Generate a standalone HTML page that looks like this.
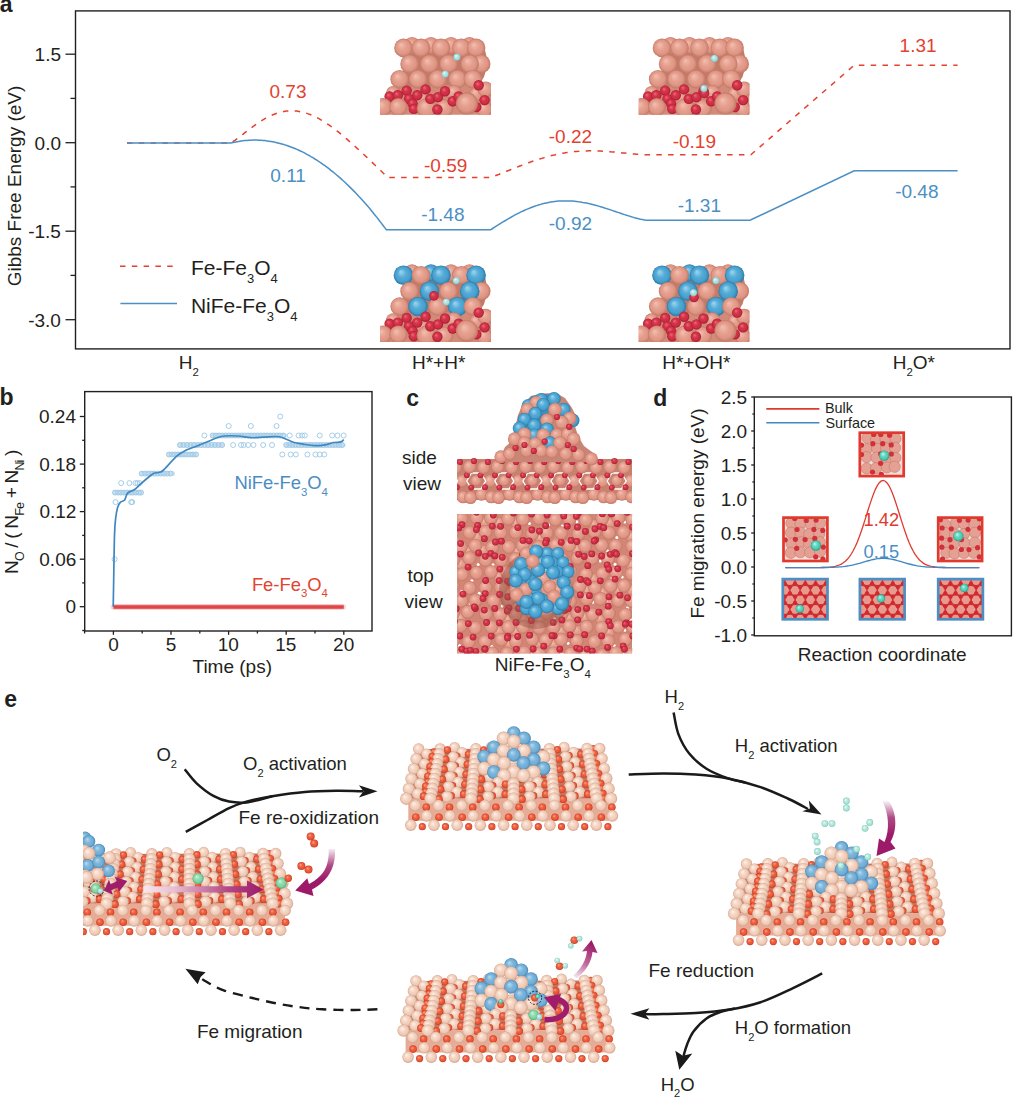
<!DOCTYPE html>
<html><head><meta charset="utf-8"><title>Figure</title>
<style>html,body{margin:0;padding:0;background:#fff;} svg{display:block;}</style></head>
<body><svg width="1017" height="1097" viewBox="0 0 1017 1097" font-family="'Liberation Sans', Arial, Helvetica, sans-serif">
<rect width="1017" height="1097" fill="#fff"/>
<defs>
<radialGradient id="gFe" cx="0.5" cy="0.5" r="0.5" fx="0.36" fy="0.32"><stop offset="0" stop-color="#f3c0b0"/><stop offset="0.45" stop-color="#e6a090"/><stop offset="0.75" stop-color="#df9684"/><stop offset="1" stop-color="#c27866"/></radialGradient>
<radialGradient id="gO" cx="0.5" cy="0.5" r="0.5" fx="0.36" fy="0.32"><stop offset="0" stop-color="#ef6a7c"/><stop offset="0.45" stop-color="#d43348"/><stop offset="0.75" stop-color="#cd2e44"/><stop offset="1" stop-color="#a41c32"/></radialGradient>
<radialGradient id="gNi" cx="0.5" cy="0.5" r="0.5" fx="0.36" fy="0.32"><stop offset="0" stop-color="#9fd7f0"/><stop offset="0.45" stop-color="#54abd6"/><stop offset="0.75" stop-color="#48a0cf"/><stop offset="1" stop-color="#2c7aa6"/></radialGradient>
<radialGradient id="gH" cx="0.5" cy="0.5" r="0.5" fx="0.36" fy="0.32"><stop offset="0" stop-color="#effcfc"/><stop offset="0.45" stop-color="#b2e4e4"/><stop offset="0.75" stop-color="#a4dcdc"/><stop offset="1" stop-color="#78baba"/></radialGradient>
<radialGradient id="gP" cx="0.5" cy="0.5" r="0.5" fx="0.36" fy="0.32"><stop offset="0" stop-color="#fff3ea"/><stop offset="0.45" stop-color="#f5d5c3"/><stop offset="0.75" stop-color="#efcab6"/><stop offset="1" stop-color="#d2a48e"/></radialGradient>
<radialGradient id="gOe" cx="0.5" cy="0.5" r="0.5" fx="0.36" fy="0.32"><stop offset="0" stop-color="#ffa58a"/><stop offset="0.45" stop-color="#f0603f"/><stop offset="0.75" stop-color="#ea5537"/><stop offset="1" stop-color="#c23c22"/></radialGradient>
<radialGradient id="gNe" cx="0.5" cy="0.5" r="0.5" fx="0.36" fy="0.32"><stop offset="0" stop-color="#b8dcf0"/><stop offset="0.45" stop-color="#7cb6dc"/><stop offset="0.75" stop-color="#70acd4"/><stop offset="1" stop-color="#4a88b6"/></radialGradient>
<radialGradient id="gG" cx="0.5" cy="0.5" r="0.5" fx="0.36" fy="0.32"><stop offset="0" stop-color="#d2f5e0"/><stop offset="0.45" stop-color="#8fdcb0"/><stop offset="0.75" stop-color="#7fd3a3"/><stop offset="1" stop-color="#4fae7c"/></radialGradient>
<radialGradient id="gT" cx="0.5" cy="0.5" r="0.5" fx="0.36" fy="0.32"><stop offset="0" stop-color="#b9fff0"/><stop offset="0.45" stop-color="#5fd8c0"/><stop offset="0.75" stop-color="#4ccbb2"/><stop offset="1" stop-color="#2a9a84"/></radialGradient>
<radialGradient id="gTe" cx="0.5" cy="0.5" r="0.5" fx="0.36" fy="0.32"><stop offset="0" stop-color="#eefdf9"/><stop offset="0.45" stop-color="#b8eadf"/><stop offset="0.75" stop-color="#a8e2d5"/><stop offset="1" stop-color="#80c6b8"/></radialGradient>
<radialGradient id="gFd" cx="0.5" cy="0.5" r="0.5" fx="0.36" fy="0.32"><stop offset="0" stop-color="#f7c8bc"/><stop offset="0.45" stop-color="#e8a496"/><stop offset="0.75" stop-color="#e29a8b"/><stop offset="1" stop-color="#c98272"/></radialGradient>
</defs>
<text x="-0.2" y="12.2" font-size="23" fill="#231f20" font-weight="bold">a</text>
<rect x="75.5" y="10.9" width="934.5" height="338" fill="none" stroke="#231f20" stroke-width="1.4"/>
<line x1="65.5" y1="54.2" x2="75.5" y2="54.2" stroke="#231f20" stroke-width="1.3"/>
<text x="34.6" y="61.2" font-size="19" fill="#231f20">1.5</text>
<line x1="65.5" y1="142.7" x2="75.5" y2="142.7" stroke="#231f20" stroke-width="1.3"/>
<text x="34.6" y="149.7" font-size="19" fill="#231f20">0.0</text>
<line x1="65.5" y1="231.2" x2="75.5" y2="231.2" stroke="#231f20" stroke-width="1.3"/>
<text x="28.2" y="238.2" font-size="19" fill="#231f20">-1.5</text>
<line x1="65.5" y1="319.7" x2="75.5" y2="319.7" stroke="#231f20" stroke-width="1.3"/>
<text x="28.2" y="326.7" font-size="19" fill="#231f20">-3.0</text>
<line x1="70.5" y1="98.4" x2="75.5" y2="98.4" stroke="#231f20" stroke-width="1.3"/>
<line x1="70.5" y1="186.9" x2="75.5" y2="186.9" stroke="#231f20" stroke-width="1.3"/>
<line x1="70.5" y1="275.4" x2="75.5" y2="275.4" stroke="#231f20" stroke-width="1.3"/>
<text transform="translate(21.2,186) rotate(-90)" text-anchor="middle" font-size="19" fill="#231f20">Gibbs Free Energy (eV)</text>
<text x="178.8" y="369" font-size="19" fill="#231f20"><tspan>H</tspan><tspan dy="6.5" font-size="11.4">2</tspan></text>
<text x="412" y="369" font-size="19" fill="#231f20">H*+H*</text>
<text x="662.2" y="369" font-size="19" fill="#231f20">H*+OH*</text>
<text x="892.7" y="369" font-size="19" fill="#231f20"><tspan>H</tspan><tspan dy="6.5" font-size="11.4">2</tspan><tspan dy="-6.5">O*</tspan></text>
<path d="M127,142.9 L230.9,143.1 L230.9,143.1 L232.9,141.7 L234.9,140.3 L236.9,138.8 L238.9,137.3 L240.9,135.8 L242.9,134.3 L244.9,132.7 L246.9,131.2 L248.9,129.6 L250.9,128.1 L252.9,126.6 L254.9,125.2 L256.9,123.8 L258.9,122.4 L260.9,121.1 L262.9,119.9 L264.9,118.7 L266.9,117.6 L268.9,116.6 L270.9,115.6 L272.9,114.8 L274.9,114 L276.9,113.3 L278.9,112.6 L280.9,112.1 L282.9,111.7 L284.9,111.3 L286.9,111.1 L288.9,110.9 L290.9,110.8 L292.9,110.8 L294.9,110.9 L296.9,111.1 L298.9,111.4 L300.9,111.8 L302.9,112.2 L304.9,112.7 L306.9,113.4 L308.9,114.1 L310.9,114.8 L312.9,115.7 L314.9,116.6 L316.9,117.6 L318.9,118.7 L320.9,119.8 L322.9,121 L324.9,122.2 L326.9,123.6 L328.9,124.9 L330.9,126.3 L332.9,127.8 L334.9,129.3 L336.9,130.9 L338.9,132.4 L340.9,134.1 L342.9,135.7 L344.9,137.4 L346.9,139.1 L348.9,140.9 L350.9,142.6 L352.9,144.4 L354.9,146.2 L356.9,148.1 L358.9,149.9 L360.9,151.7 L362.9,153.6 L364.9,155.5 L366.9,157.4 L368.9,159.3 L370.9,161.2 L372.9,163.1 L374.9,165 L376.9,166.9 L378.9,168.8 L380.9,170.8 L382.9,172.8 L384.9,174.7 L386.9,176.7 L387.6,177.4 L490.6,177.4 L490.6,177.4 L492.6,176.7 L494.6,176 L496.6,175.2 L498.6,174.5 L500.6,173.7 L502.6,172.9 L504.6,172.1 L506.6,171.3 L508.6,170.5 L510.6,169.7 L512.6,168.9 L514.6,168.1 L516.6,167.3 L518.6,166.5 L520.6,165.8 L522.6,165 L524.6,164.2 L526.6,163.5 L528.6,162.7 L530.6,162 L532.6,161.3 L534.6,160.6 L536.6,159.9 L538.6,159.3 L540.6,158.7 L542.6,158.1 L544.6,157.5 L546.6,156.9 L548.6,156.4 L550.6,155.8 L552.6,155.3 L554.6,154.9 L556.6,154.4 L558.6,154 L560.6,153.6 L562.6,153.2 L564.6,152.9 L566.6,152.6 L568.6,152.3 L570.6,152 L572.6,151.8 L574.6,151.6 L576.6,151.4 L578.6,151.3 L580.6,151.1 L582.6,151 L584.6,150.9 L586.6,150.9 L588.6,150.8 L590.6,150.8 L592.6,150.8 L594.6,150.9 L596.6,150.9 L598.6,151 L600.6,151.1 L602.6,151.2 L604.6,151.3 L606.6,151.4 L608.6,151.6 L610.6,151.8 L612.6,151.9 L614.6,152.1 L616.6,152.3 L618.6,152.5 L620.6,152.7 L622.6,152.9 L624.6,153.1 L626.6,153.3 L628.6,153.5 L630.6,153.7 L632.6,153.9 L634.6,154 L636.6,154.2 L638.6,154.3 L640.6,154.5 L642.6,154.6 L644.6,154.7 L646.6,154.7 L648.6,154.8 L650,154.8 L750.8,154.8 L854.2,65.2 L957.6,65.2" fill="none" stroke="#e4412f" stroke-width="1.5" stroke-dasharray="5.5 6.3"/>
<path d="M127,142.9 L230.9,143.1 L230.9,143.1 L232.9,142.6 L234.9,142.2 L236.9,141.8 L238.9,141.4 L240.9,141.1 L242.9,140.8 L244.9,140.6 L246.9,140.4 L248.9,140.3 L250.9,140.2 L252.9,140.1 L254.9,140.1 L256.9,140.1 L258.9,140.2 L260.9,140.3 L262.9,140.4 L264.9,140.6 L266.9,140.9 L268.9,141.2 L270.9,141.5 L272.9,141.8 L274.9,142.2 L276.9,142.7 L278.9,143.2 L280.9,143.7 L282.9,144.3 L284.9,144.9 L286.9,145.5 L288.9,146.2 L290.9,147 L292.9,147.7 L294.9,148.5 L296.9,149.4 L298.9,150.3 L300.9,151.2 L302.9,152.2 L304.9,153.2 L306.9,154.3 L308.9,155.4 L310.9,156.6 L312.9,157.7 L314.9,159 L316.9,160.2 L318.9,161.5 L320.9,162.9 L322.9,164.3 L324.9,165.7 L326.9,167.2 L328.9,168.7 L330.9,170.3 L332.9,171.9 L334.9,173.5 L336.9,175.2 L338.9,176.9 L340.9,178.6 L342.9,180.5 L344.9,182.3 L346.9,184.2 L348.9,186.1 L350.9,188.1 L352.9,190.1 L354.9,192.1 L356.9,194.2 L358.9,196.4 L360.9,198.5 L362.9,200.7 L364.9,203 L366.9,205.3 L368.9,207.6 L370.9,210 L372.9,212.5 L374.9,214.9 L376.9,217.4 L378.9,220 L380.9,222.6 L382.9,225.2 L384.9,227.9 L386.3,229.8 L490.6,229.8 L490.6,229.8 L492.6,228.5 L494.6,227.2 L496.6,225.9 L498.6,224.7 L500.6,223.4 L502.6,222.2 L504.6,221 L506.6,219.8 L508.6,218.6 L510.6,217.5 L512.6,216.3 L514.6,215.2 L516.6,214.2 L518.6,213.2 L520.6,212.2 L522.6,211.2 L524.6,210.3 L526.6,209.4 L528.6,208.6 L530.6,207.8 L532.6,207 L534.6,206.3 L536.6,205.6 L538.6,205 L540.6,204.4 L542.6,203.8 L544.6,203.3 L546.6,202.9 L548.6,202.5 L550.6,202.1 L552.6,201.8 L554.6,201.5 L556.6,201.3 L558.6,201.1 L560.6,201 L562.6,200.9 L564.6,200.9 L566.6,200.9 L568.6,200.9 L570.6,201 L572.6,201.1 L574.6,201.3 L576.6,201.5 L578.6,201.8 L580.6,202 L582.6,202.4 L584.6,202.7 L586.6,203.1 L588.6,203.6 L590.6,204 L592.6,204.5 L594.6,205 L596.6,205.6 L598.6,206.1 L600.6,206.7 L602.6,207.3 L604.6,208 L606.6,208.6 L608.6,209.3 L610.6,209.9 L612.6,210.6 L614.6,211.3 L616.6,212 L618.6,212.6 L620.6,213.3 L622.6,214 L624.6,214.6 L626.6,215.3 L628.6,215.9 L630.6,216.5 L632.6,217.1 L634.6,217.7 L636.6,218.2 L638.6,218.7 L640.6,219.2 L642.6,219.6 L644.6,220 L646.4,220.3 L750,220.3 L854.2,170.8 L957.6,170.8" fill="none" stroke="#4b8fc4" stroke-width="1.5"/>
<text x="269.5" y="98" font-size="19" fill="#e4412f">0.73</text>
<text x="424" y="172" font-size="19" fill="#e4412f">-0.59</text>
<text x="548.8" y="143.1" font-size="19" fill="#e4412f">-0.22</text>
<text x="672.7" y="147.5" font-size="19" fill="#e4412f">-0.19</text>
<text x="899.6" y="52.4" font-size="19" fill="#e4412f">1.31</text>
<text x="270.3" y="181.5" font-size="19" fill="#4b8fc4">0.11</text>
<text x="421.2" y="220.6" font-size="19" fill="#4b8fc4">-1.48</text>
<text x="548.8" y="229.5" font-size="19" fill="#4b8fc4">-0.92</text>
<text x="677.7" y="211.9" font-size="19" fill="#4b8fc4">-1.31</text>
<text x="895.2" y="197.5" font-size="19" fill="#4b8fc4">-0.48</text>
<line x1="120" y1="266.2" x2="177.2" y2="266.2" stroke="#e4412f" stroke-width="1.5" stroke-dasharray="5.5 6.3"/>
<line x1="120.4" y1="303.5" x2="177" y2="303.5" stroke="#4b8fc4" stroke-width="1.6"/>
<text x="190.9" y="274.9" font-size="21" fill="#231f20"><tspan>Fe-Fe</tspan><tspan dy="7.8" font-size="13">3</tspan><tspan dy="-7.8">O</tspan><tspan dy="7.8" font-size="13">4</tspan></text>
<text x="190.9" y="313.2" font-size="21" fill="#231f20"><tspan>NiFe-Fe</tspan><tspan dy="7.8" font-size="13">3</tspan><tspan dy="-7.8">O</tspan><tspan dy="7.8" font-size="13">4</tspan></text>
<text x="-0.5" y="405.4" font-size="23" fill="#231f20" font-weight="bold">b</text>
<rect x="84.7" y="391.6" width="287.3" height="239.4" fill="none" stroke="#231f20" stroke-width="1.4"/>
<line x1="79.8" y1="606.7" x2="84.7" y2="606.7" stroke="#231f20" stroke-width="1.3"/>
<text x="65.6" y="613.2" font-size="19" fill="#231f20">0</text>
<line x1="79.8" y1="559.2" x2="84.7" y2="559.2" stroke="#231f20" stroke-width="1.3"/>
<text x="39.3" y="565.7" font-size="19" fill="#231f20">0.06</text>
<line x1="79.8" y1="511.6" x2="84.7" y2="511.6" stroke="#231f20" stroke-width="1.3"/>
<text x="39.4" y="518.1" font-size="19" fill="#231f20">0.12</text>
<line x1="79.8" y1="464.1" x2="84.7" y2="464.1" stroke="#231f20" stroke-width="1.3"/>
<text x="39.2" y="470.6" font-size="19" fill="#231f20">0.18</text>
<line x1="79.8" y1="416.5" x2="84.7" y2="416.5" stroke="#231f20" stroke-width="1.3"/>
<text x="39" y="423" font-size="19" fill="#231f20">0.24</text>
<line x1="82.2" y1="630.5" x2="84.7" y2="630.5" stroke="#231f20" stroke-width="1.3"/>
<line x1="82.2" y1="582.9" x2="84.7" y2="582.9" stroke="#231f20" stroke-width="1.3"/>
<line x1="82.2" y1="535.4" x2="84.7" y2="535.4" stroke="#231f20" stroke-width="1.3"/>
<line x1="82.2" y1="487.8" x2="84.7" y2="487.8" stroke="#231f20" stroke-width="1.3"/>
<line x1="82.2" y1="440.3" x2="84.7" y2="440.3" stroke="#231f20" stroke-width="1.3"/>
<line x1="113.4" y1="631" x2="113.4" y2="634.8" stroke="#231f20" stroke-width="1.3"/>
<text x="108.2" y="651" font-size="19" fill="#231f20">0</text>
<line x1="171" y1="631" x2="171" y2="634.8" stroke="#231f20" stroke-width="1.3"/>
<text x="165.7" y="651" font-size="19" fill="#231f20">5</text>
<line x1="228.6" y1="631" x2="228.6" y2="634.8" stroke="#231f20" stroke-width="1.3"/>
<text x="217.7" y="651" font-size="19" fill="#231f20">10</text>
<line x1="286.2" y1="631" x2="286.2" y2="634.8" stroke="#231f20" stroke-width="1.3"/>
<text x="275.3" y="651" font-size="19" fill="#231f20">15</text>
<line x1="343.8" y1="631" x2="343.8" y2="634.8" stroke="#231f20" stroke-width="1.3"/>
<text x="333.1" y="651" font-size="19" fill="#231f20">20</text>
<line x1="84.6" y1="631" x2="84.6" y2="633.5" stroke="#231f20" stroke-width="1.3"/>
<line x1="142.2" y1="631" x2="142.2" y2="633.5" stroke="#231f20" stroke-width="1.3"/>
<line x1="199.8" y1="631" x2="199.8" y2="633.5" stroke="#231f20" stroke-width="1.3"/>
<line x1="257.4" y1="631" x2="257.4" y2="633.5" stroke="#231f20" stroke-width="1.3"/>
<line x1="315" y1="631" x2="315" y2="633.5" stroke="#231f20" stroke-width="1.3"/>
<text x="192.5" y="673.3" font-size="19" fill="#231f20">Time (ps)</text>
<text transform="translate(18.4,511.8) rotate(-90)" text-anchor="middle" font-size="19" fill="#231f20" textLength="124.4" lengthAdjust="spacing">N<tspan font-size="12.5" dy="6">O</tspan><tspan dy="-6"> / ( N</tspan><tspan font-size="12.5" dy="6">Fe</tspan><tspan dy="-6"> + N</tspan><tspan font-size="12.5" dy="6">Ni</tspan><tspan dy="-6"> )</tspan></text>
<rect x="139.2" y="471.1" width="35.8" height="5" rx="2.5" fill="#c9e0f1"/>
<rect x="177.5" y="442.5" width="47.5" height="5" rx="2.5" fill="#c9e0f1"/>
<rect x="210.2" y="433" width="76.7" height="5" rx="2.5" fill="#c9e0f1"/>
<rect x="283.7" y="442.5" width="61.8" height="5" rx="2.5" fill="#c9e0f1"/>
<rect x="112.5" y="490.1" width="19.4" height="5" rx="2.5" fill="#c9e0f1"/>
<rect x="130.3" y="490.1" width="13.2" height="5" rx="2.5" fill="#c9e0f1"/>
<rect x="166.5" y="452" width="32" height="5" rx="2.5" fill="#c9e0f1"/>
<circle cx="280.2" cy="416.5" r="2.5" fill="none" stroke="#9cc7e4" stroke-width="0.9"/>
<circle cx="228.7" cy="426" r="2.5" fill="none" stroke="#9cc7e4" stroke-width="0.9"/>
<circle cx="250.8" cy="426" r="2.5" fill="none" stroke="#9cc7e4" stroke-width="0.9"/>
<circle cx="276.5" cy="426" r="2.5" fill="none" stroke="#9cc7e4" stroke-width="0.9"/>
<circle cx="204.4" cy="435.5" r="2.5" fill="none" stroke="#9cc7e4" stroke-width="0.9"/>
<circle cx="212.7" cy="435.5" r="2.5" fill="none" stroke="#9cc7e4" stroke-width="0.9"/>
<circle cx="215.9" cy="435.5" r="2.5" fill="none" stroke="#9cc7e4" stroke-width="0.9"/>
<circle cx="219.1" cy="435.5" r="2.5" fill="none" stroke="#9cc7e4" stroke-width="0.9"/>
<circle cx="222.3" cy="435.5" r="2.5" fill="none" stroke="#9cc7e4" stroke-width="0.9"/>
<circle cx="225.5" cy="435.5" r="2.5" fill="none" stroke="#9cc7e4" stroke-width="0.9"/>
<circle cx="228.7" cy="435.5" r="2.5" fill="none" stroke="#9cc7e4" stroke-width="0.9"/>
<circle cx="231.9" cy="435.5" r="2.5" fill="none" stroke="#9cc7e4" stroke-width="0.9"/>
<circle cx="235.1" cy="435.5" r="2.5" fill="none" stroke="#9cc7e4" stroke-width="0.9"/>
<circle cx="238.3" cy="435.5" r="2.5" fill="none" stroke="#9cc7e4" stroke-width="0.9"/>
<circle cx="241.5" cy="435.5" r="2.5" fill="none" stroke="#9cc7e4" stroke-width="0.9"/>
<circle cx="244.7" cy="435.5" r="2.5" fill="none" stroke="#9cc7e4" stroke-width="0.9"/>
<circle cx="247.9" cy="435.5" r="2.5" fill="none" stroke="#9cc7e4" stroke-width="0.9"/>
<circle cx="251.1" cy="435.5" r="2.5" fill="none" stroke="#9cc7e4" stroke-width="0.9"/>
<circle cx="254.3" cy="435.5" r="2.5" fill="none" stroke="#9cc7e4" stroke-width="0.9"/>
<circle cx="257.5" cy="435.5" r="2.5" fill="none" stroke="#9cc7e4" stroke-width="0.9"/>
<circle cx="260.7" cy="435.5" r="2.5" fill="none" stroke="#9cc7e4" stroke-width="0.9"/>
<circle cx="263.9" cy="435.5" r="2.5" fill="none" stroke="#9cc7e4" stroke-width="0.9"/>
<circle cx="267.1" cy="435.5" r="2.5" fill="none" stroke="#9cc7e4" stroke-width="0.9"/>
<circle cx="270.3" cy="435.5" r="2.5" fill="none" stroke="#9cc7e4" stroke-width="0.9"/>
<circle cx="273.5" cy="435.5" r="2.5" fill="none" stroke="#9cc7e4" stroke-width="0.9"/>
<circle cx="276.7" cy="435.5" r="2.5" fill="none" stroke="#9cc7e4" stroke-width="0.9"/>
<circle cx="279.9" cy="435.5" r="2.5" fill="none" stroke="#9cc7e4" stroke-width="0.9"/>
<circle cx="283.1" cy="435.5" r="2.5" fill="none" stroke="#9cc7e4" stroke-width="0.9"/>
<circle cx="289.7" cy="435.5" r="2.5" fill="none" stroke="#9cc7e4" stroke-width="0.9"/>
<circle cx="298.6" cy="435.5" r="2.5" fill="none" stroke="#9cc7e4" stroke-width="0.9"/>
<circle cx="302.1" cy="435.5" r="2.5" fill="none" stroke="#9cc7e4" stroke-width="0.9"/>
<circle cx="304.8" cy="435.5" r="2.5" fill="none" stroke="#9cc7e4" stroke-width="0.9"/>
<circle cx="319.8" cy="435.5" r="2.5" fill="none" stroke="#9cc7e4" stroke-width="0.9"/>
<circle cx="332.2" cy="435.5" r="2.5" fill="none" stroke="#9cc7e4" stroke-width="0.9"/>
<circle cx="337.5" cy="435.5" r="2.5" fill="none" stroke="#9cc7e4" stroke-width="0.9"/>
<circle cx="343.7" cy="435.5" r="2.5" fill="none" stroke="#9cc7e4" stroke-width="0.9"/>
<circle cx="180" cy="445" r="2.5" fill="none" stroke="#9cc7e4" stroke-width="0.9"/>
<circle cx="183.5" cy="445" r="2.5" fill="none" stroke="#9cc7e4" stroke-width="0.9"/>
<circle cx="187" cy="445" r="2.5" fill="none" stroke="#9cc7e4" stroke-width="0.9"/>
<circle cx="190.5" cy="445" r="2.5" fill="none" stroke="#9cc7e4" stroke-width="0.9"/>
<circle cx="194" cy="445" r="2.5" fill="none" stroke="#9cc7e4" stroke-width="0.9"/>
<circle cx="197.5" cy="445" r="2.5" fill="none" stroke="#9cc7e4" stroke-width="0.9"/>
<circle cx="201" cy="445" r="2.5" fill="none" stroke="#9cc7e4" stroke-width="0.9"/>
<circle cx="204.5" cy="445" r="2.5" fill="none" stroke="#9cc7e4" stroke-width="0.9"/>
<circle cx="208" cy="445" r="2.5" fill="none" stroke="#9cc7e4" stroke-width="0.9"/>
<circle cx="211.5" cy="445" r="2.5" fill="none" stroke="#9cc7e4" stroke-width="0.9"/>
<circle cx="215" cy="445" r="2.5" fill="none" stroke="#9cc7e4" stroke-width="0.9"/>
<circle cx="218.5" cy="445" r="2.5" fill="none" stroke="#9cc7e4" stroke-width="0.9"/>
<circle cx="222" cy="445" r="2.5" fill="none" stroke="#9cc7e4" stroke-width="0.9"/>
<circle cx="233.1" cy="445" r="2.5" fill="none" stroke="#9cc7e4" stroke-width="0.9"/>
<circle cx="241" cy="445" r="2.5" fill="none" stroke="#9cc7e4" stroke-width="0.9"/>
<circle cx="243.7" cy="445" r="2.5" fill="none" stroke="#9cc7e4" stroke-width="0.9"/>
<circle cx="248.1" cy="445" r="2.5" fill="none" stroke="#9cc7e4" stroke-width="0.9"/>
<circle cx="253.5" cy="445" r="2.5" fill="none" stroke="#9cc7e4" stroke-width="0.9"/>
<circle cx="263.2" cy="445" r="2.5" fill="none" stroke="#9cc7e4" stroke-width="0.9"/>
<circle cx="272" cy="445" r="2.5" fill="none" stroke="#9cc7e4" stroke-width="0.9"/>
<circle cx="286.2" cy="445" r="2.5" fill="none" stroke="#9cc7e4" stroke-width="0.9"/>
<circle cx="289.3" cy="445" r="2.5" fill="none" stroke="#9cc7e4" stroke-width="0.9"/>
<circle cx="292.4" cy="445" r="2.5" fill="none" stroke="#9cc7e4" stroke-width="0.9"/>
<circle cx="295.5" cy="445" r="2.5" fill="none" stroke="#9cc7e4" stroke-width="0.9"/>
<circle cx="298.6" cy="445" r="2.5" fill="none" stroke="#9cc7e4" stroke-width="0.9"/>
<circle cx="301.7" cy="445" r="2.5" fill="none" stroke="#9cc7e4" stroke-width="0.9"/>
<circle cx="304.8" cy="445" r="2.5" fill="none" stroke="#9cc7e4" stroke-width="0.9"/>
<circle cx="307.9" cy="445" r="2.5" fill="none" stroke="#9cc7e4" stroke-width="0.9"/>
<circle cx="311" cy="445" r="2.5" fill="none" stroke="#9cc7e4" stroke-width="0.9"/>
<circle cx="314.1" cy="445" r="2.5" fill="none" stroke="#9cc7e4" stroke-width="0.9"/>
<circle cx="317.2" cy="445" r="2.5" fill="none" stroke="#9cc7e4" stroke-width="0.9"/>
<circle cx="320.3" cy="445" r="2.5" fill="none" stroke="#9cc7e4" stroke-width="0.9"/>
<circle cx="323.4" cy="445" r="2.5" fill="none" stroke="#9cc7e4" stroke-width="0.9"/>
<circle cx="326.5" cy="445" r="2.5" fill="none" stroke="#9cc7e4" stroke-width="0.9"/>
<circle cx="329.6" cy="445" r="2.5" fill="none" stroke="#9cc7e4" stroke-width="0.9"/>
<circle cx="332.7" cy="445" r="2.5" fill="none" stroke="#9cc7e4" stroke-width="0.9"/>
<circle cx="335.8" cy="445" r="2.5" fill="none" stroke="#9cc7e4" stroke-width="0.9"/>
<circle cx="338.9" cy="445" r="2.5" fill="none" stroke="#9cc7e4" stroke-width="0.9"/>
<circle cx="342" cy="445" r="2.5" fill="none" stroke="#9cc7e4" stroke-width="0.9"/>
<circle cx="169" cy="454.5" r="2.5" fill="none" stroke="#9cc7e4" stroke-width="0.9"/>
<circle cx="172" cy="454.5" r="2.5" fill="none" stroke="#9cc7e4" stroke-width="0.9"/>
<circle cx="175" cy="454.5" r="2.5" fill="none" stroke="#9cc7e4" stroke-width="0.9"/>
<circle cx="178" cy="454.5" r="2.5" fill="none" stroke="#9cc7e4" stroke-width="0.9"/>
<circle cx="181" cy="454.5" r="2.5" fill="none" stroke="#9cc7e4" stroke-width="0.9"/>
<circle cx="184" cy="454.5" r="2.5" fill="none" stroke="#9cc7e4" stroke-width="0.9"/>
<circle cx="187" cy="454.5" r="2.5" fill="none" stroke="#9cc7e4" stroke-width="0.9"/>
<circle cx="190" cy="454.5" r="2.5" fill="none" stroke="#9cc7e4" stroke-width="0.9"/>
<circle cx="193" cy="454.5" r="2.5" fill="none" stroke="#9cc7e4" stroke-width="0.9"/>
<circle cx="196" cy="454.5" r="2.5" fill="none" stroke="#9cc7e4" stroke-width="0.9"/>
<circle cx="282.3" cy="454.5" r="2.5" fill="none" stroke="#9cc7e4" stroke-width="0.9"/>
<circle cx="290.6" cy="454.5" r="2.5" fill="none" stroke="#9cc7e4" stroke-width="0.9"/>
<circle cx="295.9" cy="454.5" r="2.5" fill="none" stroke="#9cc7e4" stroke-width="0.9"/>
<circle cx="307.4" cy="454.5" r="2.5" fill="none" stroke="#9cc7e4" stroke-width="0.9"/>
<circle cx="315.4" cy="454.5" r="2.5" fill="none" stroke="#9cc7e4" stroke-width="0.9"/>
<circle cx="319.8" cy="454.5" r="2.5" fill="none" stroke="#9cc7e4" stroke-width="0.9"/>
<circle cx="324.2" cy="454.5" r="2.5" fill="none" stroke="#9cc7e4" stroke-width="0.9"/>
<circle cx="141.7" cy="473.6" r="2.5" fill="none" stroke="#9cc7e4" stroke-width="0.9"/>
<circle cx="144.9" cy="473.6" r="2.5" fill="none" stroke="#9cc7e4" stroke-width="0.9"/>
<circle cx="148.1" cy="473.6" r="2.5" fill="none" stroke="#9cc7e4" stroke-width="0.9"/>
<circle cx="151.3" cy="473.6" r="2.5" fill="none" stroke="#9cc7e4" stroke-width="0.9"/>
<circle cx="154.5" cy="473.6" r="2.5" fill="none" stroke="#9cc7e4" stroke-width="0.9"/>
<circle cx="157.7" cy="473.6" r="2.5" fill="none" stroke="#9cc7e4" stroke-width="0.9"/>
<circle cx="160.9" cy="473.6" r="2.5" fill="none" stroke="#9cc7e4" stroke-width="0.9"/>
<circle cx="164.1" cy="473.6" r="2.5" fill="none" stroke="#9cc7e4" stroke-width="0.9"/>
<circle cx="167.3" cy="473.6" r="2.5" fill="none" stroke="#9cc7e4" stroke-width="0.9"/>
<circle cx="170.5" cy="473.6" r="2.5" fill="none" stroke="#9cc7e4" stroke-width="0.9"/>
<circle cx="121.2" cy="483.1" r="2.5" fill="none" stroke="#9cc7e4" stroke-width="0.9"/>
<circle cx="129.4" cy="483.1" r="2.5" fill="none" stroke="#9cc7e4" stroke-width="0.9"/>
<circle cx="135.5" cy="483.1" r="2.5" fill="none" stroke="#9cc7e4" stroke-width="0.9"/>
<circle cx="137.5" cy="483.1" r="2.5" fill="none" stroke="#9cc7e4" stroke-width="0.9"/>
<circle cx="139.7" cy="483.1" r="2.5" fill="none" stroke="#9cc7e4" stroke-width="0.9"/>
<circle cx="115" cy="492.6" r="2.5" fill="none" stroke="#9cc7e4" stroke-width="0.9"/>
<circle cx="118" cy="492.6" r="2.5" fill="none" stroke="#9cc7e4" stroke-width="0.9"/>
<circle cx="121" cy="492.6" r="2.5" fill="none" stroke="#9cc7e4" stroke-width="0.9"/>
<circle cx="124" cy="492.6" r="2.5" fill="none" stroke="#9cc7e4" stroke-width="0.9"/>
<circle cx="127" cy="492.6" r="2.5" fill="none" stroke="#9cc7e4" stroke-width="0.9"/>
<circle cx="130" cy="492.6" r="2.5" fill="none" stroke="#9cc7e4" stroke-width="0.9"/>
<circle cx="132.8" cy="492.6" r="2.5" fill="none" stroke="#9cc7e4" stroke-width="0.9"/>
<circle cx="135.8" cy="492.6" r="2.5" fill="none" stroke="#9cc7e4" stroke-width="0.9"/>
<circle cx="138.8" cy="492.6" r="2.5" fill="none" stroke="#9cc7e4" stroke-width="0.9"/>
<circle cx="141" cy="492.6" r="2.5" fill="none" stroke="#9cc7e4" stroke-width="0.9"/>
<circle cx="115.5" cy="502.1" r="2.5" fill="none" stroke="#9cc7e4" stroke-width="0.9"/>
<circle cx="131.2" cy="502.1" r="2.5" fill="none" stroke="#9cc7e4" stroke-width="0.9"/>
<circle cx="132.2" cy="502.1" r="2.5" fill="none" stroke="#9cc7e4" stroke-width="0.9"/>
<circle cx="114.6" cy="559.2" r="2.5" fill="none" stroke="#9cc7e4" stroke-width="0.9"/>
<circle cx="113.4" cy="606.9" r="2.3" fill="none" stroke="#f2b4b0" stroke-width="0.6"/>
<circle cx="114.6" cy="606.9" r="2.3" fill="none" stroke="#f2b4b0" stroke-width="0.6"/>
<circle cx="115.7" cy="606.9" r="2.3" fill="none" stroke="#f2b4b0" stroke-width="0.6"/>
<circle cx="116.9" cy="606.9" r="2.3" fill="none" stroke="#f2b4b0" stroke-width="0.6"/>
<circle cx="118" cy="606.9" r="2.3" fill="none" stroke="#f2b4b0" stroke-width="0.6"/>
<circle cx="119.2" cy="606.9" r="2.3" fill="none" stroke="#f2b4b0" stroke-width="0.6"/>
<circle cx="120.3" cy="606.9" r="2.3" fill="none" stroke="#f2b4b0" stroke-width="0.6"/>
<circle cx="121.5" cy="606.9" r="2.3" fill="none" stroke="#f2b4b0" stroke-width="0.6"/>
<circle cx="122.6" cy="606.9" r="2.3" fill="none" stroke="#f2b4b0" stroke-width="0.6"/>
<circle cx="123.8" cy="606.9" r="2.3" fill="none" stroke="#f2b4b0" stroke-width="0.6"/>
<circle cx="124.9" cy="606.9" r="2.3" fill="none" stroke="#f2b4b0" stroke-width="0.6"/>
<circle cx="126.1" cy="606.9" r="2.3" fill="none" stroke="#f2b4b0" stroke-width="0.6"/>
<circle cx="127.2" cy="606.9" r="2.3" fill="none" stroke="#f2b4b0" stroke-width="0.6"/>
<circle cx="128.3" cy="606.9" r="2.3" fill="none" stroke="#f2b4b0" stroke-width="0.6"/>
<circle cx="129.5" cy="606.9" r="2.3" fill="none" stroke="#f2b4b0" stroke-width="0.6"/>
<circle cx="130.7" cy="606.9" r="2.3" fill="none" stroke="#f2b4b0" stroke-width="0.6"/>
<circle cx="131.8" cy="606.9" r="2.3" fill="none" stroke="#f2b4b0" stroke-width="0.6"/>
<circle cx="132.9" cy="606.9" r="2.3" fill="none" stroke="#f2b4b0" stroke-width="0.6"/>
<circle cx="134.1" cy="606.9" r="2.3" fill="none" stroke="#f2b4b0" stroke-width="0.6"/>
<circle cx="135.2" cy="606.9" r="2.3" fill="none" stroke="#f2b4b0" stroke-width="0.6"/>
<circle cx="136.4" cy="606.9" r="2.3" fill="none" stroke="#f2b4b0" stroke-width="0.6"/>
<circle cx="137.6" cy="606.9" r="2.3" fill="none" stroke="#f2b4b0" stroke-width="0.6"/>
<circle cx="138.7" cy="606.9" r="2.3" fill="none" stroke="#f2b4b0" stroke-width="0.6"/>
<circle cx="139.8" cy="606.9" r="2.3" fill="none" stroke="#f2b4b0" stroke-width="0.6"/>
<circle cx="141" cy="606.9" r="2.3" fill="none" stroke="#f2b4b0" stroke-width="0.6"/>
<circle cx="142.2" cy="606.9" r="2.3" fill="none" stroke="#f2b4b0" stroke-width="0.6"/>
<circle cx="143.3" cy="606.9" r="2.3" fill="none" stroke="#f2b4b0" stroke-width="0.6"/>
<circle cx="144.4" cy="606.9" r="2.3" fill="none" stroke="#f2b4b0" stroke-width="0.6"/>
<circle cx="145.6" cy="606.9" r="2.3" fill="none" stroke="#f2b4b0" stroke-width="0.6"/>
<circle cx="146.8" cy="606.9" r="2.3" fill="none" stroke="#f2b4b0" stroke-width="0.6"/>
<circle cx="147.9" cy="606.9" r="2.3" fill="none" stroke="#f2b4b0" stroke-width="0.6"/>
<circle cx="149.1" cy="606.9" r="2.3" fill="none" stroke="#f2b4b0" stroke-width="0.6"/>
<circle cx="150.2" cy="606.9" r="2.3" fill="none" stroke="#f2b4b0" stroke-width="0.6"/>
<circle cx="151.3" cy="606.9" r="2.3" fill="none" stroke="#f2b4b0" stroke-width="0.6"/>
<circle cx="152.5" cy="606.9" r="2.3" fill="none" stroke="#f2b4b0" stroke-width="0.6"/>
<circle cx="153.7" cy="606.9" r="2.3" fill="none" stroke="#f2b4b0" stroke-width="0.6"/>
<circle cx="154.8" cy="606.9" r="2.3" fill="none" stroke="#f2b4b0" stroke-width="0.6"/>
<circle cx="155.9" cy="606.9" r="2.3" fill="none" stroke="#f2b4b0" stroke-width="0.6"/>
<circle cx="157.1" cy="606.9" r="2.3" fill="none" stroke="#f2b4b0" stroke-width="0.6"/>
<circle cx="158.2" cy="606.9" r="2.3" fill="none" stroke="#f2b4b0" stroke-width="0.6"/>
<circle cx="159.4" cy="606.9" r="2.3" fill="none" stroke="#f2b4b0" stroke-width="0.6"/>
<circle cx="160.6" cy="606.9" r="2.3" fill="none" stroke="#f2b4b0" stroke-width="0.6"/>
<circle cx="161.7" cy="606.9" r="2.3" fill="none" stroke="#f2b4b0" stroke-width="0.6"/>
<circle cx="162.8" cy="606.9" r="2.3" fill="none" stroke="#f2b4b0" stroke-width="0.6"/>
<circle cx="164" cy="606.9" r="2.3" fill="none" stroke="#f2b4b0" stroke-width="0.6"/>
<circle cx="165.2" cy="606.9" r="2.3" fill="none" stroke="#f2b4b0" stroke-width="0.6"/>
<circle cx="166.3" cy="606.9" r="2.3" fill="none" stroke="#f2b4b0" stroke-width="0.6"/>
<circle cx="167.4" cy="606.9" r="2.3" fill="none" stroke="#f2b4b0" stroke-width="0.6"/>
<circle cx="168.6" cy="606.9" r="2.3" fill="none" stroke="#f2b4b0" stroke-width="0.6"/>
<circle cx="169.8" cy="606.9" r="2.3" fill="none" stroke="#f2b4b0" stroke-width="0.6"/>
<circle cx="170.9" cy="606.9" r="2.3" fill="none" stroke="#f2b4b0" stroke-width="0.6"/>
<circle cx="172.1" cy="606.9" r="2.3" fill="none" stroke="#f2b4b0" stroke-width="0.6"/>
<circle cx="173.2" cy="606.9" r="2.3" fill="none" stroke="#f2b4b0" stroke-width="0.6"/>
<circle cx="174.3" cy="606.9" r="2.3" fill="none" stroke="#f2b4b0" stroke-width="0.6"/>
<circle cx="175.5" cy="606.9" r="2.3" fill="none" stroke="#f2b4b0" stroke-width="0.6"/>
<circle cx="176.7" cy="606.9" r="2.3" fill="none" stroke="#f2b4b0" stroke-width="0.6"/>
<circle cx="177.8" cy="606.9" r="2.3" fill="none" stroke="#f2b4b0" stroke-width="0.6"/>
<circle cx="178.9" cy="606.9" r="2.3" fill="none" stroke="#f2b4b0" stroke-width="0.6"/>
<circle cx="180.1" cy="606.9" r="2.3" fill="none" stroke="#f2b4b0" stroke-width="0.6"/>
<circle cx="181.2" cy="606.9" r="2.3" fill="none" stroke="#f2b4b0" stroke-width="0.6"/>
<circle cx="182.4" cy="606.9" r="2.3" fill="none" stroke="#f2b4b0" stroke-width="0.6"/>
<circle cx="183.6" cy="606.9" r="2.3" fill="none" stroke="#f2b4b0" stroke-width="0.6"/>
<circle cx="184.7" cy="606.9" r="2.3" fill="none" stroke="#f2b4b0" stroke-width="0.6"/>
<circle cx="185.8" cy="606.9" r="2.3" fill="none" stroke="#f2b4b0" stroke-width="0.6"/>
<circle cx="187" cy="606.9" r="2.3" fill="none" stroke="#f2b4b0" stroke-width="0.6"/>
<circle cx="188.2" cy="606.9" r="2.3" fill="none" stroke="#f2b4b0" stroke-width="0.6"/>
<circle cx="189.3" cy="606.9" r="2.3" fill="none" stroke="#f2b4b0" stroke-width="0.6"/>
<circle cx="190.4" cy="606.9" r="2.3" fill="none" stroke="#f2b4b0" stroke-width="0.6"/>
<circle cx="191.6" cy="606.9" r="2.3" fill="none" stroke="#f2b4b0" stroke-width="0.6"/>
<circle cx="192.8" cy="606.9" r="2.3" fill="none" stroke="#f2b4b0" stroke-width="0.6"/>
<circle cx="193.9" cy="606.9" r="2.3" fill="none" stroke="#f2b4b0" stroke-width="0.6"/>
<circle cx="195.1" cy="606.9" r="2.3" fill="none" stroke="#f2b4b0" stroke-width="0.6"/>
<circle cx="196.2" cy="606.9" r="2.3" fill="none" stroke="#f2b4b0" stroke-width="0.6"/>
<circle cx="197.3" cy="606.9" r="2.3" fill="none" stroke="#f2b4b0" stroke-width="0.6"/>
<circle cx="198.5" cy="606.9" r="2.3" fill="none" stroke="#f2b4b0" stroke-width="0.6"/>
<circle cx="199.7" cy="606.9" r="2.3" fill="none" stroke="#f2b4b0" stroke-width="0.6"/>
<circle cx="200.8" cy="606.9" r="2.3" fill="none" stroke="#f2b4b0" stroke-width="0.6"/>
<circle cx="201.9" cy="606.9" r="2.3" fill="none" stroke="#f2b4b0" stroke-width="0.6"/>
<circle cx="203.1" cy="606.9" r="2.3" fill="none" stroke="#f2b4b0" stroke-width="0.6"/>
<circle cx="204.2" cy="606.9" r="2.3" fill="none" stroke="#f2b4b0" stroke-width="0.6"/>
<circle cx="205.4" cy="606.9" r="2.3" fill="none" stroke="#f2b4b0" stroke-width="0.6"/>
<circle cx="206.6" cy="606.9" r="2.3" fill="none" stroke="#f2b4b0" stroke-width="0.6"/>
<circle cx="207.7" cy="606.9" r="2.3" fill="none" stroke="#f2b4b0" stroke-width="0.6"/>
<circle cx="208.8" cy="606.9" r="2.3" fill="none" stroke="#f2b4b0" stroke-width="0.6"/>
<circle cx="210" cy="606.9" r="2.3" fill="none" stroke="#f2b4b0" stroke-width="0.6"/>
<circle cx="211.1" cy="606.9" r="2.3" fill="none" stroke="#f2b4b0" stroke-width="0.6"/>
<circle cx="212.3" cy="606.9" r="2.3" fill="none" stroke="#f2b4b0" stroke-width="0.6"/>
<circle cx="213.4" cy="606.9" r="2.3" fill="none" stroke="#f2b4b0" stroke-width="0.6"/>
<circle cx="214.6" cy="606.9" r="2.3" fill="none" stroke="#f2b4b0" stroke-width="0.6"/>
<circle cx="215.8" cy="606.9" r="2.3" fill="none" stroke="#f2b4b0" stroke-width="0.6"/>
<circle cx="216.9" cy="606.9" r="2.3" fill="none" stroke="#f2b4b0" stroke-width="0.6"/>
<circle cx="218.1" cy="606.9" r="2.3" fill="none" stroke="#f2b4b0" stroke-width="0.6"/>
<circle cx="219.2" cy="606.9" r="2.3" fill="none" stroke="#f2b4b0" stroke-width="0.6"/>
<circle cx="220.3" cy="606.9" r="2.3" fill="none" stroke="#f2b4b0" stroke-width="0.6"/>
<circle cx="221.5" cy="606.9" r="2.3" fill="none" stroke="#f2b4b0" stroke-width="0.6"/>
<circle cx="222.6" cy="606.9" r="2.3" fill="none" stroke="#f2b4b0" stroke-width="0.6"/>
<circle cx="223.8" cy="606.9" r="2.3" fill="none" stroke="#f2b4b0" stroke-width="0.6"/>
<circle cx="224.9" cy="606.9" r="2.3" fill="none" stroke="#f2b4b0" stroke-width="0.6"/>
<circle cx="226.1" cy="606.9" r="2.3" fill="none" stroke="#f2b4b0" stroke-width="0.6"/>
<circle cx="227.2" cy="606.9" r="2.3" fill="none" stroke="#f2b4b0" stroke-width="0.6"/>
<circle cx="228.4" cy="606.9" r="2.3" fill="none" stroke="#f2b4b0" stroke-width="0.6"/>
<circle cx="229.6" cy="606.9" r="2.3" fill="none" stroke="#f2b4b0" stroke-width="0.6"/>
<circle cx="230.7" cy="606.9" r="2.3" fill="none" stroke="#f2b4b0" stroke-width="0.6"/>
<circle cx="231.8" cy="606.9" r="2.3" fill="none" stroke="#f2b4b0" stroke-width="0.6"/>
<circle cx="233" cy="606.9" r="2.3" fill="none" stroke="#f2b4b0" stroke-width="0.6"/>
<circle cx="234.1" cy="606.9" r="2.3" fill="none" stroke="#f2b4b0" stroke-width="0.6"/>
<circle cx="235.3" cy="606.9" r="2.3" fill="none" stroke="#f2b4b0" stroke-width="0.6"/>
<circle cx="236.4" cy="606.9" r="2.3" fill="none" stroke="#f2b4b0" stroke-width="0.6"/>
<circle cx="237.6" cy="606.9" r="2.3" fill="none" stroke="#f2b4b0" stroke-width="0.6"/>
<circle cx="238.8" cy="606.9" r="2.3" fill="none" stroke="#f2b4b0" stroke-width="0.6"/>
<circle cx="239.9" cy="606.9" r="2.3" fill="none" stroke="#f2b4b0" stroke-width="0.6"/>
<circle cx="241.1" cy="606.9" r="2.3" fill="none" stroke="#f2b4b0" stroke-width="0.6"/>
<circle cx="242.2" cy="606.9" r="2.3" fill="none" stroke="#f2b4b0" stroke-width="0.6"/>
<circle cx="243.3" cy="606.9" r="2.3" fill="none" stroke="#f2b4b0" stroke-width="0.6"/>
<circle cx="244.5" cy="606.9" r="2.3" fill="none" stroke="#f2b4b0" stroke-width="0.6"/>
<circle cx="245.7" cy="606.9" r="2.3" fill="none" stroke="#f2b4b0" stroke-width="0.6"/>
<circle cx="246.8" cy="606.9" r="2.3" fill="none" stroke="#f2b4b0" stroke-width="0.6"/>
<circle cx="247.9" cy="606.9" r="2.3" fill="none" stroke="#f2b4b0" stroke-width="0.6"/>
<circle cx="249.1" cy="606.9" r="2.3" fill="none" stroke="#f2b4b0" stroke-width="0.6"/>
<circle cx="250.2" cy="606.9" r="2.3" fill="none" stroke="#f2b4b0" stroke-width="0.6"/>
<circle cx="251.4" cy="606.9" r="2.3" fill="none" stroke="#f2b4b0" stroke-width="0.6"/>
<circle cx="252.5" cy="606.9" r="2.3" fill="none" stroke="#f2b4b0" stroke-width="0.6"/>
<circle cx="253.7" cy="606.9" r="2.3" fill="none" stroke="#f2b4b0" stroke-width="0.6"/>
<circle cx="254.8" cy="606.9" r="2.3" fill="none" stroke="#f2b4b0" stroke-width="0.6"/>
<circle cx="256" cy="606.9" r="2.3" fill="none" stroke="#f2b4b0" stroke-width="0.6"/>
<circle cx="257.1" cy="606.9" r="2.3" fill="none" stroke="#f2b4b0" stroke-width="0.6"/>
<circle cx="258.3" cy="606.9" r="2.3" fill="none" stroke="#f2b4b0" stroke-width="0.6"/>
<circle cx="259.4" cy="606.9" r="2.3" fill="none" stroke="#f2b4b0" stroke-width="0.6"/>
<circle cx="260.6" cy="606.9" r="2.3" fill="none" stroke="#f2b4b0" stroke-width="0.6"/>
<circle cx="261.8" cy="606.9" r="2.3" fill="none" stroke="#f2b4b0" stroke-width="0.6"/>
<circle cx="262.9" cy="606.9" r="2.3" fill="none" stroke="#f2b4b0" stroke-width="0.6"/>
<circle cx="264" cy="606.9" r="2.3" fill="none" stroke="#f2b4b0" stroke-width="0.6"/>
<circle cx="265.2" cy="606.9" r="2.3" fill="none" stroke="#f2b4b0" stroke-width="0.6"/>
<circle cx="266.4" cy="606.9" r="2.3" fill="none" stroke="#f2b4b0" stroke-width="0.6"/>
<circle cx="267.5" cy="606.9" r="2.3" fill="none" stroke="#f2b4b0" stroke-width="0.6"/>
<circle cx="268.6" cy="606.9" r="2.3" fill="none" stroke="#f2b4b0" stroke-width="0.6"/>
<circle cx="269.8" cy="606.9" r="2.3" fill="none" stroke="#f2b4b0" stroke-width="0.6"/>
<circle cx="270.9" cy="606.9" r="2.3" fill="none" stroke="#f2b4b0" stroke-width="0.6"/>
<circle cx="272.1" cy="606.9" r="2.3" fill="none" stroke="#f2b4b0" stroke-width="0.6"/>
<circle cx="273.2" cy="606.9" r="2.3" fill="none" stroke="#f2b4b0" stroke-width="0.6"/>
<circle cx="274.4" cy="606.9" r="2.3" fill="none" stroke="#f2b4b0" stroke-width="0.6"/>
<circle cx="275.5" cy="606.9" r="2.3" fill="none" stroke="#f2b4b0" stroke-width="0.6"/>
<circle cx="276.7" cy="606.9" r="2.3" fill="none" stroke="#f2b4b0" stroke-width="0.6"/>
<circle cx="277.9" cy="606.9" r="2.3" fill="none" stroke="#f2b4b0" stroke-width="0.6"/>
<circle cx="279" cy="606.9" r="2.3" fill="none" stroke="#f2b4b0" stroke-width="0.6"/>
<circle cx="280.1" cy="606.9" r="2.3" fill="none" stroke="#f2b4b0" stroke-width="0.6"/>
<circle cx="281.3" cy="606.9" r="2.3" fill="none" stroke="#f2b4b0" stroke-width="0.6"/>
<circle cx="282.4" cy="606.9" r="2.3" fill="none" stroke="#f2b4b0" stroke-width="0.6"/>
<circle cx="283.6" cy="606.9" r="2.3" fill="none" stroke="#f2b4b0" stroke-width="0.6"/>
<circle cx="284.8" cy="606.9" r="2.3" fill="none" stroke="#f2b4b0" stroke-width="0.6"/>
<circle cx="285.9" cy="606.9" r="2.3" fill="none" stroke="#f2b4b0" stroke-width="0.6"/>
<circle cx="287" cy="606.9" r="2.3" fill="none" stroke="#f2b4b0" stroke-width="0.6"/>
<circle cx="288.2" cy="606.9" r="2.3" fill="none" stroke="#f2b4b0" stroke-width="0.6"/>
<circle cx="289.4" cy="606.9" r="2.3" fill="none" stroke="#f2b4b0" stroke-width="0.6"/>
<circle cx="290.5" cy="606.9" r="2.3" fill="none" stroke="#f2b4b0" stroke-width="0.6"/>
<circle cx="291.6" cy="606.9" r="2.3" fill="none" stroke="#f2b4b0" stroke-width="0.6"/>
<circle cx="292.8" cy="606.9" r="2.3" fill="none" stroke="#f2b4b0" stroke-width="0.6"/>
<circle cx="293.9" cy="606.9" r="2.3" fill="none" stroke="#f2b4b0" stroke-width="0.6"/>
<circle cx="295.1" cy="606.9" r="2.3" fill="none" stroke="#f2b4b0" stroke-width="0.6"/>
<circle cx="296.2" cy="606.9" r="2.3" fill="none" stroke="#f2b4b0" stroke-width="0.6"/>
<circle cx="297.4" cy="606.9" r="2.3" fill="none" stroke="#f2b4b0" stroke-width="0.6"/>
<circle cx="298.5" cy="606.9" r="2.3" fill="none" stroke="#f2b4b0" stroke-width="0.6"/>
<circle cx="299.7" cy="606.9" r="2.3" fill="none" stroke="#f2b4b0" stroke-width="0.6"/>
<circle cx="300.9" cy="606.9" r="2.3" fill="none" stroke="#f2b4b0" stroke-width="0.6"/>
<circle cx="302" cy="606.9" r="2.3" fill="none" stroke="#f2b4b0" stroke-width="0.6"/>
<circle cx="303.1" cy="606.9" r="2.3" fill="none" stroke="#f2b4b0" stroke-width="0.6"/>
<circle cx="304.3" cy="606.9" r="2.3" fill="none" stroke="#f2b4b0" stroke-width="0.6"/>
<circle cx="305.4" cy="606.9" r="2.3" fill="none" stroke="#f2b4b0" stroke-width="0.6"/>
<circle cx="306.6" cy="606.9" r="2.3" fill="none" stroke="#f2b4b0" stroke-width="0.6"/>
<circle cx="307.8" cy="606.9" r="2.3" fill="none" stroke="#f2b4b0" stroke-width="0.6"/>
<circle cx="308.9" cy="606.9" r="2.3" fill="none" stroke="#f2b4b0" stroke-width="0.6"/>
<circle cx="310" cy="606.9" r="2.3" fill="none" stroke="#f2b4b0" stroke-width="0.6"/>
<circle cx="311.2" cy="606.9" r="2.3" fill="none" stroke="#f2b4b0" stroke-width="0.6"/>
<circle cx="312.4" cy="606.9" r="2.3" fill="none" stroke="#f2b4b0" stroke-width="0.6"/>
<circle cx="313.5" cy="606.9" r="2.3" fill="none" stroke="#f2b4b0" stroke-width="0.6"/>
<circle cx="314.6" cy="606.9" r="2.3" fill="none" stroke="#f2b4b0" stroke-width="0.6"/>
<circle cx="315.8" cy="606.9" r="2.3" fill="none" stroke="#f2b4b0" stroke-width="0.6"/>
<circle cx="316.9" cy="606.9" r="2.3" fill="none" stroke="#f2b4b0" stroke-width="0.6"/>
<circle cx="318.1" cy="606.9" r="2.3" fill="none" stroke="#f2b4b0" stroke-width="0.6"/>
<circle cx="319.2" cy="606.9" r="2.3" fill="none" stroke="#f2b4b0" stroke-width="0.6"/>
<circle cx="320.4" cy="606.9" r="2.3" fill="none" stroke="#f2b4b0" stroke-width="0.6"/>
<circle cx="321.5" cy="606.9" r="2.3" fill="none" stroke="#f2b4b0" stroke-width="0.6"/>
<circle cx="322.7" cy="606.9" r="2.3" fill="none" stroke="#f2b4b0" stroke-width="0.6"/>
<circle cx="323.9" cy="606.9" r="2.3" fill="none" stroke="#f2b4b0" stroke-width="0.6"/>
<circle cx="325" cy="606.9" r="2.3" fill="none" stroke="#f2b4b0" stroke-width="0.6"/>
<circle cx="326.1" cy="606.9" r="2.3" fill="none" stroke="#f2b4b0" stroke-width="0.6"/>
<circle cx="327.3" cy="606.9" r="2.3" fill="none" stroke="#f2b4b0" stroke-width="0.6"/>
<circle cx="328.4" cy="606.9" r="2.3" fill="none" stroke="#f2b4b0" stroke-width="0.6"/>
<circle cx="329.6" cy="606.9" r="2.3" fill="none" stroke="#f2b4b0" stroke-width="0.6"/>
<circle cx="330.8" cy="606.9" r="2.3" fill="none" stroke="#f2b4b0" stroke-width="0.6"/>
<circle cx="331.9" cy="606.9" r="2.3" fill="none" stroke="#f2b4b0" stroke-width="0.6"/>
<circle cx="333" cy="606.9" r="2.3" fill="none" stroke="#f2b4b0" stroke-width="0.6"/>
<circle cx="334.2" cy="606.9" r="2.3" fill="none" stroke="#f2b4b0" stroke-width="0.6"/>
<circle cx="335.4" cy="606.9" r="2.3" fill="none" stroke="#f2b4b0" stroke-width="0.6"/>
<circle cx="336.5" cy="606.9" r="2.3" fill="none" stroke="#f2b4b0" stroke-width="0.6"/>
<circle cx="337.6" cy="606.9" r="2.3" fill="none" stroke="#f2b4b0" stroke-width="0.6"/>
<circle cx="338.8" cy="606.9" r="2.3" fill="none" stroke="#f2b4b0" stroke-width="0.6"/>
<circle cx="339.9" cy="606.9" r="2.3" fill="none" stroke="#f2b4b0" stroke-width="0.6"/>
<circle cx="341.1" cy="606.9" r="2.3" fill="none" stroke="#f2b4b0" stroke-width="0.6"/>
<circle cx="342.2" cy="606.9" r="2.3" fill="none" stroke="#f2b4b0" stroke-width="0.6"/>
<circle cx="343.4" cy="606.9" r="2.3" fill="none" stroke="#f2b4b0" stroke-width="0.6"/>
<line x1="113.4" y1="607" x2="343.8" y2="607" stroke="#e0454a" stroke-width="3.4"/>
<path d="M113.2,606.8 C113.3,602.2 113.5,590.8 113.7,579.4 C113.9,568 114.1,548.6 114.4,538.4 C114.7,528.1 115.1,523.1 115.7,517.9 C116.3,512.6 117,509.5 117.8,506.9 C118.6,504.3 119.4,503.2 120.5,502.1 C121.6,501 123.6,501.4 124.6,500.1 C125.6,498.9 126,495.9 126.7,494.6 C127.4,493.3 127.4,493 128.7,492.2 C129.9,491.4 132.1,491.2 134.2,489.8 C136.2,488.4 138.3,486.1 141,483.7 C143.7,481.3 148.3,477.3 150.6,475.5 C152.9,473.7 153.3,473.5 154.7,473 C156.1,472.5 157.3,473 158.8,472.5 C160.3,472 160.6,472.7 163.6,470 C166.6,467.3 172.8,459.6 176.7,456.2 C180.6,452.8 183.4,451.6 186.9,449.8 C190.4,448.1 194.2,447.1 197.7,445.7 C201.2,444.3 204.8,442.8 208,441.5 C211.2,440.2 214.5,438.6 217.2,437.7 C219.9,436.8 220.7,436.3 224.2,436 C227.7,435.7 234,435.7 238.4,436 C242.8,436.3 246.7,437.5 250.8,437.7 C254.9,437.9 259.1,437.4 263.2,437.2 C267.3,437 272.4,436.4 275.6,436.5 C278.9,436.6 279.8,436.8 282.7,437.7 C285.6,438.6 289.8,441.1 293.3,442.2 C296.8,443.3 300.4,443.7 303.9,444.3 C307.4,444.9 311,445.6 314.5,445.7 C318,445.8 321.9,445.3 325.1,444.8 C328.4,444.3 331.6,442.9 334,442.5 C336.4,442.1 338,442.4 339.3,442.2 C340.6,442 341.3,441.8 342,441.3 C342.7,440.9 343.4,439.8 343.7,439.5" fill="none" stroke="#3f87c1" stroke-width="1.7"/>
<text x="234.5" y="488.8" font-size="18.4" fill="#4a8cc2"><tspan>NiFe-Fe</tspan><tspan dy="7" font-size="11.4">3</tspan><tspan dy="-7">O</tspan><tspan dy="7" font-size="11.4">4</tspan></text>
<text x="251.9" y="590.7" font-size="18.4" fill="#e4412f"><tspan>Fe-Fe</tspan><tspan dy="6.5" font-size="11.4">3</tspan><tspan dy="-6.5">O</tspan><tspan dy="6.5" font-size="11.4">4</tspan></text>
<text x="406.3" y="406" font-size="23" fill="#231f20" font-weight="bold">c</text>
<text x="402" y="463.6" font-size="19" fill="#231f20">side</text>
<text x="403" y="489.7" font-size="19" fill="#231f20">view</text>
<text x="407.5" y="582.4" font-size="19" fill="#231f20">top</text>
<text x="404.6" y="608.3" font-size="19" fill="#231f20">view</text>
<text x="494.7" y="671.2" font-size="19" fill="#231f20"><tspan>NiFe-Fe</tspan><tspan dy="7" font-size="11.4">3</tspan><tspan dy="-7">O</tspan><tspan dy="7" font-size="11.4">4</tspan></text>
<text x="653.3" y="406" font-size="23" fill="#231f20" font-weight="bold">d</text>
<rect x="754.3" y="397" width="257.1" height="238.8" fill="none" stroke="#231f20" stroke-width="1.4"/>
<line x1="751.2" y1="397" x2="754.3" y2="397" stroke="#231f20" stroke-width="1.3"/>
<text x="720.7" y="403.6" font-size="19" fill="#231f20">2.5</text>
<line x1="751.2" y1="431" x2="754.3" y2="431" stroke="#231f20" stroke-width="1.3"/>
<text x="720.7" y="437.6" font-size="19" fill="#231f20">2.0</text>
<line x1="751.2" y1="465" x2="754.3" y2="465" stroke="#231f20" stroke-width="1.3"/>
<text x="720.7" y="471.6" font-size="19" fill="#231f20">1.5</text>
<line x1="751.2" y1="499" x2="754.3" y2="499" stroke="#231f20" stroke-width="1.3"/>
<text x="720.7" y="505.6" font-size="19" fill="#231f20">1.0</text>
<line x1="751.2" y1="533" x2="754.3" y2="533" stroke="#231f20" stroke-width="1.3"/>
<text x="720.7" y="539.6" font-size="19" fill="#231f20">0.5</text>
<line x1="751.2" y1="567" x2="754.3" y2="567" stroke="#231f20" stroke-width="1.3"/>
<text x="720.7" y="573.6" font-size="19" fill="#231f20">0.0</text>
<line x1="751.2" y1="601" x2="754.3" y2="601" stroke="#231f20" stroke-width="1.3"/>
<text x="714.3" y="607.6" font-size="19" fill="#231f20">-0.5</text>
<line x1="751.2" y1="635" x2="754.3" y2="635" stroke="#231f20" stroke-width="1.3"/>
<text x="714.3" y="641.6" font-size="19" fill="#231f20">-1.0</text>
<line x1="752.3" y1="414" x2="754.3" y2="414" stroke="#231f20" stroke-width="1.2"/>
<line x1="752.3" y1="448" x2="754.3" y2="448" stroke="#231f20" stroke-width="1.2"/>
<line x1="752.3" y1="482" x2="754.3" y2="482" stroke="#231f20" stroke-width="1.2"/>
<line x1="752.3" y1="516" x2="754.3" y2="516" stroke="#231f20" stroke-width="1.2"/>
<line x1="752.3" y1="550" x2="754.3" y2="550" stroke="#231f20" stroke-width="1.2"/>
<line x1="752.3" y1="584" x2="754.3" y2="584" stroke="#231f20" stroke-width="1.2"/>
<line x1="752.3" y1="618" x2="754.3" y2="618" stroke="#231f20" stroke-width="1.2"/>
<text transform="translate(703.5,513.5) rotate(-90)" text-anchor="middle" font-size="19" fill="#231f20">Fe migration energy (eV)</text>
<text x="797.7" y="660.6" font-size="19" fill="#231f20">Reaction coordinate</text>
<line x1="766.3" y1="408.9" x2="819.4" y2="408.9" stroke="#e03a2e" stroke-width="1.6"/>
<line x1="766.3" y1="422.8" x2="819.4" y2="422.8" stroke="#3f87c1" stroke-width="1.6"/>
<text x="825" y="413.2" font-size="14.4" fill="#231f20">Bulk</text>
<text x="825.5" y="427.9" font-size="14.4" fill="#231f20">Surface</text>
<path d="M785.3,567.6 L787.3,567.6 L789.3,567.6 L791.3,567.6 L793.3,567.6 L795.3,567.6 L797.3,567.6 L799.3,567.6 L801.3,567.6 L803.3,567.6 L805.3,567.6 L807.3,567.6 L809.3,567.6 L811.3,567.6 L813.3,567.6 L815.3,567.6 L817.3,567.6 L819.3,567.6 L821.3,567.5 L823.3,567.5 L825.3,567.4 L827.3,567.3 L829.3,567.2 L831.3,567 L833.3,566.7 L835.3,566.3 L837.3,565.7 L839.3,565 L841.3,564.1 L843.3,562.8 L845.3,561.3 L847.3,559.3 L849.3,556.9 L851.3,554 L853.3,550.5 L855.3,546.5 L857.3,541.9 L859.3,536.8 L861.3,531.2 L863.3,525.2 L865.3,518.9 L867.3,512.5 L869.3,506.1 L871.3,500.1 L873.3,494.5 L875.3,489.6 L877.3,485.6 L879.3,482.7 L881.3,480.9 L883.3,480.4 L885.3,481.2 L887.3,483.2 L889.3,486.3 L891.3,490.5 L893.3,495.6 L895.3,501.3 L897.3,507.4 L899.3,513.7 L901.3,520.1 L903.3,526.4 L905.3,532.3 L907.3,537.9 L909.3,542.9 L911.3,547.4 L913.3,551.3 L915.3,554.6 L917.3,557.4 L919.3,559.7 L921.3,561.6 L923.3,563.1 L925.3,564.3 L927.3,565.2 L929.3,565.9 L931.3,566.4 L933.3,566.7 L935.3,567 L937.3,567.2 L939.3,567.3 L941.3,567.4 L943.3,567.5 L945.3,567.5 L947.3,567.6 L949.3,567.6 L951.3,567.6 L953.3,567.6 L955.3,567.6 L957.3,567.6 L959.3,567.6 L961.3,567.6 L963.3,567.6 L965.3,567.6 L967.3,567.6 L969.3,567.6 L971.3,567.6 L973.3,567.6 L975.3,567.6 L977.3,567.6 L979.3,567.6" fill="none" stroke="#e03a2e" stroke-width="1.3"/>
<path d="M785.3,567.6 L787.3,567.6 L789.3,567.6 L791.3,567.6 L793.3,567.6 L795.3,567.6 L797.3,567.6 L799.3,567.6 L801.3,567.6 L803.3,567.6 L805.3,567.6 L807.3,567.6 L809.3,567.6 L811.3,567.6 L813.3,567.6 L815.3,567.6 L817.3,567.6 L819.3,567.6 L821.3,567.6 L823.3,567.5 L825.3,567.5 L827.3,567.5 L829.3,567.4 L831.3,567.4 L833.3,567.3 L835.3,567.2 L837.3,567.1 L839.3,566.9 L841.3,566.8 L843.3,566.6 L845.3,566.3 L847.3,566 L849.3,565.7 L851.3,565.3 L853.3,564.9 L855.3,564.4 L857.3,563.9 L859.3,563.4 L861.3,562.8 L863.3,562.2 L865.3,561.6 L867.3,561 L869.3,560.5 L871.3,559.9 L873.3,559.5 L875.3,559.1 L877.3,558.7 L879.3,558.5 L881.3,558.3 L883.3,558.3 L885.3,558.4 L887.3,558.5 L889.3,558.8 L891.3,559.1 L893.3,559.5 L895.3,560 L897.3,560.6 L899.3,561.1 L901.3,561.7 L903.3,562.3 L905.3,562.9 L907.3,563.5 L909.3,564 L911.3,564.5 L913.3,565 L915.3,565.4 L917.3,565.8 L919.3,566.1 L921.3,566.4 L923.3,566.6 L925.3,566.8 L927.3,567 L929.3,567.1 L931.3,567.2 L933.3,567.3 L935.3,567.4 L937.3,567.4 L939.3,567.5 L941.3,567.5 L943.3,567.5 L945.3,567.6 L947.3,567.6 L949.3,567.6 L951.3,567.6 L953.3,567.6 L955.3,567.6 L957.3,567.6 L959.3,567.6 L961.3,567.6 L963.3,567.6 L965.3,567.6 L967.3,567.6 L969.3,567.6 L971.3,567.6 L973.3,567.6 L975.3,567.6 L977.3,567.6 L979.3,567.6" fill="none" stroke="#3f87c1" stroke-width="1.3"/>
<text x="863.6" y="525.5" font-size="18.3" fill="#e03a2e">1.42</text>
<text x="863.5" y="558.1" font-size="18.3" fill="#4a8fc4">0.15</text>
<text x="4.2" y="706.7" font-size="23" fill="#231f20" font-weight="bold">e</text>
<text x="156.4" y="761.4" font-size="18.5" fill="#231f20"><tspan>O</tspan><tspan dy="6.8" font-size="11.1">2</tspan></text>
<text x="243" y="769.7" font-size="18.5" fill="#231f20"><tspan>O</tspan><tspan dy="6.8" font-size="11.1">2</tspan><tspan dy="-6.8"> activation</tspan></text>
<text x="238.5" y="824.3" font-size="19" fill="#231f20">Fe re-oxidization</text>
<text x="664.5" y="703.4" font-size="18.5" fill="#231f20"><tspan>H</tspan><tspan dy="6.8" font-size="11.1">2</tspan></text>
<text x="734.8" y="752.2" font-size="18.5" fill="#231f20"><tspan>H</tspan><tspan dy="6.8" font-size="11.1">2</tspan><tspan dy="-6.8"> activation</tspan></text>
<text x="648.5" y="977.1" font-size="19" fill="#231f20">Fe reduction</text>
<text x="734.8" y="1034.4" font-size="18.5" fill="#231f20"><tspan>H</tspan><tspan dy="6.8" font-size="11.1">2</tspan><tspan dy="-6.8">O formation</tspan></text>
<text x="660.7" y="1090.6" font-size="18.5" fill="#231f20"><tspan>H</tspan><tspan dy="6.8" font-size="11.1">2</tspan><tspan dy="-6.8">O</tspan></text>
<text x="196.9" y="1037.8" font-size="19" fill="#231f20">Fe migration</text>
<defs>
<linearGradient id="gArrH" x1="143.5" y1="0" x2="263.5" y2="0" gradientUnits="userSpaceOnUse"><stop offset="0" stop-color="#f7e6ee"/><stop offset="0.25" stop-color="#e8bfd3"/><stop offset="0.7" stop-color="#b24a86"/><stop offset="1" stop-color="#9c1a68"/></linearGradient>
<linearGradient id="gArrV" x1="0" y1="847" x2="0" y2="880" gradientUnits="userSpaceOnUse"><stop offset="0" stop-color="#ffffff"/><stop offset="0.55" stop-color="#b04a86"/><stop offset="1" stop-color="#9c1a68"/></linearGradient>
<linearGradient id="gArrV2" x1="0" y1="800" x2="0" y2="835" gradientUnits="userSpaceOnUse"><stop offset="0" stop-color="#ffffff"/><stop offset="0.5" stop-color="#b04a86"/><stop offset="1" stop-color="#9c1a68"/></linearGradient>
<linearGradient id="gArrU" x1="572" y1="979" x2="594" y2="945" gradientUnits="userSpaceOnUse"><stop offset="0" stop-color="#ffffff"/><stop offset="0.5" stop-color="#c06a9c"/><stop offset="1" stop-color="#9c1a68"/></linearGradient>
</defs>
<clipPath id="c1"><rect x="380.1" y="30" width="110.9" height="84.8"/></clipPath>
<g clip-path="url(#c1)">
<polygon points="405,42 476,41 485,50 488,63 484,77 477,87 402,88 404,66" fill="#c47a68"/>
<polygon points="390,87 491,84 491,115 380.1,115 380.1,101 389,99" fill="#d48a78"/>
<circle cx="412" cy="45.5" r="8.6" fill="url(#gFe)"/>
<circle cx="431" cy="45.5" r="8.6" fill="url(#gFe)"/>
<circle cx="451" cy="45.5" r="8.6" fill="url(#gFe)"/>
<circle cx="469.5" cy="45.5" r="8.6" fill="url(#gFe)"/>
<circle cx="403.5" cy="47.9" r="9.3" fill="url(#gFe)"/>
<circle cx="421" cy="47.9" r="9.3" fill="url(#gFe)"/>
<circle cx="441" cy="47.9" r="9.3" fill="url(#gFe)"/>
<circle cx="461.4" cy="47.9" r="9.3" fill="url(#gFe)"/>
<circle cx="476.1" cy="47.9" r="9.3" fill="url(#gFe)"/>
<circle cx="481.2" cy="63.9" r="9.3" fill="url(#gFe)"/>
<circle cx="409.6" cy="63.9" r="9.3" fill="url(#gFe)"/>
<circle cx="429.4" cy="63.9" r="9.3" fill="url(#gFe)"/>
<circle cx="448.6" cy="63.9" r="9.3" fill="url(#gFe)"/>
<circle cx="469.7" cy="63.9" r="9.3" fill="url(#gFe)"/>
<circle cx="399.7" cy="79.2" r="9.3" fill="url(#gFe)"/>
<circle cx="418" cy="79.2" r="9.3" fill="url(#gFe)"/>
<circle cx="437.7" cy="79.2" r="9.3" fill="url(#gFe)"/>
<circle cx="457.6" cy="79.2" r="9.3" fill="url(#gFe)"/>
<circle cx="472.9" cy="79.2" r="9.3" fill="url(#gFe)"/>
<circle cx="393.1" cy="93" r="7" fill="url(#gFe)"/>
<circle cx="422" cy="98.9" r="8" fill="url(#gFe)"/>
<circle cx="453.9" cy="93" r="8" fill="url(#gFe)"/>
<circle cx="476.3" cy="94.2" r="7" fill="url(#gFe)"/>
<circle cx="485.7" cy="89.4" r="8" fill="url(#gFe)"/>
<circle cx="389.6" cy="96.5" r="5.2" fill="url(#gO)"/>
<circle cx="397.8" cy="95.3" r="5.2" fill="url(#gO)"/>
<circle cx="391.3" cy="106.5" r="5.2" fill="url(#gO)"/>
<circle cx="406.7" cy="90.6" r="5.2" fill="url(#gO)"/>
<circle cx="409" cy="98.9" r="5.2" fill="url(#gO)"/>
<circle cx="412.6" cy="103.6" r="5.2" fill="url(#gO)"/>
<circle cx="413.8" cy="108.9" r="5.2" fill="url(#gO)"/>
<circle cx="417.3" cy="95.3" r="5.2" fill="url(#gO)"/>
<circle cx="425.6" cy="89.4" r="5.2" fill="url(#gO)"/>
<circle cx="383.1" cy="107.1" r="9" fill="url(#gFe)"/>
<circle cx="398.4" cy="107.1" r="9" fill="url(#gFe)"/>
<circle cx="426.7" cy="108.3" r="10" fill="url(#gFe)"/>
<circle cx="444.4" cy="108.3" r="9" fill="url(#gFe)"/>
<circle cx="484.6" cy="109.5" r="8" fill="url(#gFe)"/>
<circle cx="430.3" cy="98.9" r="5.2" fill="url(#gO)"/>
<circle cx="438" cy="97.1" r="5.2" fill="url(#gO)"/>
<circle cx="437.4" cy="109.5" r="5.2" fill="url(#gO)"/>
<circle cx="445" cy="91.2" r="5.2" fill="url(#gO)"/>
<circle cx="452.7" cy="101.2" r="5.2" fill="url(#gO)"/>
<circle cx="458.6" cy="96.5" r="5.2" fill="url(#gO)"/>
<circle cx="478.7" cy="85.3" r="5.2" fill="url(#gO)"/>
<circle cx="484.6" cy="100.1" r="5.2" fill="url(#gO)"/>
<circle cx="476.3" cy="107.1" r="5.2" fill="url(#gO)"/>
<circle cx="466.9" cy="103.6" r="11" fill="url(#gFe)"/>
<circle cx="456.9" cy="57.1" r="3.6" fill="url(#gH)"/>
<circle cx="445.2" cy="74.1" r="3.6" fill="url(#gH)"/>
</g>
<clipPath id="c2"><rect x="638.6" y="30" width="110.9" height="84.8"/></clipPath>
<g clip-path="url(#c2)">
<polygon points="663.5,42 734.5,41 743.5,50 746.5,63 742.5,77 735.5,87 660.5,88 662.5,66" fill="#c47a68"/>
<polygon points="648.5,87 749.5,84 749.5,115 638.6,115 638.6,101 647.5,99" fill="#d48a78"/>
<circle cx="670.5" cy="45.5" r="8.6" fill="url(#gFe)"/>
<circle cx="689.5" cy="45.5" r="8.6" fill="url(#gFe)"/>
<circle cx="709.5" cy="45.5" r="8.6" fill="url(#gFe)"/>
<circle cx="728" cy="45.5" r="8.6" fill="url(#gFe)"/>
<circle cx="662" cy="47.9" r="9.3" fill="url(#gFe)"/>
<circle cx="679.5" cy="47.9" r="9.3" fill="url(#gFe)"/>
<circle cx="699.5" cy="47.9" r="9.3" fill="url(#gFe)"/>
<circle cx="719.9" cy="47.9" r="9.3" fill="url(#gFe)"/>
<circle cx="734.6" cy="47.9" r="9.3" fill="url(#gFe)"/>
<circle cx="739.7" cy="63.9" r="9.3" fill="url(#gFe)"/>
<circle cx="668.1" cy="63.9" r="9.3" fill="url(#gFe)"/>
<circle cx="687.9" cy="63.9" r="9.3" fill="url(#gFe)"/>
<circle cx="707.1" cy="63.9" r="9.3" fill="url(#gFe)"/>
<circle cx="728.2" cy="63.9" r="9.3" fill="url(#gFe)"/>
<circle cx="658.2" cy="79.2" r="9.3" fill="url(#gFe)"/>
<circle cx="676.5" cy="79.2" r="9.3" fill="url(#gFe)"/>
<circle cx="696.2" cy="79.2" r="9.3" fill="url(#gFe)"/>
<circle cx="716.1" cy="79.2" r="9.3" fill="url(#gFe)"/>
<circle cx="731.4" cy="79.2" r="9.3" fill="url(#gFe)"/>
<circle cx="651.6" cy="93" r="7" fill="url(#gFe)"/>
<circle cx="680.5" cy="98.9" r="8" fill="url(#gFe)"/>
<circle cx="712.4" cy="93" r="8" fill="url(#gFe)"/>
<circle cx="734.8" cy="94.2" r="7" fill="url(#gFe)"/>
<circle cx="744.2" cy="89.4" r="8" fill="url(#gFe)"/>
<circle cx="648.1" cy="96.5" r="5.2" fill="url(#gO)"/>
<circle cx="656.3" cy="95.3" r="5.2" fill="url(#gO)"/>
<circle cx="649.8" cy="106.5" r="5.2" fill="url(#gO)"/>
<circle cx="665.2" cy="90.6" r="5.2" fill="url(#gO)"/>
<circle cx="667.5" cy="98.9" r="5.2" fill="url(#gO)"/>
<circle cx="671.1" cy="103.6" r="5.2" fill="url(#gO)"/>
<circle cx="672.3" cy="108.9" r="5.2" fill="url(#gO)"/>
<circle cx="675.8" cy="95.3" r="5.2" fill="url(#gO)"/>
<circle cx="684.1" cy="89.4" r="5.2" fill="url(#gO)"/>
<circle cx="641.6" cy="107.1" r="9" fill="url(#gFe)"/>
<circle cx="656.9" cy="107.1" r="9" fill="url(#gFe)"/>
<circle cx="685.2" cy="108.3" r="10" fill="url(#gFe)"/>
<circle cx="702.9" cy="108.3" r="9" fill="url(#gFe)"/>
<circle cx="743.1" cy="109.5" r="8" fill="url(#gFe)"/>
<circle cx="688.8" cy="98.9" r="5.2" fill="url(#gO)"/>
<circle cx="696.5" cy="97.1" r="5.2" fill="url(#gO)"/>
<circle cx="695.9" cy="109.5" r="5.2" fill="url(#gO)"/>
<circle cx="703.5" cy="91.2" r="5.2" fill="url(#gO)"/>
<circle cx="711.2" cy="101.2" r="5.2" fill="url(#gO)"/>
<circle cx="717.1" cy="96.5" r="5.2" fill="url(#gO)"/>
<circle cx="737.2" cy="85.3" r="5.2" fill="url(#gO)"/>
<circle cx="743.1" cy="100.1" r="5.2" fill="url(#gO)"/>
<circle cx="734.8" cy="107.1" r="5.2" fill="url(#gO)"/>
<circle cx="725.4" cy="103.6" r="11" fill="url(#gFe)"/>
<circle cx="704.5" cy="93.5" r="4.8" fill="url(#gO)"/>
<circle cx="714.4" cy="58.4" r="3.6" fill="url(#gH)"/>
<circle cx="703.9" cy="88.5" r="3.6" fill="url(#gH)"/>
</g>
<clipPath id="c3"><rect x="380.1" y="257.3" width="110.9" height="84.8"/></clipPath>
<g clip-path="url(#c3)">
<polygon points="405,269.3 476,268.3 485,277.3 488,290.3 484,304.3 477,314.3 402,315.3 404,293.3" fill="#c47a68"/>
<polygon points="390,314.3 491,311.3 491,342.3 380.1,342.3 380.1,328.3 389,326.3" fill="#d48a78"/>
<circle cx="412" cy="272.8" r="8.6" fill="url(#gFe)"/>
<circle cx="431" cy="272.8" r="8.6" fill="url(#gNi)"/>
<circle cx="451" cy="272.8" r="8.6" fill="url(#gFe)"/>
<circle cx="469.5" cy="272.8" r="8.6" fill="url(#gFe)"/>
<circle cx="403.5" cy="275.2" r="9.8" fill="url(#gNi)"/>
<circle cx="421" cy="275.2" r="9.3" fill="url(#gFe)"/>
<circle cx="441" cy="275.2" r="9.8" fill="url(#gNi)"/>
<circle cx="461.4" cy="275.2" r="9.3" fill="url(#gFe)"/>
<circle cx="476.1" cy="275.2" r="9.8" fill="url(#gNi)"/>
<circle cx="481.2" cy="291.2" r="9.3" fill="url(#gFe)"/>
<circle cx="409.6" cy="291.2" r="9.3" fill="url(#gFe)"/>
<circle cx="429.4" cy="291.2" r="9.8" fill="url(#gNi)"/>
<circle cx="448.6" cy="291.2" r="9.3" fill="url(#gFe)"/>
<circle cx="469.7" cy="291.2" r="9.8" fill="url(#gNi)"/>
<circle cx="399.7" cy="306.5" r="9.3" fill="url(#gFe)"/>
<circle cx="418" cy="306.5" r="9.8" fill="url(#gNi)"/>
<circle cx="437.7" cy="306.5" r="9.3" fill="url(#gFe)"/>
<circle cx="457.6" cy="306.5" r="9.8" fill="url(#gNi)"/>
<circle cx="472.9" cy="306.5" r="9.3" fill="url(#gFe)"/>
<circle cx="393.1" cy="320.3" r="7" fill="url(#gFe)"/>
<circle cx="422" cy="326.2" r="8" fill="url(#gFe)"/>
<circle cx="453.9" cy="320.3" r="8" fill="url(#gFe)"/>
<circle cx="476.3" cy="321.5" r="7" fill="url(#gFe)"/>
<circle cx="485.7" cy="316.7" r="8" fill="url(#gFe)"/>
<circle cx="389.6" cy="323.8" r="5.2" fill="url(#gO)"/>
<circle cx="397.8" cy="322.6" r="5.2" fill="url(#gO)"/>
<circle cx="391.3" cy="333.8" r="5.2" fill="url(#gO)"/>
<circle cx="406.7" cy="317.9" r="5.2" fill="url(#gO)"/>
<circle cx="409" cy="326.2" r="5.2" fill="url(#gO)"/>
<circle cx="412.6" cy="330.9" r="5.2" fill="url(#gO)"/>
<circle cx="413.8" cy="336.2" r="5.2" fill="url(#gO)"/>
<circle cx="417.3" cy="322.6" r="5.2" fill="url(#gO)"/>
<circle cx="425.6" cy="316.7" r="5.2" fill="url(#gO)"/>
<circle cx="383.1" cy="334.4" r="9" fill="url(#gFe)"/>
<circle cx="398.4" cy="334.4" r="9" fill="url(#gFe)"/>
<circle cx="426.7" cy="335.6" r="10" fill="url(#gFe)"/>
<circle cx="444.4" cy="335.6" r="9" fill="url(#gFe)"/>
<circle cx="484.6" cy="336.8" r="8" fill="url(#gFe)"/>
<circle cx="430.3" cy="326.2" r="5.2" fill="url(#gO)"/>
<circle cx="438" cy="324.4" r="5.2" fill="url(#gO)"/>
<circle cx="437.4" cy="336.8" r="5.2" fill="url(#gO)"/>
<circle cx="445" cy="318.5" r="5.2" fill="url(#gO)"/>
<circle cx="452.7" cy="328.5" r="5.2" fill="url(#gO)"/>
<circle cx="458.6" cy="323.8" r="5.2" fill="url(#gO)"/>
<circle cx="478.7" cy="312.6" r="5.2" fill="url(#gO)"/>
<circle cx="484.6" cy="327.4" r="5.2" fill="url(#gO)"/>
<circle cx="476.3" cy="334.4" r="5.2" fill="url(#gO)"/>
<circle cx="466.9" cy="330.9" r="11" fill="url(#gFe)"/>
<circle cx="433.9" cy="295.9" r="4.8" fill="url(#gO)"/>
<circle cx="456.3" cy="280.6" r="3.6" fill="url(#gH)"/>
<circle cx="446.3" cy="302" r="3.6" fill="url(#gH)"/>
</g>
<clipPath id="c4"><rect x="638.6" y="257.3" width="110.9" height="84.8"/></clipPath>
<g clip-path="url(#c4)">
<polygon points="663.5,269.3 734.5,268.3 743.5,277.3 746.5,290.3 742.5,304.3 735.5,314.3 660.5,315.3 662.5,293.3" fill="#c47a68"/>
<polygon points="648.5,314.3 749.5,311.3 749.5,342.3 638.6,342.3 638.6,328.3 647.5,326.3" fill="#d48a78"/>
<circle cx="670.5" cy="272.8" r="8.6" fill="url(#gFe)"/>
<circle cx="689.5" cy="272.8" r="8.6" fill="url(#gNi)"/>
<circle cx="709.5" cy="272.8" r="8.6" fill="url(#gFe)"/>
<circle cx="728" cy="272.8" r="8.6" fill="url(#gFe)"/>
<circle cx="662" cy="275.2" r="9.8" fill="url(#gNi)"/>
<circle cx="679.5" cy="275.2" r="9.3" fill="url(#gFe)"/>
<circle cx="699.5" cy="275.2" r="9.8" fill="url(#gNi)"/>
<circle cx="719.9" cy="275.2" r="9.3" fill="url(#gFe)"/>
<circle cx="734.6" cy="275.2" r="9.8" fill="url(#gNi)"/>
<circle cx="739.7" cy="291.2" r="9.3" fill="url(#gFe)"/>
<circle cx="668.1" cy="291.2" r="9.3" fill="url(#gFe)"/>
<circle cx="687.9" cy="291.2" r="9.8" fill="url(#gNi)"/>
<circle cx="707.1" cy="291.2" r="9.3" fill="url(#gFe)"/>
<circle cx="728.2" cy="291.2" r="9.8" fill="url(#gNi)"/>
<circle cx="658.2" cy="306.5" r="9.3" fill="url(#gFe)"/>
<circle cx="676.5" cy="306.5" r="9.8" fill="url(#gNi)"/>
<circle cx="696.2" cy="306.5" r="9.3" fill="url(#gFe)"/>
<circle cx="716.1" cy="306.5" r="9.8" fill="url(#gNi)"/>
<circle cx="731.4" cy="306.5" r="9.3" fill="url(#gFe)"/>
<circle cx="651.6" cy="320.3" r="7" fill="url(#gFe)"/>
<circle cx="680.5" cy="326.2" r="8" fill="url(#gFe)"/>
<circle cx="712.4" cy="320.3" r="8" fill="url(#gFe)"/>
<circle cx="734.8" cy="321.5" r="7" fill="url(#gFe)"/>
<circle cx="744.2" cy="316.7" r="8" fill="url(#gFe)"/>
<circle cx="648.1" cy="323.8" r="5.2" fill="url(#gO)"/>
<circle cx="656.3" cy="322.6" r="5.2" fill="url(#gO)"/>
<circle cx="649.8" cy="333.8" r="5.2" fill="url(#gO)"/>
<circle cx="665.2" cy="317.9" r="5.2" fill="url(#gO)"/>
<circle cx="667.5" cy="326.2" r="5.2" fill="url(#gO)"/>
<circle cx="671.1" cy="330.9" r="5.2" fill="url(#gO)"/>
<circle cx="672.3" cy="336.2" r="5.2" fill="url(#gO)"/>
<circle cx="675.8" cy="322.6" r="5.2" fill="url(#gO)"/>
<circle cx="684.1" cy="316.7" r="5.2" fill="url(#gO)"/>
<circle cx="641.6" cy="334.4" r="9" fill="url(#gFe)"/>
<circle cx="656.9" cy="334.4" r="9" fill="url(#gFe)"/>
<circle cx="685.2" cy="335.6" r="10" fill="url(#gFe)"/>
<circle cx="702.9" cy="335.6" r="9" fill="url(#gFe)"/>
<circle cx="743.1" cy="336.8" r="8" fill="url(#gFe)"/>
<circle cx="688.8" cy="326.2" r="5.2" fill="url(#gO)"/>
<circle cx="696.5" cy="324.4" r="5.2" fill="url(#gO)"/>
<circle cx="695.9" cy="336.8" r="5.2" fill="url(#gO)"/>
<circle cx="703.5" cy="318.5" r="5.2" fill="url(#gO)"/>
<circle cx="711.2" cy="328.5" r="5.2" fill="url(#gO)"/>
<circle cx="717.1" cy="323.8" r="5.2" fill="url(#gO)"/>
<circle cx="737.2" cy="312.6" r="5.2" fill="url(#gO)"/>
<circle cx="743.1" cy="327.4" r="5.2" fill="url(#gO)"/>
<circle cx="734.8" cy="334.4" r="5.2" fill="url(#gO)"/>
<circle cx="725.4" cy="330.9" r="11" fill="url(#gFe)"/>
<circle cx="694" cy="297.5" r="4.8" fill="url(#gO)"/>
<circle cx="715.9" cy="280.6" r="3.6" fill="url(#gH)"/>
<circle cx="693.5" cy="292.7" r="3.6" fill="url(#gH)"/>
</g>
<path d="M184.7,769.2 C186.7,771.6 191.7,778.8 196.6,783.3 C201.5,787.8 208.5,793.2 213.9,796.2 C219.3,799.2 223.7,800.6 229.1,801.6 C234.5,802.6 239.2,803.3 246.4,802.4 C253.6,801.5 268,797.2 272.3,796.2" fill="none" stroke="#1a1a1a" stroke-width="2.5"/>
<path d="M185.8,831.9 C189.4,829.9 200.2,824 207.4,820 C214.6,816 222.6,811.2 229.1,808.1 C235.6,805 239.2,803.6 246.4,801.6 C253.6,799.6 262.6,797.8 272.3,796.2 C282,794.6 294,792.8 304.8,791.9 C315.6,791 327.5,790.9 337.2,790.8 C346.9,790.7 358.7,791.2 363,791.3" fill="none" stroke="#1a1a1a" stroke-width="2.5"/>
<polygon points="377.5,791.3 358.9,785.2 363.5,791.3 358.9,797.4" fill="#1a1a1a"/>
<path d="M628.7,774.5 C634.5,774.3 652.1,773.4 663.3,773.4 C674.5,773.4 684.9,773.7 695.7,774.5 C706.5,775.3 717.4,776.3 728.2,778.4 C739,780.5 750.5,783.7 760.6,787.1 C770.7,790.5 780.8,795.4 788.7,799 C796.6,802.6 804.8,807.3 808,809" fill="none" stroke="#1a1a1a" stroke-width="2.5"/>
<path d="M673.6,712.4 C674.4,716 675.8,727.2 678.4,734.1 C681,741 684.5,747.7 689.2,753.5 C693.9,759.3 700,764.6 706.5,768.7 C713,772.9 721.8,776.1 728.2,778.4 C734.6,780.7 742.2,781.8 745,782.5" fill="none" stroke="#1a1a1a" stroke-width="2.5"/>
<polygon points="821.5,814.5 808.8,800.5 810,808.6 802.3,811.3" fill="#1a1a1a"/>
<path d="M822.2,973.4 C817.3,975.9 803.3,983.3 793,988.1 C782.7,992.9 771.4,998.6 760.6,1002.2 C749.8,1005.8 739,1008 728.2,1009.8 C717.4,1011.6 706.5,1012.3 695.7,1013 C684.9,1013.7 671.8,1013.9 663.3,1014.1 C654.8,1014.3 648,1014.1 645,1014.1" fill="none" stroke="#1a1a1a" stroke-width="2.5"/>
<polygon points="630.5,1013.8 649.4,1008.3 645,1013.9 649.4,1019.8" fill="#1a1a1a"/>
<path d="M735,1008.5 C732.8,1009 726.5,1009.9 721.7,1011.5 C717,1013.1 711.2,1015.1 706.5,1018.4 C701.8,1021.7 696.7,1027.1 693.5,1031.4 C690.3,1035.7 688.8,1040.3 687.1,1044.4 C685.4,1048.5 684.1,1054.1 683.5,1056" fill="none" stroke="#1a1a1a" stroke-width="2.5"/>
<polygon points="679.3,1069.8 675.3,1050.8 682.8,1055.8 692.3,1053.5" fill="#1a1a1a"/>
<path d="M377.4,1009.3 C373.5,1009.4 363.2,1010 354,1010 C344.8,1010 331.5,1009.8 322.1,1009.3 C312.7,1008.8 305.7,1008 297.5,1006.9 C289.3,1005.8 281.1,1004.4 272.9,1002.7 C264.7,1001.1 256.5,999 248.3,997 C240.1,995 230.7,992.9 223.7,990.4 C216.7,987.9 210.4,983.9 206.5,981.8 C202.6,979.6 201.1,978.2 200,977.5" fill="none" stroke="#1a1a1a" stroke-width="2.4" stroke-dasharray="10 7"/>
<polygon points="185.4,968.8 205.6,972.2 200.6,977 197.7,984.2" fill="#1a1a1a"/>
<polygon points="420.7,749 597.7,748.5 609,798.7 408.3,798.7" fill="#c8735c"/>
<polygon points="408.3,798.7 609,798.7 609,820.7 408.3,820.7" fill="#e8ab96"/>
<circle cx="564.2" cy="747.1" r="5.4" fill="url(#gP)"/>
<circle cx="527.7" cy="747.2" r="5.4" fill="url(#gP)"/>
<circle cx="491" cy="747.3" r="5.4" fill="url(#gP)"/>
<circle cx="454.6" cy="747.4" r="5.4" fill="url(#gP)"/>
<circle cx="593.4" cy="748.5" r="3.6" fill="url(#gOe)"/>
<circle cx="599.7" cy="748.5" r="5.7" fill="url(#gP)"/>
<circle cx="587" cy="748.5" r="5.7" fill="url(#gP)"/>
<circle cx="549.4" cy="748.6" r="5.7" fill="url(#gP)"/>
<circle cx="513.4" cy="748.7" r="5.7" fill="url(#gP)"/>
<circle cx="475.9" cy="748.8" r="5.7" fill="url(#gP)"/>
<circle cx="440.1" cy="748.9" r="5.7" fill="url(#gP)"/>
<circle cx="418.7" cy="749" r="5.7" fill="url(#gP)"/>
<circle cx="557.4" cy="749.6" r="3.6" fill="url(#gOe)"/>
<circle cx="520.9" cy="749.7" r="3.6" fill="url(#gOe)"/>
<circle cx="483.7" cy="749.8" r="3.6" fill="url(#gOe)"/>
<circle cx="447.4" cy="749.9" r="3.6" fill="url(#gOe)"/>
<circle cx="433.9" cy="751.9" r="3.6" fill="url(#gOe)"/>
<circle cx="573.5" cy="752.1" r="5.4" fill="url(#gP)"/>
<circle cx="536.1" cy="752.2" r="5.4" fill="url(#gP)"/>
<circle cx="499.2" cy="752.3" r="5.4" fill="url(#gP)"/>
<circle cx="462" cy="752.4" r="5.4" fill="url(#gP)"/>
<circle cx="594.4" cy="753.5" r="3.6" fill="url(#gOe)"/>
<circle cx="580.8" cy="754.1" r="3.6" fill="url(#gOe)"/>
<circle cx="588" cy="753.6" r="5.8" fill="url(#gP)"/>
<circle cx="543" cy="754.2" r="3.6" fill="url(#gOe)"/>
<circle cx="549.9" cy="753.6" r="5.8" fill="url(#gP)"/>
<circle cx="506.1" cy="754.3" r="3.6" fill="url(#gOe)"/>
<circle cx="513.4" cy="753.7" r="5.8" fill="url(#gP)"/>
<circle cx="468.4" cy="754.3" r="3.6" fill="url(#gOe)"/>
<circle cx="426.5" cy="753.9" r="5.4" fill="url(#gP)"/>
<circle cx="475.4" cy="753.8" r="5.8" fill="url(#gP)"/>
<circle cx="439.1" cy="753.9" r="5.8" fill="url(#gP)"/>
<circle cx="569.2" cy="755.6" r="3.5" fill="url(#gOe)"/>
<circle cx="531.7" cy="755.7" r="3.5" fill="url(#gOe)"/>
<circle cx="494.3" cy="755.8" r="3.5" fill="url(#gOe)"/>
<circle cx="457" cy="755.9" r="3.5" fill="url(#gOe)"/>
<circle cx="565.5" cy="756.6" r="5.5" fill="url(#gP)"/>
<circle cx="528.1" cy="756.7" r="5.5" fill="url(#gP)"/>
<circle cx="490.4" cy="756.8" r="5.5" fill="url(#gP)"/>
<circle cx="453.2" cy="756.9" r="5.5" fill="url(#gP)"/>
<circle cx="432.1" cy="756.4" r="3.6" fill="url(#gOe)"/>
<circle cx="595.5" cy="758.6" r="3.7" fill="url(#gOe)"/>
<circle cx="558.5" cy="759.1" r="3.7" fill="url(#gOe)"/>
<circle cx="602" cy="758.5" r="5.8" fill="url(#gP)"/>
<circle cx="589" cy="758.6" r="5.8" fill="url(#gP)"/>
<circle cx="521.1" cy="759.2" r="3.7" fill="url(#gOe)"/>
<circle cx="550.3" cy="758.7" r="5.8" fill="url(#gP)"/>
<circle cx="482.9" cy="759.3" r="3.7" fill="url(#gOe)"/>
<circle cx="513.4" cy="758.7" r="5.8" fill="url(#gP)"/>
<circle cx="445.8" cy="759.4" r="3.7" fill="url(#gOe)"/>
<circle cx="474.9" cy="758.8" r="5.8" fill="url(#gP)"/>
<circle cx="438.1" cy="758.9" r="5.8" fill="url(#gP)"/>
<circle cx="416.2" cy="758.9" r="5.8" fill="url(#gP)"/>
<circle cx="431.8" cy="761.9" r="3.7" fill="url(#gOe)"/>
<circle cx="575" cy="762.1" r="5.5" fill="url(#gP)"/>
<circle cx="536.7" cy="762.2" r="5.5" fill="url(#gP)"/>
<circle cx="498.8" cy="762.3" r="5.5" fill="url(#gP)"/>
<circle cx="460.7" cy="762.3" r="5.5" fill="url(#gP)"/>
<circle cx="596.5" cy="763.6" r="3.7" fill="url(#gOe)"/>
<circle cx="582.6" cy="764.1" r="3.7" fill="url(#gOe)"/>
<circle cx="543.7" cy="764.2" r="3.7" fill="url(#gOe)"/>
<circle cx="589.9" cy="763.6" r="5.9" fill="url(#gP)"/>
<circle cx="506" cy="764.2" r="3.7" fill="url(#gOe)"/>
<circle cx="550.8" cy="763.7" r="5.9" fill="url(#gP)"/>
<circle cx="424.3" cy="763.9" r="5.5" fill="url(#gP)"/>
<circle cx="467.3" cy="764.3" r="3.7" fill="url(#gOe)"/>
<circle cx="513.4" cy="763.7" r="5.9" fill="url(#gP)"/>
<circle cx="474.4" cy="763.8" r="5.9" fill="url(#gP)"/>
<circle cx="437.2" cy="763.9" r="5.9" fill="url(#gP)"/>
<circle cx="570.6" cy="765.6" r="3.5" fill="url(#gOe)"/>
<circle cx="532.2" cy="765.7" r="3.5" fill="url(#gOe)"/>
<circle cx="493.8" cy="765.8" r="3.5" fill="url(#gOe)"/>
<circle cx="455.5" cy="765.8" r="3.5" fill="url(#gOe)"/>
<circle cx="566.8" cy="766.6" r="5.6" fill="url(#gP)"/>
<circle cx="528.4" cy="766.7" r="5.6" fill="url(#gP)"/>
<circle cx="489.8" cy="766.8" r="5.6" fill="url(#gP)"/>
<circle cx="451.6" cy="766.8" r="5.6" fill="url(#gP)"/>
<circle cx="430" cy="766.4" r="3.7" fill="url(#gOe)"/>
<circle cx="597.6" cy="768.6" r="3.7" fill="url(#gOe)"/>
<circle cx="559.6" cy="769.2" r="3.7" fill="url(#gOe)"/>
<circle cx="604.2" cy="768.6" r="5.9" fill="url(#gP)"/>
<circle cx="590.9" cy="768.6" r="5.9" fill="url(#gP)"/>
<circle cx="521.3" cy="769.2" r="3.7" fill="url(#gOe)"/>
<circle cx="551.3" cy="768.7" r="5.9" fill="url(#gP)"/>
<circle cx="482.2" cy="769.3" r="3.7" fill="url(#gOe)"/>
<circle cx="513.4" cy="768.7" r="5.9" fill="url(#gP)"/>
<circle cx="444.1" cy="769.3" r="3.7" fill="url(#gOe)"/>
<circle cx="473.9" cy="768.8" r="5.9" fill="url(#gP)"/>
<circle cx="436.2" cy="768.8" r="5.9" fill="url(#gP)"/>
<circle cx="413.7" cy="768.9" r="5.9" fill="url(#gP)"/>
<circle cx="429.8" cy="771.8" r="3.7" fill="url(#gOe)"/>
<circle cx="576.6" cy="772.1" r="5.6" fill="url(#gP)"/>
<circle cx="537.3" cy="772.2" r="5.6" fill="url(#gP)"/>
<circle cx="498.4" cy="772.2" r="5.6" fill="url(#gP)"/>
<circle cx="459.3" cy="772.3" r="5.6" fill="url(#gP)"/>
<circle cx="598.6" cy="773.6" r="3.7" fill="url(#gOe)"/>
<circle cx="584.3" cy="774.1" r="3.7" fill="url(#gOe)"/>
<circle cx="544.5" cy="774.2" r="3.7" fill="url(#gOe)"/>
<circle cx="591.9" cy="773.6" r="6" fill="url(#gP)"/>
<circle cx="505.8" cy="774.2" r="3.7" fill="url(#gOe)"/>
<circle cx="422.1" cy="773.8" r="5.6" fill="url(#gP)"/>
<circle cx="551.7" cy="773.7" r="6" fill="url(#gP)"/>
<circle cx="466.1" cy="774.3" r="3.7" fill="url(#gOe)"/>
<circle cx="513.4" cy="773.7" r="6" fill="url(#gP)"/>
<circle cx="473.4" cy="773.8" r="6" fill="url(#gP)"/>
<circle cx="435.3" cy="773.8" r="6" fill="url(#gP)"/>
<circle cx="572.1" cy="775.6" r="3.6" fill="url(#gOe)"/>
<circle cx="532.6" cy="775.7" r="3.6" fill="url(#gOe)"/>
<circle cx="493.3" cy="775.7" r="3.6" fill="url(#gOe)"/>
<circle cx="454.1" cy="775.8" r="3.6" fill="url(#gOe)"/>
<circle cx="568.2" cy="776.7" r="5.6" fill="url(#gP)"/>
<circle cx="528.8" cy="776.7" r="5.6" fill="url(#gP)"/>
<circle cx="489.2" cy="776.7" r="5.6" fill="url(#gP)"/>
<circle cx="450.1" cy="776.8" r="5.6" fill="url(#gP)"/>
<circle cx="427.9" cy="776.3" r="3.8" fill="url(#gOe)"/>
<circle cx="599.6" cy="778.6" r="3.8" fill="url(#gOe)"/>
<circle cx="560.8" cy="779.2" r="3.8" fill="url(#gOe)"/>
<circle cx="521.5" cy="779.2" r="3.8" fill="url(#gOe)"/>
<circle cx="606.5" cy="778.6" r="6" fill="url(#gP)"/>
<circle cx="592.8" cy="778.6" r="6" fill="url(#gP)"/>
<circle cx="481.4" cy="779.2" r="3.8" fill="url(#gOe)"/>
<circle cx="552.2" cy="778.7" r="6" fill="url(#gP)"/>
<circle cx="442.3" cy="779.3" r="3.8" fill="url(#gOe)"/>
<circle cx="513.4" cy="778.7" r="6" fill="url(#gP)"/>
<circle cx="472.9" cy="778.8" r="6" fill="url(#gP)"/>
<circle cx="434.3" cy="778.8" r="6" fill="url(#gP)"/>
<circle cx="411.3" cy="778.8" r="6" fill="url(#gP)"/>
<circle cx="513.8" cy="733.1" r="6.9" fill="url(#gNe)"/>
<circle cx="503.6" cy="738.4" r="6.9" fill="url(#gP)"/>
<circle cx="524" cy="738.4" r="6.9" fill="url(#gNe)"/>
<circle cx="513.8" cy="741.5" r="6.9" fill="url(#gP)"/>
<circle cx="493.9" cy="747.3" r="6.9" fill="url(#gNe)"/>
<circle cx="533.7" cy="747.3" r="6.9" fill="url(#gNe)"/>
<circle cx="503.6" cy="750.8" r="6.9" fill="url(#gP)"/>
<circle cx="524" cy="750.8" r="6.9" fill="url(#gP)"/>
<circle cx="513.8" cy="754.8" r="6.9" fill="url(#gNe)"/>
<circle cx="543.5" cy="757" r="6.9" fill="url(#gP)"/>
<circle cx="484.2" cy="756.6" r="6.9" fill="url(#gNe)"/>
<circle cx="493.9" cy="759.7" r="6.9" fill="url(#gP)"/>
<circle cx="533.7" cy="759.7" r="6.9" fill="url(#gNe)"/>
<circle cx="504.1" cy="763.2" r="6.9" fill="url(#gP)"/>
<circle cx="523.5" cy="763.2" r="6.9" fill="url(#gNe)"/>
<circle cx="484.2" cy="768.5" r="6.9" fill="url(#gP)"/>
<circle cx="543.5" cy="768.5" r="6.9" fill="url(#gNe)"/>
<circle cx="493.9" cy="772.1" r="6.9" fill="url(#gNe)"/>
<circle cx="513.8" cy="772.1" r="6.9" fill="url(#gP)"/>
<circle cx="427.7" cy="781.8" r="3.8" fill="url(#gOe)"/>
<circle cx="533.7" cy="772.1" r="6.9" fill="url(#gP)"/>
<circle cx="504.1" cy="775.6" r="6.9" fill="url(#gP)"/>
<circle cx="523.5" cy="775.6" r="6.9" fill="url(#gP)"/>
<circle cx="578.1" cy="782.2" r="5.7" fill="url(#gP)"/>
<circle cx="537.8" cy="782.2" r="5.7" fill="url(#gP)"/>
<circle cx="498.1" cy="782.2" r="5.7" fill="url(#gP)"/>
<circle cx="458" cy="782.3" r="5.7" fill="url(#gP)"/>
<circle cx="600.7" cy="783.6" r="3.8" fill="url(#gOe)"/>
<circle cx="586.1" cy="784.2" r="3.8" fill="url(#gOe)"/>
<circle cx="419.8" cy="783.8" r="5.7" fill="url(#gP)"/>
<circle cx="545.2" cy="784.2" r="3.8" fill="url(#gOe)"/>
<circle cx="505.6" cy="784.2" r="3.8" fill="url(#gOe)"/>
<circle cx="465" cy="784.2" r="3.8" fill="url(#gOe)"/>
<circle cx="593.8" cy="783.7" r="6" fill="url(#gP)"/>
<circle cx="552.7" cy="783.7" r="6" fill="url(#gP)"/>
<circle cx="513.4" cy="783.7" r="6" fill="url(#gP)"/>
<circle cx="472.5" cy="783.7" r="6" fill="url(#gP)"/>
<circle cx="433.3" cy="783.8" r="6" fill="url(#gP)"/>
<circle cx="573.5" cy="785.7" r="3.6" fill="url(#gOe)"/>
<circle cx="533.1" cy="785.7" r="3.6" fill="url(#gOe)"/>
<circle cx="492.8" cy="785.7" r="3.6" fill="url(#gOe)"/>
<circle cx="452.6" cy="785.7" r="3.6" fill="url(#gOe)"/>
<circle cx="569.5" cy="786.7" r="5.7" fill="url(#gP)"/>
<circle cx="529.2" cy="786.7" r="5.7" fill="url(#gP)"/>
<circle cx="488.6" cy="786.7" r="5.7" fill="url(#gP)"/>
<circle cx="448.5" cy="786.7" r="5.7" fill="url(#gP)"/>
<circle cx="425.8" cy="786.3" r="3.8" fill="url(#gOe)"/>
<circle cx="601.7" cy="788.7" r="3.8" fill="url(#gOe)"/>
<circle cx="561.9" cy="789.2" r="3.8" fill="url(#gOe)"/>
<circle cx="521.7" cy="789.2" r="3.8" fill="url(#gOe)"/>
<circle cx="480.6" cy="789.2" r="3.8" fill="url(#gOe)"/>
<circle cx="440.6" cy="789.2" r="3.8" fill="url(#gOe)"/>
<circle cx="608.7" cy="788.7" r="6.1" fill="url(#gP)"/>
<circle cx="594.7" cy="788.7" r="6.1" fill="url(#gP)"/>
<circle cx="553.2" cy="788.7" r="6.1" fill="url(#gP)"/>
<circle cx="513.4" cy="788.7" r="6.1" fill="url(#gP)"/>
<circle cx="472" cy="788.7" r="6.1" fill="url(#gP)"/>
<circle cx="432.4" cy="788.7" r="6.1" fill="url(#gP)"/>
<circle cx="408.8" cy="788.8" r="6.1" fill="url(#gP)"/>
<circle cx="425.6" cy="791.7" r="3.8" fill="url(#gOe)"/>
<circle cx="579.7" cy="792.2" r="5.8" fill="url(#gP)"/>
<circle cx="538.4" cy="792.2" r="5.8" fill="url(#gP)"/>
<circle cx="497.7" cy="792.2" r="5.8" fill="url(#gP)"/>
<circle cx="456.7" cy="792.2" r="5.8" fill="url(#gP)"/>
<circle cx="602.8" cy="793.7" r="3.9" fill="url(#gOe)"/>
<circle cx="417.6" cy="793.7" r="5.8" fill="url(#gP)"/>
<circle cx="587.8" cy="794.2" r="3.9" fill="url(#gOe)"/>
<circle cx="546" cy="794.2" r="3.9" fill="url(#gOe)"/>
<circle cx="505.4" cy="794.2" r="3.9" fill="url(#gOe)"/>
<circle cx="463.8" cy="794.2" r="3.9" fill="url(#gOe)"/>
<circle cx="595.7" cy="793.7" r="6.1" fill="url(#gP)"/>
<circle cx="553.6" cy="793.7" r="6.1" fill="url(#gP)"/>
<circle cx="513.4" cy="793.7" r="6.1" fill="url(#gP)"/>
<circle cx="471.5" cy="793.7" r="6.1" fill="url(#gP)"/>
<circle cx="431.4" cy="793.7" r="6.1" fill="url(#gP)"/>
<circle cx="575" cy="795.7" r="3.7" fill="url(#gOe)"/>
<circle cx="533.6" cy="795.7" r="3.7" fill="url(#gOe)"/>
<circle cx="492.3" cy="795.7" r="3.7" fill="url(#gOe)"/>
<circle cx="451.2" cy="795.7" r="3.7" fill="url(#gOe)"/>
<circle cx="570.9" cy="796.7" r="5.8" fill="url(#gP)"/>
<circle cx="529.6" cy="796.7" r="5.8" fill="url(#gP)"/>
<circle cx="488.1" cy="796.7" r="5.8" fill="url(#gP)"/>
<circle cx="447" cy="796.7" r="5.8" fill="url(#gP)"/>
<circle cx="423.7" cy="796.2" r="3.9" fill="url(#gOe)"/>
<circle cx="603.8" cy="798.7" r="3.9" fill="url(#gOe)"/>
<circle cx="438.9" cy="799.2" r="3.9" fill="url(#gOe)"/>
<circle cx="479.8" cy="799.2" r="3.9" fill="url(#gOe)"/>
<circle cx="521.9" cy="799.2" r="3.9" fill="url(#gOe)"/>
<circle cx="563.1" cy="799.2" r="3.9" fill="url(#gOe)"/>
<circle cx="406.3" cy="798.7" r="6.2" fill="url(#gP)"/>
<circle cx="430.5" cy="798.7" r="6.2" fill="url(#gP)"/>
<circle cx="471" cy="798.7" r="6.2" fill="url(#gP)"/>
<circle cx="513.4" cy="798.7" r="6.2" fill="url(#gP)"/>
<circle cx="554.1" cy="798.7" r="6.2" fill="url(#gP)"/>
<circle cx="596.7" cy="798.7" r="6.2" fill="url(#gP)"/>
<circle cx="611" cy="798.7" r="6.2" fill="url(#gP)"/>
<circle cx="415.3" cy="805.5" r="5.8" fill="url(#gP)"/>
<circle cx="438.5" cy="805.5" r="5.8" fill="url(#gP)"/>
<circle cx="461.7" cy="805.5" r="5.8" fill="url(#gP)"/>
<circle cx="484.9" cy="805.5" r="5.8" fill="url(#gP)"/>
<circle cx="508.1" cy="805.5" r="5.8" fill="url(#gP)"/>
<circle cx="531.3" cy="805.5" r="5.8" fill="url(#gP)"/>
<circle cx="554.5" cy="805.5" r="5.8" fill="url(#gP)"/>
<circle cx="577.7" cy="805.5" r="5.8" fill="url(#gP)"/>
<circle cx="600.9" cy="805.5" r="5.8" fill="url(#gP)"/>
<circle cx="426.3" cy="807.2" r="3.8" fill="url(#gOe)"/>
<circle cx="449.5" cy="807.2" r="3.8" fill="url(#gOe)"/>
<circle cx="472.7" cy="807.2" r="3.8" fill="url(#gOe)"/>
<circle cx="495.9" cy="807.2" r="3.8" fill="url(#gOe)"/>
<circle cx="519.1" cy="807.2" r="3.8" fill="url(#gOe)"/>
<circle cx="542.3" cy="807.2" r="3.8" fill="url(#gOe)"/>
<circle cx="565.5" cy="807.2" r="3.8" fill="url(#gOe)"/>
<circle cx="588.7" cy="807.2" r="3.8" fill="url(#gOe)"/>
<circle cx="611.9" cy="807.2" r="3.8" fill="url(#gOe)"/>
<circle cx="426.8" cy="815.9" r="5.8" fill="url(#gP)"/>
<circle cx="450" cy="815.9" r="5.8" fill="url(#gP)"/>
<circle cx="473.2" cy="815.9" r="5.8" fill="url(#gP)"/>
<circle cx="496.4" cy="815.9" r="5.8" fill="url(#gP)"/>
<circle cx="519.6" cy="815.9" r="5.8" fill="url(#gP)"/>
<circle cx="542.8" cy="815.9" r="5.8" fill="url(#gP)"/>
<circle cx="566" cy="815.9" r="5.8" fill="url(#gP)"/>
<circle cx="589.2" cy="815.9" r="5.8" fill="url(#gP)"/>
<circle cx="612.4" cy="815.9" r="5.8" fill="url(#gP)"/>
<circle cx="415.8" cy="817.2" r="3.8" fill="url(#gOe)"/>
<circle cx="439" cy="817.2" r="3.8" fill="url(#gOe)"/>
<circle cx="462.2" cy="817.2" r="3.8" fill="url(#gOe)"/>
<circle cx="485.4" cy="817.2" r="3.8" fill="url(#gOe)"/>
<circle cx="508.6" cy="817.2" r="3.8" fill="url(#gOe)"/>
<circle cx="531.8" cy="817.2" r="3.8" fill="url(#gOe)"/>
<circle cx="555" cy="817.2" r="3.8" fill="url(#gOe)"/>
<circle cx="578.2" cy="817.2" r="3.8" fill="url(#gOe)"/>
<circle cx="601.4" cy="817.2" r="3.8" fill="url(#gOe)"/>
<circle cx="410.8" cy="825.2" r="5.8" fill="url(#gP)"/>
<circle cx="434" cy="825.2" r="5.8" fill="url(#gP)"/>
<circle cx="457.2" cy="825.2" r="5.8" fill="url(#gP)"/>
<circle cx="480.4" cy="825.2" r="5.8" fill="url(#gP)"/>
<circle cx="503.6" cy="825.2" r="5.8" fill="url(#gP)"/>
<circle cx="526.8" cy="825.2" r="5.8" fill="url(#gP)"/>
<circle cx="550" cy="825.2" r="5.8" fill="url(#gP)"/>
<circle cx="573.2" cy="825.2" r="5.8" fill="url(#gP)"/>
<circle cx="596.4" cy="825.2" r="5.8" fill="url(#gP)"/>
<circle cx="422.3" cy="826.7" r="3.6" fill="url(#gOe)"/>
<circle cx="445.5" cy="826.7" r="3.6" fill="url(#gOe)"/>
<circle cx="468.7" cy="826.7" r="3.6" fill="url(#gOe)"/>
<circle cx="491.9" cy="826.7" r="3.6" fill="url(#gOe)"/>
<circle cx="515.1" cy="826.7" r="3.6" fill="url(#gOe)"/>
<circle cx="538.3" cy="826.7" r="3.6" fill="url(#gOe)"/>
<circle cx="561.5" cy="826.7" r="3.6" fill="url(#gOe)"/>
<circle cx="584.7" cy="826.7" r="3.6" fill="url(#gOe)"/>
<circle cx="607.9" cy="826.7" r="3.6" fill="url(#gOe)"/>
<polygon points="748.5,863.9 925.5,863.4 936.8,913.6 736.1,913.6" fill="#c8735c"/>
<polygon points="736.1,913.6 936.8,913.6 936.8,935.6 736.1,935.6" fill="#e8ab96"/>
<circle cx="892" cy="862" r="5.4" fill="url(#gP)"/>
<circle cx="855.5" cy="862.1" r="5.4" fill="url(#gP)"/>
<circle cx="818.8" cy="862.2" r="5.4" fill="url(#gP)"/>
<circle cx="782.4" cy="862.3" r="5.4" fill="url(#gP)"/>
<circle cx="921.2" cy="863.4" r="3.6" fill="url(#gOe)"/>
<circle cx="927.5" cy="863.4" r="5.7" fill="url(#gP)"/>
<circle cx="914.8" cy="863.4" r="5.7" fill="url(#gP)"/>
<circle cx="877.2" cy="863.5" r="5.7" fill="url(#gP)"/>
<circle cx="841.2" cy="863.6" r="5.7" fill="url(#gP)"/>
<circle cx="803.7" cy="863.7" r="5.7" fill="url(#gP)"/>
<circle cx="767.9" cy="863.8" r="5.7" fill="url(#gP)"/>
<circle cx="746.5" cy="863.9" r="5.7" fill="url(#gP)"/>
<circle cx="885.2" cy="864.5" r="3.6" fill="url(#gOe)"/>
<circle cx="848.7" cy="864.6" r="3.6" fill="url(#gOe)"/>
<circle cx="811.5" cy="864.7" r="3.6" fill="url(#gOe)"/>
<circle cx="775.2" cy="864.8" r="3.6" fill="url(#gOe)"/>
<circle cx="761.7" cy="866.8" r="3.6" fill="url(#gOe)"/>
<circle cx="901.3" cy="867" r="5.4" fill="url(#gP)"/>
<circle cx="863.9" cy="867.1" r="5.4" fill="url(#gP)"/>
<circle cx="827" cy="867.2" r="5.4" fill="url(#gP)"/>
<circle cx="789.8" cy="867.3" r="5.4" fill="url(#gP)"/>
<circle cx="922.2" cy="868.4" r="3.6" fill="url(#gOe)"/>
<circle cx="908.6" cy="869" r="3.6" fill="url(#gOe)"/>
<circle cx="915.8" cy="868.5" r="5.8" fill="url(#gP)"/>
<circle cx="870.8" cy="869.1" r="3.6" fill="url(#gOe)"/>
<circle cx="877.7" cy="868.5" r="5.8" fill="url(#gP)"/>
<circle cx="833.9" cy="869.2" r="3.6" fill="url(#gOe)"/>
<circle cx="841.2" cy="868.6" r="5.8" fill="url(#gP)"/>
<circle cx="796.2" cy="869.2" r="3.6" fill="url(#gOe)"/>
<circle cx="754.3" cy="868.8" r="5.4" fill="url(#gP)"/>
<circle cx="803.2" cy="868.7" r="5.8" fill="url(#gP)"/>
<circle cx="766.9" cy="868.8" r="5.8" fill="url(#gP)"/>
<circle cx="897" cy="870.5" r="3.5" fill="url(#gOe)"/>
<circle cx="859.5" cy="870.6" r="3.5" fill="url(#gOe)"/>
<circle cx="822.1" cy="870.7" r="3.5" fill="url(#gOe)"/>
<circle cx="784.8" cy="870.8" r="3.5" fill="url(#gOe)"/>
<circle cx="893.3" cy="871.5" r="5.5" fill="url(#gP)"/>
<circle cx="855.9" cy="871.6" r="5.5" fill="url(#gP)"/>
<circle cx="818.2" cy="871.7" r="5.5" fill="url(#gP)"/>
<circle cx="781" cy="871.8" r="5.5" fill="url(#gP)"/>
<circle cx="759.9" cy="871.3" r="3.6" fill="url(#gOe)"/>
<circle cx="923.3" cy="873.5" r="3.7" fill="url(#gOe)"/>
<circle cx="886.3" cy="874" r="3.7" fill="url(#gOe)"/>
<circle cx="929.8" cy="873.4" r="5.8" fill="url(#gP)"/>
<circle cx="916.8" cy="873.5" r="5.8" fill="url(#gP)"/>
<circle cx="848.9" cy="874.1" r="3.7" fill="url(#gOe)"/>
<circle cx="878.1" cy="873.6" r="5.8" fill="url(#gP)"/>
<circle cx="810.7" cy="874.2" r="3.7" fill="url(#gOe)"/>
<circle cx="841.2" cy="873.6" r="5.8" fill="url(#gP)"/>
<circle cx="773.6" cy="874.3" r="3.7" fill="url(#gOe)"/>
<circle cx="802.7" cy="873.7" r="5.8" fill="url(#gP)"/>
<circle cx="765.9" cy="873.8" r="5.8" fill="url(#gP)"/>
<circle cx="744" cy="873.8" r="5.8" fill="url(#gP)"/>
<circle cx="759.6" cy="876.8" r="3.7" fill="url(#gOe)"/>
<circle cx="902.8" cy="877" r="5.5" fill="url(#gP)"/>
<circle cx="864.5" cy="877.1" r="5.5" fill="url(#gP)"/>
<circle cx="826.6" cy="877.2" r="5.5" fill="url(#gP)"/>
<circle cx="788.5" cy="877.2" r="5.5" fill="url(#gP)"/>
<circle cx="924.3" cy="878.5" r="3.7" fill="url(#gOe)"/>
<circle cx="910.4" cy="879" r="3.7" fill="url(#gOe)"/>
<circle cx="871.5" cy="879.1" r="3.7" fill="url(#gOe)"/>
<circle cx="917.7" cy="878.5" r="5.9" fill="url(#gP)"/>
<circle cx="833.8" cy="879.1" r="3.7" fill="url(#gOe)"/>
<circle cx="878.6" cy="878.6" r="5.9" fill="url(#gP)"/>
<circle cx="752.1" cy="878.8" r="5.5" fill="url(#gP)"/>
<circle cx="795.1" cy="879.2" r="3.7" fill="url(#gOe)"/>
<circle cx="841.2" cy="878.6" r="5.9" fill="url(#gP)"/>
<circle cx="802.2" cy="878.7" r="5.9" fill="url(#gP)"/>
<circle cx="765" cy="878.8" r="5.9" fill="url(#gP)"/>
<circle cx="898.4" cy="880.5" r="3.5" fill="url(#gOe)"/>
<circle cx="860" cy="880.6" r="3.5" fill="url(#gOe)"/>
<circle cx="821.6" cy="880.7" r="3.5" fill="url(#gOe)"/>
<circle cx="783.3" cy="880.7" r="3.5" fill="url(#gOe)"/>
<circle cx="894.6" cy="881.5" r="5.6" fill="url(#gP)"/>
<circle cx="856.2" cy="881.6" r="5.6" fill="url(#gP)"/>
<circle cx="817.6" cy="881.7" r="5.6" fill="url(#gP)"/>
<circle cx="779.4" cy="881.7" r="5.6" fill="url(#gP)"/>
<circle cx="757.8" cy="881.3" r="3.7" fill="url(#gOe)"/>
<circle cx="925.4" cy="883.5" r="3.7" fill="url(#gOe)"/>
<circle cx="887.4" cy="884.1" r="3.7" fill="url(#gOe)"/>
<circle cx="932" cy="883.5" r="5.9" fill="url(#gP)"/>
<circle cx="918.7" cy="883.5" r="5.9" fill="url(#gP)"/>
<circle cx="849.1" cy="884.1" r="3.7" fill="url(#gOe)"/>
<circle cx="879.1" cy="883.6" r="5.9" fill="url(#gP)"/>
<circle cx="810" cy="884.2" r="3.7" fill="url(#gOe)"/>
<circle cx="841.2" cy="883.6" r="5.9" fill="url(#gP)"/>
<circle cx="771.9" cy="884.2" r="3.7" fill="url(#gOe)"/>
<circle cx="801.7" cy="883.7" r="5.9" fill="url(#gP)"/>
<circle cx="764" cy="883.7" r="5.9" fill="url(#gP)"/>
<circle cx="741.5" cy="883.8" r="5.9" fill="url(#gP)"/>
<circle cx="757.6" cy="886.7" r="3.7" fill="url(#gOe)"/>
<circle cx="904.4" cy="887" r="5.6" fill="url(#gP)"/>
<circle cx="865.1" cy="887.1" r="5.6" fill="url(#gP)"/>
<circle cx="826.2" cy="887.1" r="5.6" fill="url(#gP)"/>
<circle cx="787.1" cy="887.2" r="5.6" fill="url(#gP)"/>
<circle cx="926.4" cy="888.5" r="3.7" fill="url(#gOe)"/>
<circle cx="912.1" cy="889" r="3.7" fill="url(#gOe)"/>
<circle cx="872.3" cy="889.1" r="3.7" fill="url(#gOe)"/>
<circle cx="919.7" cy="888.5" r="6" fill="url(#gP)"/>
<circle cx="833.6" cy="889.1" r="3.7" fill="url(#gOe)"/>
<circle cx="749.9" cy="888.7" r="5.6" fill="url(#gP)"/>
<circle cx="879.5" cy="888.6" r="6" fill="url(#gP)"/>
<circle cx="793.9" cy="889.2" r="3.7" fill="url(#gOe)"/>
<circle cx="841.2" cy="888.6" r="6" fill="url(#gP)"/>
<circle cx="801.2" cy="888.7" r="6" fill="url(#gP)"/>
<circle cx="763.1" cy="888.7" r="6" fill="url(#gP)"/>
<circle cx="899.9" cy="890.5" r="3.6" fill="url(#gOe)"/>
<circle cx="860.4" cy="890.6" r="3.6" fill="url(#gOe)"/>
<circle cx="821.1" cy="890.6" r="3.6" fill="url(#gOe)"/>
<circle cx="781.9" cy="890.7" r="3.6" fill="url(#gOe)"/>
<circle cx="896" cy="891.6" r="5.6" fill="url(#gP)"/>
<circle cx="856.6" cy="891.6" r="5.6" fill="url(#gP)"/>
<circle cx="817" cy="891.6" r="5.6" fill="url(#gP)"/>
<circle cx="777.9" cy="891.7" r="5.6" fill="url(#gP)"/>
<circle cx="755.7" cy="891.2" r="3.8" fill="url(#gOe)"/>
<circle cx="927.4" cy="893.5" r="3.8" fill="url(#gOe)"/>
<circle cx="888.6" cy="894.1" r="3.8" fill="url(#gOe)"/>
<circle cx="849.3" cy="894.1" r="3.8" fill="url(#gOe)"/>
<circle cx="934.3" cy="893.5" r="6" fill="url(#gP)"/>
<circle cx="920.6" cy="893.5" r="6" fill="url(#gP)"/>
<circle cx="809.2" cy="894.1" r="3.8" fill="url(#gOe)"/>
<circle cx="880" cy="893.6" r="6" fill="url(#gP)"/>
<circle cx="770.1" cy="894.2" r="3.8" fill="url(#gOe)"/>
<circle cx="841.2" cy="893.6" r="6" fill="url(#gP)"/>
<circle cx="800.7" cy="893.7" r="6" fill="url(#gP)"/>
<circle cx="762.1" cy="893.7" r="6" fill="url(#gP)"/>
<circle cx="739.1" cy="893.7" r="6" fill="url(#gP)"/>
<circle cx="841.6" cy="848" r="6.9" fill="url(#gNe)"/>
<circle cx="831.4" cy="853.3" r="6.9" fill="url(#gP)"/>
<circle cx="851.8" cy="853.3" r="6.9" fill="url(#gNe)"/>
<circle cx="841.6" cy="856.4" r="6.9" fill="url(#gP)"/>
<circle cx="821.7" cy="862.2" r="6.9" fill="url(#gNe)"/>
<circle cx="861.5" cy="862.2" r="6.9" fill="url(#gNe)"/>
<circle cx="831.4" cy="865.7" r="6.9" fill="url(#gP)"/>
<circle cx="851.8" cy="865.7" r="6.9" fill="url(#gP)"/>
<circle cx="841.6" cy="869.7" r="6.9" fill="url(#gNe)"/>
<circle cx="871.3" cy="871.9" r="6.9" fill="url(#gP)"/>
<circle cx="812" cy="871.5" r="6.9" fill="url(#gNe)"/>
<circle cx="821.7" cy="874.6" r="6.9" fill="url(#gP)"/>
<circle cx="861.5" cy="874.6" r="6.9" fill="url(#gNe)"/>
<circle cx="831.9" cy="878.1" r="6.9" fill="url(#gP)"/>
<circle cx="851.3" cy="878.1" r="6.9" fill="url(#gNe)"/>
<circle cx="812" cy="883.4" r="6.9" fill="url(#gP)"/>
<circle cx="871.3" cy="883.4" r="6.9" fill="url(#gNe)"/>
<circle cx="821.7" cy="887" r="6.9" fill="url(#gNe)"/>
<circle cx="841.6" cy="887" r="6.9" fill="url(#gP)"/>
<circle cx="755.5" cy="896.7" r="3.8" fill="url(#gOe)"/>
<circle cx="861.5" cy="887" r="6.9" fill="url(#gP)"/>
<circle cx="831.9" cy="890.5" r="6.9" fill="url(#gP)"/>
<circle cx="851.3" cy="890.5" r="6.9" fill="url(#gP)"/>
<circle cx="905.9" cy="897.1" r="5.7" fill="url(#gP)"/>
<circle cx="865.6" cy="897.1" r="5.7" fill="url(#gP)"/>
<circle cx="825.9" cy="897.1" r="5.7" fill="url(#gP)"/>
<circle cx="785.8" cy="897.2" r="5.7" fill="url(#gP)"/>
<circle cx="928.5" cy="898.5" r="3.8" fill="url(#gOe)"/>
<circle cx="913.9" cy="899.1" r="3.8" fill="url(#gOe)"/>
<circle cx="747.6" cy="898.7" r="5.7" fill="url(#gP)"/>
<circle cx="873" cy="899.1" r="3.8" fill="url(#gOe)"/>
<circle cx="833.4" cy="899.1" r="3.8" fill="url(#gOe)"/>
<circle cx="792.8" cy="899.1" r="3.8" fill="url(#gOe)"/>
<circle cx="921.6" cy="898.6" r="6" fill="url(#gP)"/>
<circle cx="880.5" cy="898.6" r="6" fill="url(#gP)"/>
<circle cx="841.2" cy="898.6" r="6" fill="url(#gP)"/>
<circle cx="800.3" cy="898.6" r="6" fill="url(#gP)"/>
<circle cx="761.1" cy="898.7" r="6" fill="url(#gP)"/>
<circle cx="901.3" cy="900.6" r="3.6" fill="url(#gOe)"/>
<circle cx="860.9" cy="900.6" r="3.6" fill="url(#gOe)"/>
<circle cx="820.6" cy="900.6" r="3.6" fill="url(#gOe)"/>
<circle cx="780.4" cy="900.6" r="3.6" fill="url(#gOe)"/>
<circle cx="897.3" cy="901.6" r="5.7" fill="url(#gP)"/>
<circle cx="857" cy="901.6" r="5.7" fill="url(#gP)"/>
<circle cx="816.4" cy="901.6" r="5.7" fill="url(#gP)"/>
<circle cx="776.3" cy="901.6" r="5.7" fill="url(#gP)"/>
<circle cx="753.6" cy="901.2" r="3.8" fill="url(#gOe)"/>
<circle cx="929.5" cy="903.6" r="3.8" fill="url(#gOe)"/>
<circle cx="889.7" cy="904.1" r="3.8" fill="url(#gOe)"/>
<circle cx="849.5" cy="904.1" r="3.8" fill="url(#gOe)"/>
<circle cx="808.4" cy="904.1" r="3.8" fill="url(#gOe)"/>
<circle cx="768.4" cy="904.1" r="3.8" fill="url(#gOe)"/>
<circle cx="936.5" cy="903.6" r="6.1" fill="url(#gP)"/>
<circle cx="922.5" cy="903.6" r="6.1" fill="url(#gP)"/>
<circle cx="881" cy="903.6" r="6.1" fill="url(#gP)"/>
<circle cx="841.2" cy="903.6" r="6.1" fill="url(#gP)"/>
<circle cx="799.8" cy="903.6" r="6.1" fill="url(#gP)"/>
<circle cx="760.2" cy="903.6" r="6.1" fill="url(#gP)"/>
<circle cx="736.6" cy="903.7" r="6.1" fill="url(#gP)"/>
<circle cx="753.4" cy="906.6" r="3.8" fill="url(#gOe)"/>
<circle cx="907.5" cy="907.1" r="5.8" fill="url(#gP)"/>
<circle cx="866.2" cy="907.1" r="5.8" fill="url(#gP)"/>
<circle cx="825.5" cy="907.1" r="5.8" fill="url(#gP)"/>
<circle cx="784.5" cy="907.1" r="5.8" fill="url(#gP)"/>
<circle cx="930.6" cy="908.6" r="3.9" fill="url(#gOe)"/>
<circle cx="745.4" cy="908.6" r="5.8" fill="url(#gP)"/>
<circle cx="915.6" cy="909.1" r="3.9" fill="url(#gOe)"/>
<circle cx="873.8" cy="909.1" r="3.9" fill="url(#gOe)"/>
<circle cx="833.2" cy="909.1" r="3.9" fill="url(#gOe)"/>
<circle cx="791.6" cy="909.1" r="3.9" fill="url(#gOe)"/>
<circle cx="923.5" cy="908.6" r="6.1" fill="url(#gP)"/>
<circle cx="881.4" cy="908.6" r="6.1" fill="url(#gP)"/>
<circle cx="841.2" cy="908.6" r="6.1" fill="url(#gP)"/>
<circle cx="799.3" cy="908.6" r="6.1" fill="url(#gP)"/>
<circle cx="759.2" cy="908.6" r="6.1" fill="url(#gP)"/>
<circle cx="902.8" cy="910.6" r="3.7" fill="url(#gOe)"/>
<circle cx="861.4" cy="910.6" r="3.7" fill="url(#gOe)"/>
<circle cx="820.1" cy="910.6" r="3.7" fill="url(#gOe)"/>
<circle cx="779" cy="910.6" r="3.7" fill="url(#gOe)"/>
<circle cx="898.7" cy="911.6" r="5.8" fill="url(#gP)"/>
<circle cx="857.4" cy="911.6" r="5.8" fill="url(#gP)"/>
<circle cx="815.9" cy="911.6" r="5.8" fill="url(#gP)"/>
<circle cx="774.8" cy="911.6" r="5.8" fill="url(#gP)"/>
<circle cx="751.5" cy="911.1" r="3.9" fill="url(#gOe)"/>
<circle cx="931.6" cy="913.6" r="3.9" fill="url(#gOe)"/>
<circle cx="766.7" cy="914.1" r="3.9" fill="url(#gOe)"/>
<circle cx="807.6" cy="914.1" r="3.9" fill="url(#gOe)"/>
<circle cx="849.7" cy="914.1" r="3.9" fill="url(#gOe)"/>
<circle cx="890.9" cy="914.1" r="3.9" fill="url(#gOe)"/>
<circle cx="734.1" cy="913.6" r="6.2" fill="url(#gP)"/>
<circle cx="758.3" cy="913.6" r="6.2" fill="url(#gP)"/>
<circle cx="798.8" cy="913.6" r="6.2" fill="url(#gP)"/>
<circle cx="841.2" cy="913.6" r="6.2" fill="url(#gP)"/>
<circle cx="881.9" cy="913.6" r="6.2" fill="url(#gP)"/>
<circle cx="924.5" cy="913.6" r="6.2" fill="url(#gP)"/>
<circle cx="938.8" cy="913.6" r="6.2" fill="url(#gP)"/>
<circle cx="743.1" cy="920.4" r="5.8" fill="url(#gP)"/>
<circle cx="766.3" cy="920.4" r="5.8" fill="url(#gP)"/>
<circle cx="789.5" cy="920.4" r="5.8" fill="url(#gP)"/>
<circle cx="812.7" cy="920.4" r="5.8" fill="url(#gP)"/>
<circle cx="835.9" cy="920.4" r="5.8" fill="url(#gP)"/>
<circle cx="859.1" cy="920.4" r="5.8" fill="url(#gP)"/>
<circle cx="882.3" cy="920.4" r="5.8" fill="url(#gP)"/>
<circle cx="905.5" cy="920.4" r="5.8" fill="url(#gP)"/>
<circle cx="928.7" cy="920.4" r="5.8" fill="url(#gP)"/>
<circle cx="754.1" cy="922.1" r="3.8" fill="url(#gOe)"/>
<circle cx="777.3" cy="922.1" r="3.8" fill="url(#gOe)"/>
<circle cx="800.5" cy="922.1" r="3.8" fill="url(#gOe)"/>
<circle cx="823.7" cy="922.1" r="3.8" fill="url(#gOe)"/>
<circle cx="846.9" cy="922.1" r="3.8" fill="url(#gOe)"/>
<circle cx="870.1" cy="922.1" r="3.8" fill="url(#gOe)"/>
<circle cx="893.3" cy="922.1" r="3.8" fill="url(#gOe)"/>
<circle cx="916.5" cy="922.1" r="3.8" fill="url(#gOe)"/>
<circle cx="939.7" cy="922.1" r="3.8" fill="url(#gOe)"/>
<circle cx="754.6" cy="930.8" r="5.8" fill="url(#gP)"/>
<circle cx="777.8" cy="930.8" r="5.8" fill="url(#gP)"/>
<circle cx="801" cy="930.8" r="5.8" fill="url(#gP)"/>
<circle cx="824.2" cy="930.8" r="5.8" fill="url(#gP)"/>
<circle cx="847.4" cy="930.8" r="5.8" fill="url(#gP)"/>
<circle cx="870.6" cy="930.8" r="5.8" fill="url(#gP)"/>
<circle cx="893.8" cy="930.8" r="5.8" fill="url(#gP)"/>
<circle cx="917" cy="930.8" r="5.8" fill="url(#gP)"/>
<circle cx="940.2" cy="930.8" r="5.8" fill="url(#gP)"/>
<circle cx="743.6" cy="932.1" r="3.8" fill="url(#gOe)"/>
<circle cx="766.8" cy="932.1" r="3.8" fill="url(#gOe)"/>
<circle cx="790" cy="932.1" r="3.8" fill="url(#gOe)"/>
<circle cx="813.2" cy="932.1" r="3.8" fill="url(#gOe)"/>
<circle cx="836.4" cy="932.1" r="3.8" fill="url(#gOe)"/>
<circle cx="859.6" cy="932.1" r="3.8" fill="url(#gOe)"/>
<circle cx="882.8" cy="932.1" r="3.8" fill="url(#gOe)"/>
<circle cx="906" cy="932.1" r="3.8" fill="url(#gOe)"/>
<circle cx="929.2" cy="932.1" r="3.8" fill="url(#gOe)"/>
<circle cx="738.6" cy="940.1" r="5.8" fill="url(#gP)"/>
<circle cx="761.8" cy="940.1" r="5.8" fill="url(#gP)"/>
<circle cx="785" cy="940.1" r="5.8" fill="url(#gP)"/>
<circle cx="808.2" cy="940.1" r="5.8" fill="url(#gP)"/>
<circle cx="831.4" cy="940.1" r="5.8" fill="url(#gP)"/>
<circle cx="854.6" cy="940.1" r="5.8" fill="url(#gP)"/>
<circle cx="877.8" cy="940.1" r="5.8" fill="url(#gP)"/>
<circle cx="901" cy="940.1" r="5.8" fill="url(#gP)"/>
<circle cx="924.2" cy="940.1" r="5.8" fill="url(#gP)"/>
<circle cx="750.1" cy="941.6" r="3.6" fill="url(#gOe)"/>
<circle cx="773.3" cy="941.6" r="3.6" fill="url(#gOe)"/>
<circle cx="796.5" cy="941.6" r="3.6" fill="url(#gOe)"/>
<circle cx="819.7" cy="941.6" r="3.6" fill="url(#gOe)"/>
<circle cx="842.9" cy="941.6" r="3.6" fill="url(#gOe)"/>
<circle cx="866.1" cy="941.6" r="3.6" fill="url(#gOe)"/>
<circle cx="889.3" cy="941.6" r="3.6" fill="url(#gOe)"/>
<circle cx="912.5" cy="941.6" r="3.6" fill="url(#gOe)"/>
<circle cx="935.7" cy="941.6" r="3.6" fill="url(#gOe)"/>
<polygon points="418,980.9 595,980.4 606.3,1030.6 405.6,1030.6" fill="#c8735c"/>
<polygon points="405.6,1030.6 606.3,1030.6 606.3,1052.6 405.6,1052.6" fill="#e8ab96"/>
<circle cx="561.5" cy="979" r="5.4" fill="url(#gP)"/>
<circle cx="525" cy="979.1" r="5.4" fill="url(#gP)"/>
<circle cx="488.3" cy="979.2" r="5.4" fill="url(#gP)"/>
<circle cx="451.9" cy="979.3" r="5.4" fill="url(#gP)"/>
<circle cx="590.7" cy="980.4" r="3.6" fill="url(#gOe)"/>
<circle cx="597" cy="980.4" r="5.7" fill="url(#gP)"/>
<circle cx="584.3" cy="980.4" r="5.7" fill="url(#gP)"/>
<circle cx="546.7" cy="980.5" r="5.7" fill="url(#gP)"/>
<circle cx="510.7" cy="980.6" r="5.7" fill="url(#gP)"/>
<circle cx="473.2" cy="980.7" r="5.7" fill="url(#gP)"/>
<circle cx="437.4" cy="980.8" r="5.7" fill="url(#gP)"/>
<circle cx="416" cy="980.9" r="5.7" fill="url(#gP)"/>
<circle cx="554.7" cy="981.5" r="3.6" fill="url(#gOe)"/>
<circle cx="518.2" cy="981.6" r="3.6" fill="url(#gOe)"/>
<circle cx="481" cy="981.7" r="3.6" fill="url(#gOe)"/>
<circle cx="444.7" cy="981.8" r="3.6" fill="url(#gOe)"/>
<circle cx="431.2" cy="983.8" r="3.6" fill="url(#gOe)"/>
<circle cx="570.8" cy="984" r="5.4" fill="url(#gP)"/>
<circle cx="533.4" cy="984.1" r="5.4" fill="url(#gP)"/>
<circle cx="496.5" cy="984.2" r="5.4" fill="url(#gP)"/>
<circle cx="459.3" cy="984.3" r="5.4" fill="url(#gP)"/>
<circle cx="591.7" cy="985.4" r="3.6" fill="url(#gOe)"/>
<circle cx="578.1" cy="986" r="3.6" fill="url(#gOe)"/>
<circle cx="585.3" cy="985.5" r="5.8" fill="url(#gP)"/>
<circle cx="540.3" cy="986.1" r="3.6" fill="url(#gOe)"/>
<circle cx="547.2" cy="985.5" r="5.8" fill="url(#gP)"/>
<circle cx="503.4" cy="986.2" r="3.6" fill="url(#gOe)"/>
<circle cx="510.7" cy="985.6" r="5.8" fill="url(#gP)"/>
<circle cx="465.7" cy="986.2" r="3.6" fill="url(#gOe)"/>
<circle cx="423.8" cy="985.8" r="5.4" fill="url(#gP)"/>
<circle cx="472.7" cy="985.7" r="5.8" fill="url(#gP)"/>
<circle cx="436.4" cy="985.8" r="5.8" fill="url(#gP)"/>
<circle cx="566.5" cy="987.5" r="3.5" fill="url(#gOe)"/>
<circle cx="529" cy="987.6" r="3.5" fill="url(#gOe)"/>
<circle cx="491.6" cy="987.7" r="3.5" fill="url(#gOe)"/>
<circle cx="454.3" cy="987.8" r="3.5" fill="url(#gOe)"/>
<circle cx="562.8" cy="988.5" r="5.5" fill="url(#gP)"/>
<circle cx="525.4" cy="988.6" r="5.5" fill="url(#gP)"/>
<circle cx="487.7" cy="988.7" r="5.5" fill="url(#gP)"/>
<circle cx="450.5" cy="988.8" r="5.5" fill="url(#gP)"/>
<circle cx="429.4" cy="988.3" r="3.6" fill="url(#gOe)"/>
<circle cx="592.8" cy="990.5" r="3.7" fill="url(#gOe)"/>
<circle cx="555.8" cy="991" r="3.7" fill="url(#gOe)"/>
<circle cx="599.3" cy="990.4" r="5.8" fill="url(#gP)"/>
<circle cx="586.3" cy="990.5" r="5.8" fill="url(#gP)"/>
<circle cx="518.4" cy="991.1" r="3.7" fill="url(#gOe)"/>
<circle cx="547.6" cy="990.6" r="5.8" fill="url(#gP)"/>
<circle cx="480.2" cy="991.2" r="3.7" fill="url(#gOe)"/>
<circle cx="510.7" cy="990.6" r="5.8" fill="url(#gP)"/>
<circle cx="443.1" cy="991.3" r="3.7" fill="url(#gOe)"/>
<circle cx="472.2" cy="990.7" r="5.8" fill="url(#gP)"/>
<circle cx="435.4" cy="990.8" r="5.8" fill="url(#gP)"/>
<circle cx="413.5" cy="990.8" r="5.8" fill="url(#gP)"/>
<circle cx="429.1" cy="993.8" r="3.7" fill="url(#gOe)"/>
<circle cx="572.3" cy="994" r="5.5" fill="url(#gP)"/>
<circle cx="534" cy="994.1" r="5.5" fill="url(#gP)"/>
<circle cx="496.1" cy="994.2" r="5.5" fill="url(#gP)"/>
<circle cx="458" cy="994.2" r="5.5" fill="url(#gP)"/>
<circle cx="593.8" cy="995.5" r="3.7" fill="url(#gOe)"/>
<circle cx="579.9" cy="996" r="3.7" fill="url(#gOe)"/>
<circle cx="541" cy="996.1" r="3.7" fill="url(#gOe)"/>
<circle cx="587.2" cy="995.5" r="5.9" fill="url(#gP)"/>
<circle cx="503.3" cy="996.1" r="3.7" fill="url(#gOe)"/>
<circle cx="548.1" cy="995.6" r="5.9" fill="url(#gP)"/>
<circle cx="421.6" cy="995.8" r="5.5" fill="url(#gP)"/>
<circle cx="464.6" cy="996.2" r="3.7" fill="url(#gOe)"/>
<circle cx="510.7" cy="995.6" r="5.9" fill="url(#gP)"/>
<circle cx="471.7" cy="995.7" r="5.9" fill="url(#gP)"/>
<circle cx="434.5" cy="995.8" r="5.9" fill="url(#gP)"/>
<circle cx="567.9" cy="997.5" r="3.5" fill="url(#gOe)"/>
<circle cx="529.5" cy="997.6" r="3.5" fill="url(#gOe)"/>
<circle cx="491.1" cy="997.7" r="3.5" fill="url(#gOe)"/>
<circle cx="452.8" cy="997.7" r="3.5" fill="url(#gOe)"/>
<circle cx="564.1" cy="998.5" r="5.6" fill="url(#gP)"/>
<circle cx="525.7" cy="998.6" r="5.6" fill="url(#gP)"/>
<circle cx="487.1" cy="998.7" r="5.6" fill="url(#gP)"/>
<circle cx="448.9" cy="998.7" r="5.6" fill="url(#gP)"/>
<circle cx="427.3" cy="998.3" r="3.7" fill="url(#gOe)"/>
<circle cx="594.9" cy="1000.5" r="3.7" fill="url(#gOe)"/>
<circle cx="556.9" cy="1001.1" r="3.7" fill="url(#gOe)"/>
<circle cx="601.5" cy="1000.5" r="5.9" fill="url(#gP)"/>
<circle cx="588.2" cy="1000.5" r="5.9" fill="url(#gP)"/>
<circle cx="518.6" cy="1001.1" r="3.7" fill="url(#gOe)"/>
<circle cx="548.6" cy="1000.6" r="5.9" fill="url(#gP)"/>
<circle cx="479.5" cy="1001.2" r="3.7" fill="url(#gOe)"/>
<circle cx="510.7" cy="1000.6" r="5.9" fill="url(#gP)"/>
<circle cx="441.4" cy="1001.2" r="3.7" fill="url(#gOe)"/>
<circle cx="471.2" cy="1000.7" r="5.9" fill="url(#gP)"/>
<circle cx="433.5" cy="1000.7" r="5.9" fill="url(#gP)"/>
<circle cx="411" cy="1000.8" r="5.9" fill="url(#gP)"/>
<circle cx="427.1" cy="1003.7" r="3.7" fill="url(#gOe)"/>
<circle cx="573.9" cy="1004" r="5.6" fill="url(#gP)"/>
<circle cx="534.6" cy="1004.1" r="5.6" fill="url(#gP)"/>
<circle cx="495.7" cy="1004.1" r="5.6" fill="url(#gP)"/>
<circle cx="456.6" cy="1004.2" r="5.6" fill="url(#gP)"/>
<circle cx="595.9" cy="1005.5" r="3.7" fill="url(#gOe)"/>
<circle cx="581.6" cy="1006" r="3.7" fill="url(#gOe)"/>
<circle cx="541.8" cy="1006.1" r="3.7" fill="url(#gOe)"/>
<circle cx="589.2" cy="1005.5" r="6" fill="url(#gP)"/>
<circle cx="503.1" cy="1006.1" r="3.7" fill="url(#gOe)"/>
<circle cx="419.4" cy="1005.7" r="5.6" fill="url(#gP)"/>
<circle cx="549" cy="1005.6" r="6" fill="url(#gP)"/>
<circle cx="463.4" cy="1006.2" r="3.7" fill="url(#gOe)"/>
<circle cx="510.7" cy="1005.6" r="6" fill="url(#gP)"/>
<circle cx="470.7" cy="1005.7" r="6" fill="url(#gP)"/>
<circle cx="432.6" cy="1005.7" r="6" fill="url(#gP)"/>
<circle cx="569.4" cy="1007.5" r="3.6" fill="url(#gOe)"/>
<circle cx="529.9" cy="1007.6" r="3.6" fill="url(#gOe)"/>
<circle cx="490.6" cy="1007.6" r="3.6" fill="url(#gOe)"/>
<circle cx="451.4" cy="1007.7" r="3.6" fill="url(#gOe)"/>
<circle cx="565.5" cy="1008.6" r="5.6" fill="url(#gP)"/>
<circle cx="526.1" cy="1008.6" r="5.6" fill="url(#gP)"/>
<circle cx="486.5" cy="1008.6" r="5.6" fill="url(#gP)"/>
<circle cx="447.4" cy="1008.7" r="5.6" fill="url(#gP)"/>
<circle cx="425.2" cy="1008.2" r="3.8" fill="url(#gOe)"/>
<circle cx="596.9" cy="1010.5" r="3.8" fill="url(#gOe)"/>
<circle cx="558.1" cy="1011.1" r="3.8" fill="url(#gOe)"/>
<circle cx="518.8" cy="1011.1" r="3.8" fill="url(#gOe)"/>
<circle cx="603.8" cy="1010.5" r="6" fill="url(#gP)"/>
<circle cx="590.1" cy="1010.5" r="6" fill="url(#gP)"/>
<circle cx="478.7" cy="1011.1" r="3.8" fill="url(#gOe)"/>
<circle cx="549.5" cy="1010.6" r="6" fill="url(#gP)"/>
<circle cx="439.6" cy="1011.2" r="3.8" fill="url(#gOe)"/>
<circle cx="510.7" cy="1010.6" r="6" fill="url(#gP)"/>
<circle cx="470.2" cy="1010.7" r="6" fill="url(#gP)"/>
<circle cx="431.6" cy="1010.7" r="6" fill="url(#gP)"/>
<circle cx="408.6" cy="1010.7" r="6" fill="url(#gP)"/>
<circle cx="511.1" cy="965" r="6.9" fill="url(#gNe)"/>
<circle cx="500.9" cy="970.3" r="6.9" fill="url(#gP)"/>
<circle cx="521.3" cy="970.3" r="6.9" fill="url(#gNe)"/>
<circle cx="511.1" cy="973.4" r="6.9" fill="url(#gP)"/>
<circle cx="491.2" cy="979.2" r="6.9" fill="url(#gNe)"/>
<circle cx="531" cy="979.2" r="6.9" fill="url(#gNe)"/>
<circle cx="500.9" cy="982.7" r="6.9" fill="url(#gP)"/>
<circle cx="521.3" cy="982.7" r="6.9" fill="url(#gP)"/>
<circle cx="511.1" cy="986.7" r="6.9" fill="url(#gNe)"/>
<circle cx="540.8" cy="988.9" r="6.9" fill="url(#gP)"/>
<circle cx="481.5" cy="988.5" r="6.9" fill="url(#gNe)"/>
<circle cx="491.2" cy="991.6" r="6.9" fill="url(#gP)"/>
<circle cx="531" cy="991.6" r="6.9" fill="url(#gNe)"/>
<circle cx="501.4" cy="995.1" r="6.9" fill="url(#gP)"/>
<circle cx="520.8" cy="995.1" r="6.9" fill="url(#gNe)"/>
<circle cx="481.5" cy="1000.4" r="6.9" fill="url(#gP)"/>
<circle cx="540.8" cy="1000.4" r="6.9" fill="url(#gNe)"/>
<circle cx="491.2" cy="1004" r="6.9" fill="url(#gNe)"/>
<circle cx="511.1" cy="1004" r="6.9" fill="url(#gP)"/>
<circle cx="425" cy="1013.7" r="3.8" fill="url(#gOe)"/>
<circle cx="531" cy="1004" r="6.9" fill="url(#gP)"/>
<circle cx="501.4" cy="1007.5" r="6.9" fill="url(#gP)"/>
<circle cx="520.8" cy="1007.5" r="6.9" fill="url(#gP)"/>
<circle cx="575.4" cy="1014.1" r="5.7" fill="url(#gP)"/>
<circle cx="535.1" cy="1014.1" r="5.7" fill="url(#gP)"/>
<circle cx="495.4" cy="1014.1" r="5.7" fill="url(#gP)"/>
<circle cx="455.3" cy="1014.2" r="5.7" fill="url(#gP)"/>
<circle cx="598" cy="1015.5" r="3.8" fill="url(#gOe)"/>
<circle cx="583.4" cy="1016.1" r="3.8" fill="url(#gOe)"/>
<circle cx="417.1" cy="1015.7" r="5.7" fill="url(#gP)"/>
<circle cx="542.5" cy="1016.1" r="3.8" fill="url(#gOe)"/>
<circle cx="502.9" cy="1016.1" r="3.8" fill="url(#gOe)"/>
<circle cx="462.3" cy="1016.1" r="3.8" fill="url(#gOe)"/>
<circle cx="591.1" cy="1015.6" r="6" fill="url(#gP)"/>
<circle cx="550" cy="1015.6" r="6" fill="url(#gP)"/>
<circle cx="510.7" cy="1015.6" r="6" fill="url(#gP)"/>
<circle cx="469.8" cy="1015.6" r="6" fill="url(#gP)"/>
<circle cx="430.6" cy="1015.7" r="6" fill="url(#gP)"/>
<circle cx="570.8" cy="1017.6" r="3.6" fill="url(#gOe)"/>
<circle cx="530.4" cy="1017.6" r="3.6" fill="url(#gOe)"/>
<circle cx="490.1" cy="1017.6" r="3.6" fill="url(#gOe)"/>
<circle cx="449.9" cy="1017.6" r="3.6" fill="url(#gOe)"/>
<circle cx="566.8" cy="1018.6" r="5.7" fill="url(#gP)"/>
<circle cx="526.5" cy="1018.6" r="5.7" fill="url(#gP)"/>
<circle cx="485.9" cy="1018.6" r="5.7" fill="url(#gP)"/>
<circle cx="445.8" cy="1018.6" r="5.7" fill="url(#gP)"/>
<circle cx="423.1" cy="1018.2" r="3.8" fill="url(#gOe)"/>
<circle cx="599" cy="1020.6" r="3.8" fill="url(#gOe)"/>
<circle cx="559.2" cy="1021.1" r="3.8" fill="url(#gOe)"/>
<circle cx="519" cy="1021.1" r="3.8" fill="url(#gOe)"/>
<circle cx="477.9" cy="1021.1" r="3.8" fill="url(#gOe)"/>
<circle cx="437.9" cy="1021.1" r="3.8" fill="url(#gOe)"/>
<circle cx="606" cy="1020.6" r="6.1" fill="url(#gP)"/>
<circle cx="592" cy="1020.6" r="6.1" fill="url(#gP)"/>
<circle cx="550.5" cy="1020.6" r="6.1" fill="url(#gP)"/>
<circle cx="510.7" cy="1020.6" r="6.1" fill="url(#gP)"/>
<circle cx="469.3" cy="1020.6" r="6.1" fill="url(#gP)"/>
<circle cx="429.7" cy="1020.6" r="6.1" fill="url(#gP)"/>
<circle cx="406.1" cy="1020.7" r="6.1" fill="url(#gP)"/>
<circle cx="422.9" cy="1023.6" r="3.8" fill="url(#gOe)"/>
<circle cx="577" cy="1024.1" r="5.8" fill="url(#gP)"/>
<circle cx="535.7" cy="1024.1" r="5.8" fill="url(#gP)"/>
<circle cx="495" cy="1024.1" r="5.8" fill="url(#gP)"/>
<circle cx="454" cy="1024.1" r="5.8" fill="url(#gP)"/>
<circle cx="600.1" cy="1025.6" r="3.9" fill="url(#gOe)"/>
<circle cx="414.9" cy="1025.6" r="5.8" fill="url(#gP)"/>
<circle cx="585.1" cy="1026.1" r="3.9" fill="url(#gOe)"/>
<circle cx="543.3" cy="1026.1" r="3.9" fill="url(#gOe)"/>
<circle cx="502.7" cy="1026.1" r="3.9" fill="url(#gOe)"/>
<circle cx="461.1" cy="1026.1" r="3.9" fill="url(#gOe)"/>
<circle cx="593" cy="1025.6" r="6.1" fill="url(#gP)"/>
<circle cx="550.9" cy="1025.6" r="6.1" fill="url(#gP)"/>
<circle cx="510.7" cy="1025.6" r="6.1" fill="url(#gP)"/>
<circle cx="468.8" cy="1025.6" r="6.1" fill="url(#gP)"/>
<circle cx="428.7" cy="1025.6" r="6.1" fill="url(#gP)"/>
<circle cx="572.3" cy="1027.6" r="3.7" fill="url(#gOe)"/>
<circle cx="530.9" cy="1027.6" r="3.7" fill="url(#gOe)"/>
<circle cx="489.6" cy="1027.6" r="3.7" fill="url(#gOe)"/>
<circle cx="448.5" cy="1027.6" r="3.7" fill="url(#gOe)"/>
<circle cx="568.2" cy="1028.6" r="5.8" fill="url(#gP)"/>
<circle cx="526.9" cy="1028.6" r="5.8" fill="url(#gP)"/>
<circle cx="485.4" cy="1028.6" r="5.8" fill="url(#gP)"/>
<circle cx="444.3" cy="1028.6" r="5.8" fill="url(#gP)"/>
<circle cx="421" cy="1028.1" r="3.9" fill="url(#gOe)"/>
<circle cx="601.1" cy="1030.6" r="3.9" fill="url(#gOe)"/>
<circle cx="436.2" cy="1031.1" r="3.9" fill="url(#gOe)"/>
<circle cx="477.1" cy="1031.1" r="3.9" fill="url(#gOe)"/>
<circle cx="519.2" cy="1031.1" r="3.9" fill="url(#gOe)"/>
<circle cx="560.4" cy="1031.1" r="3.9" fill="url(#gOe)"/>
<circle cx="403.6" cy="1030.6" r="6.2" fill="url(#gP)"/>
<circle cx="427.8" cy="1030.6" r="6.2" fill="url(#gP)"/>
<circle cx="468.3" cy="1030.6" r="6.2" fill="url(#gP)"/>
<circle cx="510.7" cy="1030.6" r="6.2" fill="url(#gP)"/>
<circle cx="551.4" cy="1030.6" r="6.2" fill="url(#gP)"/>
<circle cx="594" cy="1030.6" r="6.2" fill="url(#gP)"/>
<circle cx="608.3" cy="1030.6" r="6.2" fill="url(#gP)"/>
<circle cx="412.6" cy="1037.4" r="5.8" fill="url(#gP)"/>
<circle cx="435.8" cy="1037.4" r="5.8" fill="url(#gP)"/>
<circle cx="459" cy="1037.4" r="5.8" fill="url(#gP)"/>
<circle cx="482.2" cy="1037.4" r="5.8" fill="url(#gP)"/>
<circle cx="505.4" cy="1037.4" r="5.8" fill="url(#gP)"/>
<circle cx="528.6" cy="1037.4" r="5.8" fill="url(#gP)"/>
<circle cx="551.8" cy="1037.4" r="5.8" fill="url(#gP)"/>
<circle cx="575" cy="1037.4" r="5.8" fill="url(#gP)"/>
<circle cx="598.2" cy="1037.4" r="5.8" fill="url(#gP)"/>
<circle cx="423.6" cy="1039.1" r="3.8" fill="url(#gOe)"/>
<circle cx="446.8" cy="1039.1" r="3.8" fill="url(#gOe)"/>
<circle cx="470" cy="1039.1" r="3.8" fill="url(#gOe)"/>
<circle cx="493.2" cy="1039.1" r="3.8" fill="url(#gOe)"/>
<circle cx="516.4" cy="1039.1" r="3.8" fill="url(#gOe)"/>
<circle cx="539.6" cy="1039.1" r="3.8" fill="url(#gOe)"/>
<circle cx="562.8" cy="1039.1" r="3.8" fill="url(#gOe)"/>
<circle cx="586" cy="1039.1" r="3.8" fill="url(#gOe)"/>
<circle cx="609.2" cy="1039.1" r="3.8" fill="url(#gOe)"/>
<circle cx="424.1" cy="1047.8" r="5.8" fill="url(#gP)"/>
<circle cx="447.3" cy="1047.8" r="5.8" fill="url(#gP)"/>
<circle cx="470.5" cy="1047.8" r="5.8" fill="url(#gP)"/>
<circle cx="493.7" cy="1047.8" r="5.8" fill="url(#gP)"/>
<circle cx="516.9" cy="1047.8" r="5.8" fill="url(#gP)"/>
<circle cx="540.1" cy="1047.8" r="5.8" fill="url(#gP)"/>
<circle cx="563.3" cy="1047.8" r="5.8" fill="url(#gP)"/>
<circle cx="586.5" cy="1047.8" r="5.8" fill="url(#gP)"/>
<circle cx="609.7" cy="1047.8" r="5.8" fill="url(#gP)"/>
<circle cx="413.1" cy="1049.1" r="3.8" fill="url(#gOe)"/>
<circle cx="436.3" cy="1049.1" r="3.8" fill="url(#gOe)"/>
<circle cx="459.5" cy="1049.1" r="3.8" fill="url(#gOe)"/>
<circle cx="482.7" cy="1049.1" r="3.8" fill="url(#gOe)"/>
<circle cx="505.9" cy="1049.1" r="3.8" fill="url(#gOe)"/>
<circle cx="529.1" cy="1049.1" r="3.8" fill="url(#gOe)"/>
<circle cx="552.3" cy="1049.1" r="3.8" fill="url(#gOe)"/>
<circle cx="575.5" cy="1049.1" r="3.8" fill="url(#gOe)"/>
<circle cx="598.7" cy="1049.1" r="3.8" fill="url(#gOe)"/>
<circle cx="408.1" cy="1057.1" r="5.8" fill="url(#gP)"/>
<circle cx="431.3" cy="1057.1" r="5.8" fill="url(#gP)"/>
<circle cx="454.5" cy="1057.1" r="5.8" fill="url(#gP)"/>
<circle cx="477.7" cy="1057.1" r="5.8" fill="url(#gP)"/>
<circle cx="500.9" cy="1057.1" r="5.8" fill="url(#gP)"/>
<circle cx="524.1" cy="1057.1" r="5.8" fill="url(#gP)"/>
<circle cx="547.3" cy="1057.1" r="5.8" fill="url(#gP)"/>
<circle cx="570.5" cy="1057.1" r="5.8" fill="url(#gP)"/>
<circle cx="593.7" cy="1057.1" r="5.8" fill="url(#gP)"/>
<circle cx="419.6" cy="1058.6" r="3.6" fill="url(#gOe)"/>
<circle cx="442.8" cy="1058.6" r="3.6" fill="url(#gOe)"/>
<circle cx="466" cy="1058.6" r="3.6" fill="url(#gOe)"/>
<circle cx="489.2" cy="1058.6" r="3.6" fill="url(#gOe)"/>
<circle cx="512.4" cy="1058.6" r="3.6" fill="url(#gOe)"/>
<circle cx="535.6" cy="1058.6" r="3.6" fill="url(#gOe)"/>
<circle cx="558.8" cy="1058.6" r="3.6" fill="url(#gOe)"/>
<circle cx="582" cy="1058.6" r="3.6" fill="url(#gOe)"/>
<circle cx="605.2" cy="1058.6" r="3.6" fill="url(#gOe)"/>
<clipPath id="c5"><rect x="83" y="820" width="260" height="130"/></clipPath>
<g clip-path="url(#c5)">
<polygon points="42.4,854.1 273.7,853.5 285,903.7 22.9,903.7" fill="#c8735c"/>
<polygon points="22.9,903.7 285,903.7 285,925.7 22.9,925.7" fill="#e8ab96"/>
<circle cx="240.2" cy="852.1" r="5.4" fill="url(#gP)"/>
<circle cx="203.7" cy="852.2" r="5.4" fill="url(#gP)"/>
<circle cx="167" cy="852.3" r="5.4" fill="url(#gP)"/>
<circle cx="130.6" cy="852.4" r="5.4" fill="url(#gP)"/>
<circle cx="94.9" cy="852.5" r="5.4" fill="url(#gP)"/>
<circle cx="59" cy="852.6" r="5.4" fill="url(#gP)"/>
<circle cx="269.4" cy="853.5" r="3.6" fill="url(#gOe)"/>
<circle cx="275.7" cy="853.5" r="5.7" fill="url(#gP)"/>
<circle cx="263" cy="853.5" r="5.7" fill="url(#gP)"/>
<circle cx="42.2" cy="854.1" r="3.6" fill="url(#gOe)"/>
<circle cx="225.4" cy="853.6" r="5.7" fill="url(#gP)"/>
<circle cx="189.4" cy="853.7" r="5.7" fill="url(#gP)"/>
<circle cx="151.9" cy="853.8" r="5.7" fill="url(#gP)"/>
<circle cx="116.1" cy="853.9" r="5.7" fill="url(#gP)"/>
<circle cx="233.4" cy="854.6" r="3.6" fill="url(#gOe)"/>
<circle cx="80.2" cy="854" r="5.7" fill="url(#gP)"/>
<circle cx="196.9" cy="854.7" r="3.6" fill="url(#gOe)"/>
<circle cx="44" cy="854.1" r="5.7" fill="url(#gP)"/>
<circle cx="40.4" cy="854.1" r="5.7" fill="url(#gP)"/>
<circle cx="159.7" cy="854.8" r="3.6" fill="url(#gOe)"/>
<circle cx="123.4" cy="854.9" r="3.6" fill="url(#gOe)"/>
<circle cx="87.5" cy="855" r="3.6" fill="url(#gOe)"/>
<circle cx="51.3" cy="855.1" r="3.6" fill="url(#gOe)"/>
<circle cx="249.5" cy="857.1" r="5.4" fill="url(#gP)"/>
<circle cx="212.1" cy="857.2" r="5.4" fill="url(#gP)"/>
<circle cx="175.2" cy="857.3" r="5.4" fill="url(#gP)"/>
<circle cx="138" cy="857.4" r="5.4" fill="url(#gP)"/>
<circle cx="101.8" cy="857.5" r="5.4" fill="url(#gP)"/>
<circle cx="65.5" cy="857.6" r="5.4" fill="url(#gP)"/>
<circle cx="270.4" cy="858.5" r="3.6" fill="url(#gOe)"/>
<circle cx="256.8" cy="859.1" r="3.6" fill="url(#gOe)"/>
<circle cx="40.3" cy="859.1" r="3.6" fill="url(#gOe)"/>
<circle cx="264" cy="858.6" r="5.8" fill="url(#gP)"/>
<circle cx="219" cy="859.2" r="3.6" fill="url(#gOe)"/>
<circle cx="225.9" cy="858.6" r="5.8" fill="url(#gP)"/>
<circle cx="182.1" cy="859.3" r="3.6" fill="url(#gOe)"/>
<circle cx="189.4" cy="858.7" r="5.8" fill="url(#gP)"/>
<circle cx="144.4" cy="859.3" r="3.6" fill="url(#gOe)"/>
<circle cx="151.4" cy="858.8" r="5.8" fill="url(#gP)"/>
<circle cx="108.1" cy="859.4" r="3.6" fill="url(#gOe)"/>
<circle cx="115.1" cy="858.9" r="5.8" fill="url(#gP)"/>
<circle cx="71.7" cy="859.5" r="3.6" fill="url(#gOe)"/>
<circle cx="78.8" cy="859" r="5.8" fill="url(#gP)"/>
<circle cx="42.1" cy="859.1" r="5.8" fill="url(#gP)"/>
<circle cx="245.2" cy="860.6" r="3.5" fill="url(#gOe)"/>
<circle cx="207.7" cy="860.7" r="3.5" fill="url(#gOe)"/>
<circle cx="170.3" cy="860.8" r="3.5" fill="url(#gOe)"/>
<circle cx="133" cy="860.9" r="3.5" fill="url(#gOe)"/>
<circle cx="96.5" cy="860.9" r="3.5" fill="url(#gOe)"/>
<circle cx="59.8" cy="861" r="3.5" fill="url(#gOe)"/>
<circle cx="241.5" cy="861.6" r="5.5" fill="url(#gP)"/>
<circle cx="204.1" cy="861.7" r="5.5" fill="url(#gP)"/>
<circle cx="166.4" cy="861.8" r="5.5" fill="url(#gP)"/>
<circle cx="129.2" cy="861.9" r="5.5" fill="url(#gP)"/>
<circle cx="92.6" cy="862" r="5.5" fill="url(#gP)"/>
<circle cx="55.8" cy="862" r="5.5" fill="url(#gP)"/>
<circle cx="271.5" cy="863.6" r="3.7" fill="url(#gOe)"/>
<circle cx="38.4" cy="864.1" r="3.7" fill="url(#gOe)"/>
<circle cx="234.5" cy="864.1" r="3.7" fill="url(#gOe)"/>
<circle cx="278" cy="863.5" r="5.8" fill="url(#gP)"/>
<circle cx="265" cy="863.6" r="5.8" fill="url(#gP)"/>
<circle cx="197.1" cy="864.2" r="3.7" fill="url(#gOe)"/>
<circle cx="226.3" cy="863.7" r="5.8" fill="url(#gP)"/>
<circle cx="158.9" cy="864.3" r="3.7" fill="url(#gOe)"/>
<circle cx="189.4" cy="863.7" r="5.8" fill="url(#gP)"/>
<circle cx="121.8" cy="864.4" r="3.7" fill="url(#gOe)"/>
<circle cx="150.9" cy="863.8" r="5.8" fill="url(#gP)"/>
<circle cx="85" cy="864.5" r="3.7" fill="url(#gOe)"/>
<circle cx="114.1" cy="863.9" r="5.8" fill="url(#gP)"/>
<circle cx="47.8" cy="864.5" r="3.7" fill="url(#gOe)"/>
<circle cx="77.4" cy="864" r="5.8" fill="url(#gP)"/>
<circle cx="40.2" cy="864.1" r="5.8" fill="url(#gP)"/>
<circle cx="36.5" cy="864.1" r="5.8" fill="url(#gP)"/>
<circle cx="251" cy="867.1" r="5.5" fill="url(#gP)"/>
<circle cx="212.7" cy="867.2" r="5.5" fill="url(#gP)"/>
<circle cx="174.8" cy="867.3" r="5.5" fill="url(#gP)"/>
<circle cx="136.7" cy="867.3" r="5.5" fill="url(#gP)"/>
<circle cx="99.6" cy="867.4" r="5.5" fill="url(#gP)"/>
<circle cx="62.3" cy="867.5" r="5.5" fill="url(#gP)"/>
<circle cx="272.5" cy="868.6" r="3.7" fill="url(#gOe)"/>
<circle cx="36.4" cy="869" r="3.7" fill="url(#gOe)"/>
<circle cx="258.6" cy="869.1" r="3.7" fill="url(#gOe)"/>
<circle cx="219.7" cy="869.2" r="3.7" fill="url(#gOe)"/>
<circle cx="265.9" cy="868.6" r="5.9" fill="url(#gP)"/>
<circle cx="182" cy="869.2" r="3.7" fill="url(#gOe)"/>
<circle cx="226.8" cy="868.7" r="5.9" fill="url(#gP)"/>
<circle cx="143.3" cy="869.3" r="3.7" fill="url(#gOe)"/>
<circle cx="189.4" cy="868.7" r="5.9" fill="url(#gP)"/>
<circle cx="106" cy="869.4" r="3.7" fill="url(#gOe)"/>
<circle cx="150.4" cy="868.8" r="5.9" fill="url(#gP)"/>
<circle cx="68.6" cy="869.4" r="3.7" fill="url(#gOe)"/>
<circle cx="113.2" cy="868.9" r="5.9" fill="url(#gP)"/>
<circle cx="75.9" cy="868.9" r="5.9" fill="url(#gP)"/>
<circle cx="38.3" cy="869" r="5.9" fill="url(#gP)"/>
<circle cx="246.6" cy="870.6" r="3.5" fill="url(#gOe)"/>
<circle cx="208.2" cy="870.7" r="3.5" fill="url(#gOe)"/>
<circle cx="169.8" cy="870.8" r="3.5" fill="url(#gOe)"/>
<circle cx="131.5" cy="870.8" r="3.5" fill="url(#gOe)"/>
<circle cx="94.1" cy="870.9" r="3.5" fill="url(#gOe)"/>
<circle cx="56.5" cy="871" r="3.5" fill="url(#gOe)"/>
<circle cx="242.8" cy="871.6" r="5.6" fill="url(#gP)"/>
<circle cx="204.4" cy="871.7" r="5.6" fill="url(#gP)"/>
<circle cx="165.8" cy="871.8" r="5.6" fill="url(#gP)"/>
<circle cx="127.6" cy="871.8" r="5.6" fill="url(#gP)"/>
<circle cx="90.1" cy="871.9" r="5.6" fill="url(#gP)"/>
<circle cx="52.3" cy="872" r="5.6" fill="url(#gP)"/>
<circle cx="273.6" cy="873.6" r="3.7" fill="url(#gOe)"/>
<circle cx="34.5" cy="874" r="3.7" fill="url(#gOe)"/>
<circle cx="235.6" cy="874.2" r="3.7" fill="url(#gOe)"/>
<circle cx="280.2" cy="873.6" r="5.9" fill="url(#gP)"/>
<circle cx="266.9" cy="873.6" r="5.9" fill="url(#gP)"/>
<circle cx="197.3" cy="874.2" r="3.7" fill="url(#gOe)"/>
<circle cx="227.3" cy="873.7" r="5.9" fill="url(#gP)"/>
<circle cx="158.2" cy="874.3" r="3.7" fill="url(#gOe)"/>
<circle cx="189.4" cy="873.7" r="5.9" fill="url(#gP)"/>
<circle cx="120.1" cy="874.3" r="3.7" fill="url(#gOe)"/>
<circle cx="149.9" cy="873.8" r="5.9" fill="url(#gP)"/>
<circle cx="82.3" cy="874.4" r="3.7" fill="url(#gOe)"/>
<circle cx="112.2" cy="873.8" r="5.9" fill="url(#gP)"/>
<circle cx="44.2" cy="874.4" r="3.7" fill="url(#gOe)"/>
<circle cx="74.5" cy="873.9" r="5.9" fill="url(#gP)"/>
<circle cx="36.4" cy="874" r="5.9" fill="url(#gP)"/>
<circle cx="32.6" cy="874" r="5.9" fill="url(#gP)"/>
<circle cx="252.6" cy="877.1" r="5.6" fill="url(#gP)"/>
<circle cx="213.3" cy="877.2" r="5.6" fill="url(#gP)"/>
<circle cx="174.4" cy="877.2" r="5.6" fill="url(#gP)"/>
<circle cx="135.3" cy="877.3" r="5.6" fill="url(#gP)"/>
<circle cx="97.3" cy="877.3" r="5.6" fill="url(#gP)"/>
<circle cx="59.1" cy="877.4" r="5.6" fill="url(#gP)"/>
<circle cx="274.6" cy="878.6" r="3.7" fill="url(#gOe)"/>
<circle cx="32.6" cy="878.9" r="3.7" fill="url(#gOe)"/>
<circle cx="260.3" cy="879.1" r="3.7" fill="url(#gOe)"/>
<circle cx="220.5" cy="879.2" r="3.7" fill="url(#gOe)"/>
<circle cx="267.9" cy="878.6" r="6" fill="url(#gP)"/>
<circle cx="181.8" cy="879.2" r="3.7" fill="url(#gOe)"/>
<circle cx="227.7" cy="878.7" r="6" fill="url(#gP)"/>
<circle cx="142.1" cy="879.3" r="3.7" fill="url(#gOe)"/>
<circle cx="189.4" cy="878.7" r="6" fill="url(#gP)"/>
<circle cx="103.9" cy="879.3" r="3.7" fill="url(#gOe)"/>
<circle cx="149.4" cy="878.8" r="6" fill="url(#gP)"/>
<circle cx="65.6" cy="879.4" r="3.7" fill="url(#gOe)"/>
<circle cx="111.3" cy="878.8" r="6" fill="url(#gP)"/>
<circle cx="73.1" cy="878.9" r="6" fill="url(#gP)"/>
<circle cx="34.5" cy="878.9" r="6" fill="url(#gP)"/>
<circle cx="248.1" cy="880.6" r="3.6" fill="url(#gOe)"/>
<circle cx="208.6" cy="880.7" r="3.6" fill="url(#gOe)"/>
<circle cx="169.3" cy="880.7" r="3.6" fill="url(#gOe)"/>
<circle cx="130.1" cy="880.8" r="3.6" fill="url(#gOe)"/>
<circle cx="91.7" cy="880.8" r="3.6" fill="url(#gOe)"/>
<circle cx="53.1" cy="880.9" r="3.6" fill="url(#gOe)"/>
<circle cx="244.2" cy="881.7" r="5.6" fill="url(#gP)"/>
<circle cx="204.8" cy="881.7" r="5.6" fill="url(#gP)"/>
<circle cx="165.2" cy="881.7" r="5.6" fill="url(#gP)"/>
<circle cx="126.1" cy="881.8" r="5.6" fill="url(#gP)"/>
<circle cx="87.6" cy="881.8" r="5.6" fill="url(#gP)"/>
<circle cx="48.9" cy="881.9" r="5.6" fill="url(#gP)"/>
<circle cx="275.6" cy="883.6" r="3.8" fill="url(#gOe)"/>
<circle cx="30.6" cy="883.9" r="3.8" fill="url(#gOe)"/>
<circle cx="236.8" cy="884.2" r="3.8" fill="url(#gOe)"/>
<circle cx="197.5" cy="884.2" r="3.8" fill="url(#gOe)"/>
<circle cx="282.5" cy="883.6" r="6" fill="url(#gP)"/>
<circle cx="268.8" cy="883.6" r="6" fill="url(#gP)"/>
<circle cx="157.4" cy="884.2" r="3.8" fill="url(#gOe)"/>
<circle cx="228.2" cy="883.7" r="6" fill="url(#gP)"/>
<circle cx="118.3" cy="884.3" r="3.8" fill="url(#gOe)"/>
<circle cx="189.4" cy="883.7" r="6" fill="url(#gP)"/>
<circle cx="79.6" cy="884.3" r="3.8" fill="url(#gOe)"/>
<circle cx="148.9" cy="883.8" r="6" fill="url(#gP)"/>
<circle cx="40.6" cy="884.4" r="3.8" fill="url(#gOe)"/>
<circle cx="110.3" cy="883.8" r="6" fill="url(#gP)"/>
<circle cx="71.6" cy="883.8" r="6" fill="url(#gP)"/>
<circle cx="32.6" cy="883.9" r="6" fill="url(#gP)"/>
<circle cx="28.7" cy="883.9" r="6" fill="url(#gP)"/>
<circle cx="254.1" cy="887.2" r="5.7" fill="url(#gP)"/>
<circle cx="213.8" cy="887.2" r="5.7" fill="url(#gP)"/>
<circle cx="174.1" cy="887.2" r="5.7" fill="url(#gP)"/>
<circle cx="134" cy="887.3" r="5.7" fill="url(#gP)"/>
<circle cx="95" cy="887.3" r="5.7" fill="url(#gP)"/>
<circle cx="55.9" cy="887.3" r="5.7" fill="url(#gP)"/>
<circle cx="276.7" cy="888.6" r="3.8" fill="url(#gOe)"/>
<circle cx="28.7" cy="888.8" r="3.8" fill="url(#gOe)"/>
<circle cx="262.1" cy="889.2" r="3.8" fill="url(#gOe)"/>
<circle cx="221.2" cy="889.2" r="3.8" fill="url(#gOe)"/>
<circle cx="181.6" cy="889.2" r="3.8" fill="url(#gOe)"/>
<circle cx="141" cy="889.2" r="3.8" fill="url(#gOe)"/>
<circle cx="269.8" cy="888.7" r="6" fill="url(#gP)"/>
<circle cx="101.8" cy="889.3" r="3.8" fill="url(#gOe)"/>
<circle cx="228.7" cy="888.7" r="6" fill="url(#gP)"/>
<circle cx="62.6" cy="889.3" r="3.8" fill="url(#gOe)"/>
<circle cx="189.4" cy="888.7" r="6" fill="url(#gP)"/>
<circle cx="148.5" cy="888.7" r="6" fill="url(#gP)"/>
<circle cx="109.3" cy="888.8" r="6" fill="url(#gP)"/>
<circle cx="70.2" cy="888.8" r="6" fill="url(#gP)"/>
<circle cx="30.7" cy="888.8" r="6" fill="url(#gP)"/>
<circle cx="249.5" cy="890.7" r="3.6" fill="url(#gOe)"/>
<circle cx="209.1" cy="890.7" r="3.6" fill="url(#gOe)"/>
<circle cx="168.8" cy="890.7" r="3.6" fill="url(#gOe)"/>
<circle cx="128.6" cy="890.7" r="3.6" fill="url(#gOe)"/>
<circle cx="89.3" cy="890.8" r="3.6" fill="url(#gOe)"/>
<circle cx="49.8" cy="890.8" r="3.6" fill="url(#gOe)"/>
<circle cx="245.5" cy="891.7" r="5.7" fill="url(#gP)"/>
<circle cx="205.2" cy="891.7" r="5.7" fill="url(#gP)"/>
<circle cx="164.6" cy="891.7" r="5.7" fill="url(#gP)"/>
<circle cx="124.5" cy="891.7" r="5.7" fill="url(#gP)"/>
<circle cx="85.1" cy="891.8" r="5.7" fill="url(#gP)"/>
<circle cx="45.5" cy="891.8" r="5.7" fill="url(#gP)"/>
<circle cx="277.7" cy="893.7" r="3.8" fill="url(#gOe)"/>
<circle cx="26.8" cy="893.8" r="3.8" fill="url(#gOe)"/>
<circle cx="237.9" cy="894.2" r="3.8" fill="url(#gOe)"/>
<circle cx="197.7" cy="894.2" r="3.8" fill="url(#gOe)"/>
<circle cx="156.6" cy="894.2" r="3.8" fill="url(#gOe)"/>
<circle cx="116.6" cy="894.2" r="3.8" fill="url(#gOe)"/>
<circle cx="284.7" cy="893.7" r="6.1" fill="url(#gP)"/>
<circle cx="77" cy="894.3" r="3.8" fill="url(#gOe)"/>
<circle cx="270.7" cy="893.7" r="6.1" fill="url(#gP)"/>
<circle cx="37" cy="894.3" r="3.8" fill="url(#gOe)"/>
<circle cx="229.2" cy="893.7" r="6.1" fill="url(#gP)"/>
<circle cx="189.4" cy="893.7" r="6.1" fill="url(#gP)"/>
<circle cx="148" cy="893.7" r="6.1" fill="url(#gP)"/>
<circle cx="108.4" cy="893.7" r="6.1" fill="url(#gP)"/>
<circle cx="68.8" cy="893.8" r="6.1" fill="url(#gP)"/>
<circle cx="28.8" cy="893.8" r="6.1" fill="url(#gP)"/>
<circle cx="24.8" cy="893.8" r="6.1" fill="url(#gP)"/>
<circle cx="255.7" cy="897.2" r="5.8" fill="url(#gP)"/>
<circle cx="214.4" cy="897.2" r="5.8" fill="url(#gP)"/>
<circle cx="173.7" cy="897.2" r="5.8" fill="url(#gP)"/>
<circle cx="132.7" cy="897.2" r="5.8" fill="url(#gP)"/>
<circle cx="92.7" cy="897.2" r="5.8" fill="url(#gP)"/>
<circle cx="52.7" cy="897.2" r="5.8" fill="url(#gP)"/>
<circle cx="278.8" cy="898.7" r="3.9" fill="url(#gOe)"/>
<circle cx="24.9" cy="898.7" r="3.9" fill="url(#gOe)"/>
<circle cx="263.8" cy="899.2" r="3.9" fill="url(#gOe)"/>
<circle cx="222" cy="899.2" r="3.9" fill="url(#gOe)"/>
<circle cx="181.4" cy="899.2" r="3.9" fill="url(#gOe)"/>
<circle cx="139.8" cy="899.2" r="3.9" fill="url(#gOe)"/>
<circle cx="99.7" cy="899.2" r="3.9" fill="url(#gOe)"/>
<circle cx="59.5" cy="899.2" r="3.9" fill="url(#gOe)"/>
<circle cx="271.7" cy="898.7" r="6.1" fill="url(#gP)"/>
<circle cx="229.6" cy="898.7" r="6.1" fill="url(#gP)"/>
<circle cx="189.4" cy="898.7" r="6.1" fill="url(#gP)"/>
<circle cx="147.5" cy="898.7" r="6.1" fill="url(#gP)"/>
<circle cx="107.4" cy="898.7" r="6.1" fill="url(#gP)"/>
<circle cx="67.4" cy="898.7" r="6.1" fill="url(#gP)"/>
<circle cx="26.9" cy="898.7" r="6.1" fill="url(#gP)"/>
<circle cx="251" cy="900.7" r="3.7" fill="url(#gOe)"/>
<circle cx="209.6" cy="900.7" r="3.7" fill="url(#gOe)"/>
<circle cx="168.3" cy="900.7" r="3.7" fill="url(#gOe)"/>
<circle cx="127.2" cy="900.7" r="3.7" fill="url(#gOe)"/>
<circle cx="86.9" cy="900.7" r="3.7" fill="url(#gOe)"/>
<circle cx="46.5" cy="900.7" r="3.7" fill="url(#gOe)"/>
<circle cx="246.9" cy="901.7" r="5.8" fill="url(#gP)"/>
<circle cx="205.6" cy="901.7" r="5.8" fill="url(#gP)"/>
<circle cx="164.1" cy="901.7" r="5.8" fill="url(#gP)"/>
<circle cx="123" cy="901.7" r="5.8" fill="url(#gP)"/>
<circle cx="82.6" cy="901.7" r="5.8" fill="url(#gP)"/>
<circle cx="42" cy="901.7" r="5.8" fill="url(#gP)"/>
<circle cx="22.9" cy="903.7" r="3.9" fill="url(#gOe)"/>
<circle cx="279.8" cy="903.7" r="3.9" fill="url(#gOe)"/>
<circle cx="33.4" cy="904.2" r="3.9" fill="url(#gOe)"/>
<circle cx="74.3" cy="904.2" r="3.9" fill="url(#gOe)"/>
<circle cx="114.9" cy="904.2" r="3.9" fill="url(#gOe)"/>
<circle cx="155.8" cy="904.2" r="3.9" fill="url(#gOe)"/>
<circle cx="197.9" cy="904.2" r="3.9" fill="url(#gOe)"/>
<circle cx="239.1" cy="904.2" r="3.9" fill="url(#gOe)"/>
<circle cx="20.9" cy="903.7" r="6.2" fill="url(#gP)"/>
<circle cx="25" cy="903.7" r="6.2" fill="url(#gP)"/>
<circle cx="65.9" cy="903.7" r="6.2" fill="url(#gP)"/>
<circle cx="106.5" cy="903.7" r="6.2" fill="url(#gP)"/>
<circle cx="147" cy="903.7" r="6.2" fill="url(#gP)"/>
<circle cx="189.4" cy="903.7" r="6.2" fill="url(#gP)"/>
<circle cx="230.1" cy="903.7" r="6.2" fill="url(#gP)"/>
<circle cx="272.7" cy="903.7" r="6.2" fill="url(#gP)"/>
<circle cx="287" cy="903.7" r="6.2" fill="url(#gP)"/>
<circle cx="29.9" cy="910.5" r="5.8" fill="url(#gP)"/>
<circle cx="53.1" cy="910.5" r="5.8" fill="url(#gP)"/>
<circle cx="76.3" cy="910.5" r="5.8" fill="url(#gP)"/>
<circle cx="99.5" cy="910.5" r="5.8" fill="url(#gP)"/>
<circle cx="122.7" cy="910.5" r="5.8" fill="url(#gP)"/>
<circle cx="145.9" cy="910.5" r="5.8" fill="url(#gP)"/>
<circle cx="169.1" cy="910.5" r="5.8" fill="url(#gP)"/>
<circle cx="192.3" cy="910.5" r="5.8" fill="url(#gP)"/>
<circle cx="215.5" cy="910.5" r="5.8" fill="url(#gP)"/>
<circle cx="238.7" cy="910.5" r="5.8" fill="url(#gP)"/>
<circle cx="261.9" cy="910.5" r="5.8" fill="url(#gP)"/>
<circle cx="285.1" cy="910.5" r="5.8" fill="url(#gP)"/>
<circle cx="40.9" cy="912.2" r="3.8" fill="url(#gOe)"/>
<circle cx="64.1" cy="912.2" r="3.8" fill="url(#gOe)"/>
<circle cx="87.3" cy="912.2" r="3.8" fill="url(#gOe)"/>
<circle cx="110.5" cy="912.2" r="3.8" fill="url(#gOe)"/>
<circle cx="133.7" cy="912.2" r="3.8" fill="url(#gOe)"/>
<circle cx="156.9" cy="912.2" r="3.8" fill="url(#gOe)"/>
<circle cx="180.1" cy="912.2" r="3.8" fill="url(#gOe)"/>
<circle cx="203.3" cy="912.2" r="3.8" fill="url(#gOe)"/>
<circle cx="226.5" cy="912.2" r="3.8" fill="url(#gOe)"/>
<circle cx="249.7" cy="912.2" r="3.8" fill="url(#gOe)"/>
<circle cx="272.9" cy="912.2" r="3.8" fill="url(#gOe)"/>
<circle cx="41.4" cy="920.9" r="5.8" fill="url(#gP)"/>
<circle cx="64.6" cy="920.9" r="5.8" fill="url(#gP)"/>
<circle cx="87.8" cy="920.9" r="5.8" fill="url(#gP)"/>
<circle cx="111" cy="920.9" r="5.8" fill="url(#gP)"/>
<circle cx="134.2" cy="920.9" r="5.8" fill="url(#gP)"/>
<circle cx="157.4" cy="920.9" r="5.8" fill="url(#gP)"/>
<circle cx="180.6" cy="920.9" r="5.8" fill="url(#gP)"/>
<circle cx="203.8" cy="920.9" r="5.8" fill="url(#gP)"/>
<circle cx="227" cy="920.9" r="5.8" fill="url(#gP)"/>
<circle cx="250.2" cy="920.9" r="5.8" fill="url(#gP)"/>
<circle cx="273.4" cy="920.9" r="5.8" fill="url(#gP)"/>
<circle cx="30.4" cy="922.2" r="3.8" fill="url(#gOe)"/>
<circle cx="53.6" cy="922.2" r="3.8" fill="url(#gOe)"/>
<circle cx="76.8" cy="922.2" r="3.8" fill="url(#gOe)"/>
<circle cx="100" cy="922.2" r="3.8" fill="url(#gOe)"/>
<circle cx="123.2" cy="922.2" r="3.8" fill="url(#gOe)"/>
<circle cx="146.4" cy="922.2" r="3.8" fill="url(#gOe)"/>
<circle cx="169.6" cy="922.2" r="3.8" fill="url(#gOe)"/>
<circle cx="192.8" cy="922.2" r="3.8" fill="url(#gOe)"/>
<circle cx="216" cy="922.2" r="3.8" fill="url(#gOe)"/>
<circle cx="239.2" cy="922.2" r="3.8" fill="url(#gOe)"/>
<circle cx="262.4" cy="922.2" r="3.8" fill="url(#gOe)"/>
<circle cx="285.6" cy="922.2" r="3.8" fill="url(#gOe)"/>
<circle cx="25.4" cy="930.2" r="5.8" fill="url(#gP)"/>
<circle cx="48.6" cy="930.2" r="5.8" fill="url(#gP)"/>
<circle cx="71.8" cy="930.2" r="5.8" fill="url(#gP)"/>
<circle cx="95" cy="930.2" r="5.8" fill="url(#gP)"/>
<circle cx="118.2" cy="930.2" r="5.8" fill="url(#gP)"/>
<circle cx="141.4" cy="930.2" r="5.8" fill="url(#gP)"/>
<circle cx="164.6" cy="930.2" r="5.8" fill="url(#gP)"/>
<circle cx="187.8" cy="930.2" r="5.8" fill="url(#gP)"/>
<circle cx="211" cy="930.2" r="5.8" fill="url(#gP)"/>
<circle cx="234.2" cy="930.2" r="5.8" fill="url(#gP)"/>
<circle cx="257.4" cy="930.2" r="5.8" fill="url(#gP)"/>
<circle cx="280.6" cy="930.2" r="5.8" fill="url(#gP)"/>
<circle cx="36.9" cy="931.7" r="3.6" fill="url(#gOe)"/>
<circle cx="60.1" cy="931.7" r="3.6" fill="url(#gOe)"/>
<circle cx="83.3" cy="931.7" r="3.6" fill="url(#gOe)"/>
<circle cx="106.5" cy="931.7" r="3.6" fill="url(#gOe)"/>
<circle cx="129.7" cy="931.7" r="3.6" fill="url(#gOe)"/>
<circle cx="152.9" cy="931.7" r="3.6" fill="url(#gOe)"/>
<circle cx="176.1" cy="931.7" r="3.6" fill="url(#gOe)"/>
<circle cx="199.3" cy="931.7" r="3.6" fill="url(#gOe)"/>
<circle cx="222.5" cy="931.7" r="3.6" fill="url(#gOe)"/>
<circle cx="245.7" cy="931.7" r="3.6" fill="url(#gOe)"/>
<circle cx="268.9" cy="931.7" r="3.6" fill="url(#gOe)"/>
</g>
<clipPath id="c6"><rect x="83" y="820" width="60" height="80"/></clipPath>
<g clip-path="url(#c6)">
<circle cx="85" cy="838" r="6.4" fill="url(#gNe)"/>
<circle cx="88.9" cy="841.4" r="6.4" fill="url(#gNe)"/>
<circle cx="98.7" cy="850.1" r="6.4" fill="url(#gNe)"/>
<circle cx="84" cy="851" r="6.4" fill="url(#gP)"/>
<circle cx="88.9" cy="853.4" r="6.4" fill="url(#gP)"/>
<circle cx="109.7" cy="857.7" r="6.4" fill="url(#gP)"/>
<circle cx="87.8" cy="865.4" r="6.4" fill="url(#gNe)"/>
<circle cx="98.7" cy="862.1" r="6.4" fill="url(#gNe)"/>
<circle cx="108.6" cy="870.8" r="6.4" fill="url(#gNe)"/>
<circle cx="85" cy="876" r="6.4" fill="url(#gP)"/>
<circle cx="97.6" cy="874.1" r="6.4" fill="url(#gP)"/>
<circle cx="86.7" cy="877.4" r="6.4" fill="url(#gP)"/>
</g>
<circle cx="198.1" cy="878.5" r="5.6" fill="url(#gG)"/>
<circle cx="281.3" cy="883" r="5.6" fill="url(#gG)"/>
<circle cx="288.3" cy="878.2" r="3.7" fill="url(#gOe)"/>
<circle cx="95.8" cy="888.6" r="5" fill="url(#gG)"/>
<circle cx="100.5" cy="891" r="2.8" fill="url(#gH)"/>
<circle cx="96.6" cy="888.6" r="7.6" fill="none" stroke="#1a1a1a" stroke-width="0.9" stroke-dasharray="2 1.5"/>
<circle cx="310.7" cy="836.4" r="4" fill="url(#gOe)"/>
<circle cx="314.2" cy="843.5" r="4" fill="url(#gOe)"/>
<circle cx="301.4" cy="866" r="4" fill="url(#gOe)"/>
<circle cx="308.5" cy="869.6" r="4" fill="url(#gOe)"/>
<circle cx="846.4" cy="801" r="3.4" fill="url(#gTe)"/>
<circle cx="846.4" cy="808" r="3.4" fill="url(#gTe)"/>
<circle cx="824.9" cy="823.6" r="3.4" fill="url(#gTe)"/>
<circle cx="832" cy="823.6" r="3.4" fill="url(#gTe)"/>
<circle cx="869.8" cy="822.5" r="3.4" fill="url(#gTe)"/>
<circle cx="865.1" cy="828.3" r="3.4" fill="url(#gTe)"/>
<circle cx="815.2" cy="836.1" r="3.4" fill="url(#gTe)"/>
<circle cx="817.1" cy="842" r="3.4" fill="url(#gTe)"/>
<circle cx="817.4" cy="851.5" r="3.4" fill="url(#gTe)"/>
<circle cx="856.5" cy="849.2" r="3.4" fill="url(#gTe)"/>
<circle cx="867.7" cy="857" r="3.4" fill="url(#gTe)"/>
<circle cx="840.8" cy="865.5" r="3.4" fill="url(#gTe)"/>
<circle cx="574.3" cy="940.2" r="3.8" fill="url(#gOe)"/>
<circle cx="579.5" cy="938.6" r="2.8" fill="url(#gTe)"/>
<circle cx="570.9" cy="945.8" r="2.8" fill="url(#gTe)"/>
<circle cx="559.6" cy="966.2" r="3.8" fill="url(#gOe)"/>
<circle cx="557.3" cy="960.5" r="2.8" fill="url(#gTe)"/>
<circle cx="565.3" cy="965.7" r="2.8" fill="url(#gTe)"/>
<circle cx="500.8" cy="1004.6" r="3.6" fill="url(#gOe)"/>
<circle cx="500.8" cy="1001.5" r="2.3" fill="url(#gT)"/>
<circle cx="534.7" cy="997.8" r="3.6" fill="url(#gOe)"/>
<circle cx="537.8" cy="996.5" r="2.3" fill="url(#gT)"/>
<circle cx="535" cy="997.8" r="6.6" fill="none" stroke="#1a1a1a" stroke-width="0.9" stroke-dasharray="2 1.5"/>
<circle cx="533.6" cy="1014.8" r="5.2" fill="url(#gG)"/>
<circle cx="539.3" cy="1017" r="3" fill="url(#gH)"/>
<path d="M143.5,886.2 L247,886.2 L247,880.5 L263.5,889.4 L247,898.3 L247,892.6 L143.5,892.6 Z" fill="url(#gArrH)"/>
<polygon points="104,890.8 109,879.5 110.5,884.2 117,881.3 114.5,876.8 127.3,880.9 118.8,892 117.6,887.4 111.3,890.2 113,894.8" fill="#a01d6b"/>
<path d="M328.7,849 L335.1,849 C335.5,866 330,880 312,889.6 L313.5,896 L295.2,890.4 L307.3,878.2 L309,884 C324,876 329.3,866 328.7,849 Z" fill="url(#gArrV)"/>
<path d="M882,800.5 L887.5,799 C896,810 898.5,828 890.5,842 L895.5,848.5 L876.5,856 L879,838.5 L884.5,842 C890,830 889,813 882,800.5 Z" fill="url(#gArrV2)"/>
<path d="M573.2,975.5 C582,968 586,960 587,951 L582,951.5 L591.5,940 L597.5,953 L592.5,952 C591.5,962 586,971 576.5,978.5 Z" fill="url(#gArrU)"/>
<path d="M544.5,1019.6 C552,1020 560,1019 564.5,1013.5 C568.5,1008 567,1002.5 557,999" fill="none" stroke="#a01d6b" stroke-width="5.6"/>
<polygon points="543.9,997.2 561,994 555.5,1011" fill="#a01d6b"/>
<clipPath id="c7"><rect x="457.1" y="452" width="175" height="52"/></clipPath>
<g clip-path="url(#c7)">
<rect x="457.1" y="459" width="175" height="41" fill="#c98270"/>
<circle cx="462.1" cy="481" r="6.4" fill="url(#gFe)"/>
<circle cx="490.2" cy="481" r="6.4" fill="url(#gFe)"/>
<circle cx="518.3" cy="481" r="6.4" fill="url(#gFe)"/>
<circle cx="546.4" cy="481" r="6.4" fill="url(#gFe)"/>
<circle cx="574.5" cy="481" r="6.4" fill="url(#gFe)"/>
<circle cx="602.6" cy="481" r="6.4" fill="url(#gFe)"/>
<circle cx="630.7" cy="481" r="6.4" fill="url(#gFe)"/>
<circle cx="658.8" cy="481" r="6.4" fill="url(#gFe)"/>
<circle cx="442.4" cy="497.6" r="6.4" fill="url(#gFe)"/>
<circle cx="453.4" cy="494.5" r="6.2" fill="url(#gFe)"/>
<circle cx="463.1" cy="497" r="6.3" fill="url(#gFe)"/>
<circle cx="470.5" cy="497.6" r="6.4" fill="url(#gFe)"/>
<circle cx="481.5" cy="494.5" r="6.2" fill="url(#gFe)"/>
<circle cx="491.2" cy="497" r="6.3" fill="url(#gFe)"/>
<circle cx="498.6" cy="497.6" r="6.4" fill="url(#gFe)"/>
<circle cx="509.6" cy="494.5" r="6.2" fill="url(#gFe)"/>
<circle cx="519.3" cy="497" r="6.3" fill="url(#gFe)"/>
<circle cx="526.7" cy="497.6" r="6.4" fill="url(#gFe)"/>
<circle cx="537.7" cy="494.5" r="6.2" fill="url(#gFe)"/>
<circle cx="547.4" cy="497" r="6.3" fill="url(#gFe)"/>
<circle cx="554.8" cy="497.6" r="6.4" fill="url(#gFe)"/>
<circle cx="565.8" cy="494.5" r="6.2" fill="url(#gFe)"/>
<circle cx="575.5" cy="497" r="6.3" fill="url(#gFe)"/>
<circle cx="582.9" cy="497.6" r="6.4" fill="url(#gFe)"/>
<circle cx="593.9" cy="494.5" r="6.2" fill="url(#gFe)"/>
<circle cx="603.6" cy="497" r="6.3" fill="url(#gFe)"/>
<circle cx="611" cy="497.6" r="6.4" fill="url(#gFe)"/>
<circle cx="622" cy="494.5" r="6.2" fill="url(#gFe)"/>
<circle cx="631.7" cy="497" r="6.3" fill="url(#gFe)"/>
<circle cx="639.1" cy="497.6" r="6.4" fill="url(#gFe)"/>
<circle cx="650.1" cy="494.5" r="6.2" fill="url(#gFe)"/>
<circle cx="659.8" cy="497" r="6.3" fill="url(#gFe)"/>
<polygon points="438.6,481 443.4,473 452.8,473 457.6,481 452.8,489 443.4,489" fill="none" stroke="#fff" stroke-width="1.3"/>
<circle cx="448.1" cy="480.5" r="5.6" fill="url(#gFe)"/>
<circle cx="438.8" cy="475.2" r="2.9" fill="url(#gO)"/>
<circle cx="452.5" cy="475.2" r="2.9" fill="url(#gO)"/>
<circle cx="443.2" cy="487.6" r="2.9" fill="url(#gO)"/>
<circle cx="456.9" cy="487.2" r="2.9" fill="url(#gO)"/>
<polygon points="466.7,481 471.5,473 480.9,473 485.7,481 480.9,489 471.5,489" fill="none" stroke="#fff" stroke-width="1.3"/>
<circle cx="476.2" cy="480.5" r="5.6" fill="url(#gFe)"/>
<circle cx="466.9" cy="475.2" r="2.9" fill="url(#gO)"/>
<circle cx="480.6" cy="475.2" r="2.9" fill="url(#gO)"/>
<circle cx="471.3" cy="487.6" r="2.9" fill="url(#gO)"/>
<circle cx="485" cy="487.2" r="2.9" fill="url(#gO)"/>
<polygon points="494.8,481 499.6,473 509,473 513.8,481 509,489 499.6,489" fill="none" stroke="#fff" stroke-width="1.3"/>
<circle cx="504.3" cy="480.5" r="5.6" fill="url(#gFe)"/>
<circle cx="495" cy="475.2" r="2.9" fill="url(#gO)"/>
<circle cx="508.7" cy="475.2" r="2.9" fill="url(#gO)"/>
<circle cx="499.4" cy="487.6" r="2.9" fill="url(#gO)"/>
<circle cx="513.1" cy="487.2" r="2.9" fill="url(#gO)"/>
<polygon points="522.9,481 527.7,473 537.1,473 541.9,481 537.1,489 527.7,489" fill="none" stroke="#fff" stroke-width="1.3"/>
<circle cx="532.4" cy="480.5" r="5.6" fill="url(#gFe)"/>
<circle cx="523.1" cy="475.2" r="2.9" fill="url(#gO)"/>
<circle cx="536.8" cy="475.2" r="2.9" fill="url(#gO)"/>
<circle cx="527.5" cy="487.6" r="2.9" fill="url(#gO)"/>
<circle cx="541.2" cy="487.2" r="2.9" fill="url(#gO)"/>
<polygon points="551,481 555.8,473 565.2,473 570,481 565.2,489 555.8,489" fill="none" stroke="#fff" stroke-width="1.3"/>
<circle cx="560.5" cy="480.5" r="5.6" fill="url(#gFe)"/>
<circle cx="551.2" cy="475.2" r="2.9" fill="url(#gO)"/>
<circle cx="564.9" cy="475.2" r="2.9" fill="url(#gO)"/>
<circle cx="555.6" cy="487.6" r="2.9" fill="url(#gO)"/>
<circle cx="569.3" cy="487.2" r="2.9" fill="url(#gO)"/>
<polygon points="579.1,481 583.9,473 593.3,473 598.1,481 593.3,489 583.9,489" fill="none" stroke="#fff" stroke-width="1.3"/>
<circle cx="588.6" cy="480.5" r="5.6" fill="url(#gFe)"/>
<circle cx="579.3" cy="475.2" r="2.9" fill="url(#gO)"/>
<circle cx="593" cy="475.2" r="2.9" fill="url(#gO)"/>
<circle cx="583.7" cy="487.6" r="2.9" fill="url(#gO)"/>
<circle cx="597.4" cy="487.2" r="2.9" fill="url(#gO)"/>
<polygon points="607.2,481 612,473 621.4,473 626.2,481 621.4,489 612,489" fill="none" stroke="#fff" stroke-width="1.3"/>
<circle cx="616.7" cy="480.5" r="5.6" fill="url(#gFe)"/>
<circle cx="607.4" cy="475.2" r="2.9" fill="url(#gO)"/>
<circle cx="621.1" cy="475.2" r="2.9" fill="url(#gO)"/>
<circle cx="611.8" cy="487.6" r="2.9" fill="url(#gO)"/>
<circle cx="625.5" cy="487.2" r="2.9" fill="url(#gO)"/>
<polygon points="635.3,481 640.1,473 649.5,473 654.3,481 649.5,489 640.1,489" fill="none" stroke="#fff" stroke-width="1.3"/>
<circle cx="644.8" cy="480.5" r="5.6" fill="url(#gFe)"/>
<circle cx="635.5" cy="475.2" r="2.9" fill="url(#gO)"/>
<circle cx="649.2" cy="475.2" r="2.9" fill="url(#gO)"/>
<circle cx="639.9" cy="487.6" r="2.9" fill="url(#gO)"/>
<circle cx="653.6" cy="487.2" r="2.9" fill="url(#gO)"/>
<circle cx="441.5" cy="466.8" r="6.6" fill="url(#gFe)"/>
<circle cx="455.6" cy="467.5" r="6.6" fill="url(#gFe)"/>
<circle cx="469.6" cy="466.8" r="6.6" fill="url(#gFe)"/>
<circle cx="483.7" cy="467.5" r="6.6" fill="url(#gFe)"/>
<circle cx="497.7" cy="466.8" r="6.6" fill="url(#gFe)"/>
<circle cx="511.8" cy="467.5" r="6.6" fill="url(#gFe)"/>
<circle cx="525.8" cy="466.8" r="6.6" fill="url(#gFe)"/>
<circle cx="539.9" cy="467.5" r="6.6" fill="url(#gFe)"/>
<circle cx="553.9" cy="466.8" r="6.6" fill="url(#gFe)"/>
<circle cx="568" cy="467.5" r="6.6" fill="url(#gFe)"/>
<circle cx="582" cy="466.8" r="6.6" fill="url(#gFe)"/>
<circle cx="596.1" cy="467.5" r="6.6" fill="url(#gFe)"/>
<circle cx="610.1" cy="466.8" r="6.6" fill="url(#gFe)"/>
<circle cx="624.2" cy="467.5" r="6.6" fill="url(#gFe)"/>
<circle cx="638.2" cy="466.8" r="6.6" fill="url(#gFe)"/>
<circle cx="652.3" cy="467.5" r="6.6" fill="url(#gFe)"/>
<circle cx="445.9" cy="461" r="3.1" fill="url(#gO)"/>
<circle cx="459.9" cy="462" r="3.1" fill="url(#gO)"/>
<circle cx="474" cy="461" r="3.1" fill="url(#gO)"/>
<circle cx="488" cy="462" r="3.1" fill="url(#gO)"/>
<circle cx="502.1" cy="461" r="3.1" fill="url(#gO)"/>
<circle cx="516.1" cy="462" r="3.1" fill="url(#gO)"/>
<circle cx="530.2" cy="461" r="3.1" fill="url(#gO)"/>
<circle cx="544.2" cy="462" r="3.1" fill="url(#gO)"/>
<circle cx="558.3" cy="461" r="3.1" fill="url(#gO)"/>
<circle cx="572.3" cy="462" r="3.1" fill="url(#gO)"/>
<circle cx="586.4" cy="461" r="3.1" fill="url(#gO)"/>
<circle cx="600.4" cy="462" r="3.1" fill="url(#gO)"/>
<circle cx="614.5" cy="461" r="3.1" fill="url(#gO)"/>
<circle cx="628.5" cy="462" r="3.1" fill="url(#gO)"/>
<circle cx="642.6" cy="461" r="3.1" fill="url(#gO)"/>
<circle cx="656.6" cy="462" r="3.1" fill="url(#gO)"/>
</g>
<path d="M498,462 L500,458 L505,447 L513,440 L515,428 L518,415 L523,404 L531,396 L541,393.5 L556,393 L565,398 L572,408 L576,416 L575,426 L578,436 L584,446 L592,452 L596,458 L598,462 Z" fill="#c98676"/>
<path d="M520,425 L522,405 L532,396 L548,394 L560,398 L545,418 L535,440 L520,440 Z" fill="#3f8fbf"/>
<circle cx="528.4" cy="405.7" r="6.8" fill="url(#gNi)"/>
<circle cx="541.2" cy="399.8" r="6.8" fill="url(#gNi)"/>
<circle cx="554" cy="398.8" r="6.8" fill="url(#gNi)"/>
<circle cx="536.3" cy="402.7" r="6.8" fill="url(#gFe)"/>
<circle cx="543.2" cy="404.7" r="6.8" fill="url(#gNi)"/>
<circle cx="563.8" cy="409.6" r="6.8" fill="url(#gNi)"/>
<circle cx="527.4" cy="409.6" r="6.8" fill="url(#gFe)"/>
<circle cx="555" cy="409.6" r="6.8" fill="url(#gFe)"/>
<circle cx="535.3" cy="413.6" r="6.8" fill="url(#gNi)"/>
<circle cx="572.7" cy="420.4" r="6.8" fill="url(#gNi)"/>
<circle cx="569.7" cy="418.5" r="6.8" fill="url(#gFe)"/>
<circle cx="524.5" cy="419.5" r="6.8" fill="url(#gNi)"/>
<circle cx="547.1" cy="420.4" r="6.8" fill="url(#gFe)"/>
<circle cx="561.9" cy="422.4" r="6.8" fill="url(#gFe)"/>
<circle cx="534.3" cy="425.4" r="6.8" fill="url(#gNi)"/>
<circle cx="519.6" cy="428.3" r="6.8" fill="url(#gNi)"/>
<circle cx="547.1" cy="429.3" r="6.8" fill="url(#gNi)"/>
<circle cx="534.3" cy="435.2" r="6.8" fill="url(#gNi)"/>
<circle cx="524.5" cy="434.2" r="6.8" fill="url(#gFe)"/>
<circle cx="543.2" cy="435.2" r="6.8" fill="url(#gFe)"/>
<circle cx="556.9" cy="435.2" r="6.8" fill="url(#gFe)"/>
<circle cx="567.8" cy="434.2" r="6.8" fill="url(#gFe)"/>
<circle cx="573.7" cy="439.1" r="6.8" fill="url(#gFe)"/>
<circle cx="514.7" cy="439.1" r="6.8" fill="url(#gFe)"/>
<circle cx="550.1" cy="443.1" r="6.8" fill="url(#gNi)"/>
<circle cx="524.5" cy="443.1" r="6.8" fill="url(#gFe)"/>
<circle cx="535.3" cy="444" r="6.8" fill="url(#gFe)"/>
<circle cx="559.9" cy="443.1" r="6.8" fill="url(#gFe)"/>
<circle cx="556.9" cy="417" r="3.1" fill="url(#gO)"/>
<circle cx="569.2" cy="426.8" r="3.1" fill="url(#gO)"/>
<circle cx="500.9" cy="456.8" r="6.5" fill="url(#gFe)"/>
<circle cx="509.7" cy="453.9" r="6.5" fill="url(#gFe)"/>
<circle cx="526.5" cy="450.9" r="6.5" fill="url(#gFe)"/>
<circle cx="541.2" cy="450.9" r="6.5" fill="url(#gFe)"/>
<circle cx="552" cy="451.9" r="6.5" fill="url(#gFe)"/>
<circle cx="565.8" cy="453.9" r="6.5" fill="url(#gFe)"/>
<circle cx="578.6" cy="454.9" r="6.5" fill="url(#gFe)"/>
<circle cx="591.4" cy="458.8" r="6.5" fill="url(#gFe)"/>
<circle cx="544.7" cy="441.6" r="3.1" fill="url(#gO)"/>
<circle cx="515.6" cy="448" r="3.1" fill="url(#gO)"/>
<circle cx="524.5" cy="445" r="3.1" fill="url(#gO)"/>
<circle cx="533.8" cy="450.9" r="3.1" fill="url(#gO)"/>
<circle cx="567.8" cy="445" r="3.1" fill="url(#gO)"/>
<circle cx="573.7" cy="449" r="3.1" fill="url(#gO)"/>
<clipPath id="c8"><rect x="457.1" y="514" width="175" height="139.5"/></clipPath>
<g clip-path="url(#c8)">
<rect x="457.1" y="514" width="175" height="139.5" fill="#d48676"/>
<circle cx="459.2" cy="507.2" r="1.5" fill="#fff"/>
<circle cx="476.4" cy="507.9" r="1.5" fill="#fff"/>
<circle cx="506.6" cy="508.7" r="1.5" fill="#fff"/>
<circle cx="520.2" cy="508.8" r="1.5" fill="#fff"/>
<circle cx="538.7" cy="509" r="1.5" fill="#fff"/>
<circle cx="554.4" cy="512.7" r="1.5" fill="#fff"/>
<circle cx="570.4" cy="508.9" r="1.5" fill="#fff"/>
<circle cx="587.6" cy="510.9" r="1.5" fill="#fff"/>
<circle cx="602.5" cy="511.6" r="1.5" fill="#fff"/>
<circle cx="619.9" cy="509.5" r="1.5" fill="#fff"/>
<circle cx="646.6" cy="507.1" r="1.5" fill="#fff"/>
<circle cx="661.6" cy="511.9" r="1.5" fill="#fff"/>
<circle cx="451" cy="522.1" r="1.5" fill="#fff"/>
<circle cx="515.2" cy="522.5" r="1.5" fill="#fff"/>
<circle cx="529.4" cy="523.5" r="1.5" fill="#fff"/>
<circle cx="548.6" cy="524.8" r="1.5" fill="#fff"/>
<circle cx="562.4" cy="526" r="1.5" fill="#fff"/>
<circle cx="576.8" cy="521.7" r="1.5" fill="#fff"/>
<circle cx="593.7" cy="524.6" r="1.5" fill="#fff"/>
<circle cx="610" cy="520.9" r="1.5" fill="#fff"/>
<circle cx="624.7" cy="522" r="1.5" fill="#fff"/>
<circle cx="638.3" cy="523.5" r="1.5" fill="#fff"/>
<circle cx="655.4" cy="523.6" r="1.5" fill="#fff"/>
<circle cx="523" cy="538.8" r="1.5" fill="#fff"/>
<circle cx="541" cy="538.9" r="1.5" fill="#fff"/>
<circle cx="556" cy="539.1" r="1.5" fill="#fff"/>
<circle cx="616.9" cy="537.5" r="1.5" fill="#fff"/>
<circle cx="514.8" cy="550.1" r="1.5" fill="#fff"/>
<circle cx="529.1" cy="551.6" r="1.5" fill="#fff"/>
<circle cx="607.6" cy="551" r="1.5" fill="#fff"/>
<circle cx="640.2" cy="551.3" r="1.5" fill="#fff"/>
<circle cx="658.4" cy="550.1" r="1.5" fill="#fff"/>
<circle cx="460.2" cy="565.3" r="1.5" fill="#fff"/>
<circle cx="478.2" cy="564.6" r="1.5" fill="#fff"/>
<circle cx="493" cy="564.8" r="1.5" fill="#fff"/>
<circle cx="568" cy="562" r="1.5" fill="#fff"/>
<circle cx="600.3" cy="561" r="1.5" fill="#fff"/>
<circle cx="615" cy="564.3" r="1.5" fill="#fff"/>
<circle cx="663.2" cy="563.4" r="1.5" fill="#fff"/>
<circle cx="451.4" cy="577.9" r="1.5" fill="#fff"/>
<circle cx="471.9" cy="580.7" r="1.5" fill="#fff"/>
<circle cx="484.2" cy="578.7" r="1.5" fill="#fff"/>
<circle cx="514.3" cy="575.6" r="1.5" fill="#fff"/>
<circle cx="545.8" cy="577.4" r="1.5" fill="#fff"/>
<circle cx="564.4" cy="575" r="1.5" fill="#fff"/>
<circle cx="595.3" cy="579.7" r="1.5" fill="#fff"/>
<circle cx="612" cy="578" r="1.5" fill="#fff"/>
<circle cx="622.2" cy="577.1" r="1.5" fill="#fff"/>
<circle cx="638.7" cy="576.9" r="1.5" fill="#fff"/>
<circle cx="655.5" cy="579.7" r="1.5" fill="#fff"/>
<circle cx="461.6" cy="591.5" r="1.5" fill="#fff"/>
<circle cx="479.3" cy="593.3" r="1.5" fill="#fff"/>
<circle cx="508.3" cy="591.3" r="1.5" fill="#fff"/>
<circle cx="553" cy="589.4" r="1.5" fill="#fff"/>
<circle cx="568" cy="592.9" r="1.5" fill="#fff"/>
<circle cx="589" cy="589.8" r="1.5" fill="#fff"/>
<circle cx="602.9" cy="591.2" r="1.5" fill="#fff"/>
<circle cx="620.3" cy="592.1" r="1.5" fill="#fff"/>
<circle cx="470.2" cy="603.6" r="1.5" fill="#fff"/>
<circle cx="502.3" cy="605.9" r="1.5" fill="#fff"/>
<circle cx="514.6" cy="606.1" r="1.5" fill="#fff"/>
<circle cx="530.2" cy="604.7" r="1.5" fill="#fff"/>
<circle cx="547.4" cy="607.3" r="1.5" fill="#fff"/>
<circle cx="564.5" cy="603.4" r="1.5" fill="#fff"/>
<circle cx="593" cy="602.2" r="1.5" fill="#fff"/>
<circle cx="609.8" cy="603.4" r="1.5" fill="#fff"/>
<circle cx="627.7" cy="607.4" r="1.5" fill="#fff"/>
<circle cx="638" cy="604.2" r="1.5" fill="#fff"/>
<circle cx="656.9" cy="603.3" r="1.5" fill="#fff"/>
<circle cx="459.7" cy="618.4" r="1.5" fill="#fff"/>
<circle cx="507.6" cy="619.4" r="1.5" fill="#fff"/>
<circle cx="522.7" cy="617.4" r="1.5" fill="#fff"/>
<circle cx="541.9" cy="615.6" r="1.5" fill="#fff"/>
<circle cx="554.5" cy="618.8" r="1.5" fill="#fff"/>
<circle cx="568.6" cy="617.3" r="1.5" fill="#fff"/>
<circle cx="585" cy="619.6" r="1.5" fill="#fff"/>
<circle cx="631.1" cy="620.1" r="1.5" fill="#fff"/>
<circle cx="664.3" cy="616.1" r="1.5" fill="#fff"/>
<circle cx="455.1" cy="631.4" r="1.5" fill="#fff"/>
<circle cx="497.6" cy="630" r="1.5" fill="#fff"/>
<circle cx="517.1" cy="633.4" r="1.5" fill="#fff"/>
<circle cx="577.6" cy="629" r="1.5" fill="#fff"/>
<circle cx="611.2" cy="632.9" r="1.5" fill="#fff"/>
<circle cx="624.6" cy="630.3" r="1.5" fill="#fff"/>
<circle cx="459.2" cy="645.2" r="1.5" fill="#fff"/>
<circle cx="491.8" cy="646.5" r="1.5" fill="#fff"/>
<circle cx="508.4" cy="644.1" r="1.5" fill="#fff"/>
<circle cx="568" cy="643.2" r="1.5" fill="#fff"/>
<circle cx="614.2" cy="645.6" r="1.5" fill="#fff"/>
<circle cx="648.5" cy="647.1" r="1.5" fill="#fff"/>
<circle cx="451.1" cy="657.8" r="1.5" fill="#fff"/>
<circle cx="471.1" cy="658.3" r="1.5" fill="#fff"/>
<circle cx="513.6" cy="659.8" r="1.5" fill="#fff"/>
<circle cx="533.2" cy="656" r="1.5" fill="#fff"/>
<circle cx="548.1" cy="657.5" r="1.5" fill="#fff"/>
<circle cx="577.2" cy="657.4" r="1.5" fill="#fff"/>
<circle cx="593.1" cy="661.8" r="1.5" fill="#fff"/>
<circle cx="609.7" cy="658.8" r="1.5" fill="#fff"/>
<circle cx="637.3" cy="657.6" r="1.5" fill="#fff"/>
<circle cx="657" cy="658.9" r="1.5" fill="#fff"/>
<circle cx="506.9" cy="674.3" r="1.5" fill="#fff"/>
<circle cx="540.3" cy="671.3" r="1.5" fill="#fff"/>
<circle cx="552.7" cy="672" r="1.5" fill="#fff"/>
<circle cx="569.8" cy="672.3" r="1.5" fill="#fff"/>
<circle cx="602.1" cy="671.9" r="1.5" fill="#fff"/>
<circle cx="618.2" cy="672.8" r="1.5" fill="#fff"/>
<circle cx="631.1" cy="673.2" r="1.5" fill="#fff"/>
<circle cx="649.3" cy="669.7" r="1.5" fill="#fff"/>
<circle cx="665.6" cy="669.3" r="1.5" fill="#fff"/>
<circle cx="506.6" cy="510" r="5.5" fill="url(#gFe)"/>
<circle cx="522.1" cy="509.8" r="5.5" fill="url(#gFe)"/>
<circle cx="537.8" cy="508.8" r="5.5" fill="url(#gFe)"/>
<circle cx="569.2" cy="509.2" r="5.5" fill="url(#gFe)"/>
<circle cx="618.5" cy="508.6" r="5.5" fill="url(#gFe)"/>
<circle cx="633.8" cy="509.4" r="5.5" fill="url(#gFe)"/>
<circle cx="452.3" cy="523.7" r="5.5" fill="url(#gFe)"/>
<circle cx="484.6" cy="522.2" r="5.5" fill="url(#gFe)"/>
<circle cx="498.8" cy="522.6" r="5.5" fill="url(#gFe)"/>
<circle cx="516.2" cy="523.3" r="5.5" fill="url(#gFe)"/>
<circle cx="593.8" cy="524.6" r="5.5" fill="url(#gFe)"/>
<circle cx="610" cy="522.9" r="5.5" fill="url(#gFe)"/>
<circle cx="477.5" cy="537.2" r="5.5" fill="url(#gFe)"/>
<circle cx="540.1" cy="538.3" r="5.5" fill="url(#gFe)"/>
<circle cx="631.3" cy="536.9" r="5.5" fill="url(#gFe)"/>
<circle cx="647.3" cy="535.9" r="5.5" fill="url(#gFe)"/>
<circle cx="468.6" cy="551.6" r="5.5" fill="url(#gFe)"/>
<circle cx="483.2" cy="550.3" r="5.5" fill="url(#gFe)"/>
<circle cx="516.7" cy="551.6" r="5.5" fill="url(#gFe)"/>
<circle cx="530.6" cy="550.2" r="5.5" fill="url(#gFe)"/>
<circle cx="546.5" cy="551.7" r="5.5" fill="url(#gFe)"/>
<circle cx="577.1" cy="549.7" r="5.5" fill="url(#gFe)"/>
<circle cx="640.1" cy="550.7" r="5.5" fill="url(#gFe)"/>
<circle cx="657.5" cy="551.1" r="5.5" fill="url(#gFe)"/>
<circle cx="461.1" cy="564.4" r="5.5" fill="url(#gFe)"/>
<circle cx="523.2" cy="563.7" r="5.5" fill="url(#gFe)"/>
<circle cx="631.3" cy="565.1" r="5.5" fill="url(#gFe)"/>
<circle cx="663.2" cy="563.5" r="5.5" fill="url(#gFe)"/>
<circle cx="498.9" cy="576.3" r="5.5" fill="url(#gFe)"/>
<circle cx="515.2" cy="576.8" r="5.5" fill="url(#gFe)"/>
<circle cx="532.3" cy="576.5" r="5.5" fill="url(#gFe)"/>
<circle cx="545.5" cy="578.9" r="5.5" fill="url(#gFe)"/>
<circle cx="593.8" cy="578.9" r="5.5" fill="url(#gFe)"/>
<circle cx="656.2" cy="578.3" r="5.5" fill="url(#gFe)"/>
<circle cx="508.9" cy="591.7" r="5.5" fill="url(#gFe)"/>
<circle cx="587.3" cy="590.8" r="5.5" fill="url(#gFe)"/>
<circle cx="602.8" cy="592.5" r="5.5" fill="url(#gFe)"/>
<circle cx="618.5" cy="590.6" r="5.5" fill="url(#gFe)"/>
<circle cx="631.9" cy="590.2" r="5.5" fill="url(#gFe)"/>
<circle cx="516.5" cy="604.4" r="5.5" fill="url(#gFe)"/>
<circle cx="563.9" cy="604.2" r="5.5" fill="url(#gFe)"/>
<circle cx="608.2" cy="603.5" r="5.5" fill="url(#gFe)"/>
<circle cx="639.4" cy="605.5" r="5.5" fill="url(#gFe)"/>
<circle cx="657.5" cy="605" r="5.5" fill="url(#gFe)"/>
<circle cx="460.7" cy="618.1" r="5.5" fill="url(#gFe)"/>
<circle cx="508" cy="619.3" r="5.5" fill="url(#gFe)"/>
<circle cx="523.3" cy="619.1" r="5.5" fill="url(#gFe)"/>
<circle cx="540.1" cy="617.1" r="5.5" fill="url(#gFe)"/>
<circle cx="569.5" cy="618.3" r="5.5" fill="url(#gFe)"/>
<circle cx="585.2" cy="617.8" r="5.5" fill="url(#gFe)"/>
<circle cx="600.4" cy="619.2" r="5.5" fill="url(#gFe)"/>
<circle cx="648.1" cy="619.3" r="5.5" fill="url(#gFe)"/>
<circle cx="663.9" cy="618.1" r="5.5" fill="url(#gFe)"/>
<circle cx="499.1" cy="631.4" r="5.5" fill="url(#gFe)"/>
<circle cx="516.4" cy="631.7" r="5.5" fill="url(#gFe)"/>
<circle cx="561.3" cy="631.7" r="5.5" fill="url(#gFe)"/>
<circle cx="577.3" cy="630.8" r="5.5" fill="url(#gFe)"/>
<circle cx="609.5" cy="632.3" r="5.5" fill="url(#gFe)"/>
<circle cx="509.2" cy="644.3" r="5.5" fill="url(#gFe)"/>
<circle cx="540.1" cy="643.9" r="5.5" fill="url(#gFe)"/>
<circle cx="553.6" cy="644.8" r="5.5" fill="url(#gFe)"/>
<circle cx="663.1" cy="646.4" r="5.5" fill="url(#gFe)"/>
<circle cx="453" cy="658.5" r="5.5" fill="url(#gFe)"/>
<circle cx="514.8" cy="658" r="5.5" fill="url(#gFe)"/>
<circle cx="578.5" cy="658.5" r="5.5" fill="url(#gFe)"/>
<circle cx="592.4" cy="660" r="5.5" fill="url(#gFe)"/>
<circle cx="639.1" cy="659.3" r="5.5" fill="url(#gFe)"/>
<circle cx="491.2" cy="673.3" r="5.5" fill="url(#gFe)"/>
<circle cx="508.1" cy="672.6" r="5.5" fill="url(#gFe)"/>
<circle cx="570.7" cy="672.9" r="5.5" fill="url(#gFe)"/>
<circle cx="664" cy="671.2" r="5.5" fill="url(#gFe)"/>
<circle cx="452.8" cy="504.5" r="6.9" fill="url(#gFe)"/>
<circle cx="469.4" cy="504.2" r="6.9" fill="url(#gFe)"/>
<circle cx="484.6" cy="505.1" r="6.9" fill="url(#gFe)"/>
<circle cx="498.8" cy="505.5" r="6.9" fill="url(#gFe)"/>
<circle cx="514.3" cy="505.3" r="6.9" fill="url(#gFe)"/>
<circle cx="530" cy="504.3" r="6.9" fill="url(#gFe)"/>
<circle cx="546.7" cy="506.5" r="6.9" fill="url(#gFe)"/>
<circle cx="561.4" cy="504.7" r="6.9" fill="url(#gFe)"/>
<circle cx="578.5" cy="506.8" r="6.9" fill="url(#gFe)"/>
<circle cx="593.9" cy="505.2" r="6.9" fill="url(#gFe)"/>
<circle cx="610.7" cy="504.1" r="6.9" fill="url(#gFe)"/>
<circle cx="626" cy="504.9" r="6.9" fill="url(#gFe)"/>
<circle cx="639.4" cy="504.4" r="6.9" fill="url(#gFe)"/>
<circle cx="655.5" cy="506.4" r="6.9" fill="url(#gFe)"/>
<circle cx="444.5" cy="519.2" r="6.9" fill="url(#gFe)"/>
<circle cx="461.5" cy="518.6" r="6.9" fill="url(#gFe)"/>
<circle cx="476.8" cy="517.7" r="6.9" fill="url(#gFe)"/>
<circle cx="491" cy="518.1" r="6.9" fill="url(#gFe)"/>
<circle cx="508.4" cy="518.8" r="6.9" fill="url(#gFe)"/>
<circle cx="522.9" cy="519.3" r="6.9" fill="url(#gFe)"/>
<circle cx="539" cy="518.4" r="6.9" fill="url(#gFe)"/>
<circle cx="555.6" cy="519.6" r="6.9" fill="url(#gFe)"/>
<circle cx="569.5" cy="519.2" r="6.9" fill="url(#gFe)"/>
<circle cx="586" cy="520.1" r="6.9" fill="url(#gFe)"/>
<circle cx="602.2" cy="518.4" r="6.9" fill="url(#gFe)"/>
<circle cx="618.5" cy="517.9" r="6.9" fill="url(#gFe)"/>
<circle cx="632.5" cy="519.8" r="6.9" fill="url(#gFe)"/>
<circle cx="647.3" cy="519" r="6.9" fill="url(#gFe)"/>
<circle cx="451.9" cy="533" r="6.9" fill="url(#gFe)"/>
<circle cx="469.7" cy="532.7" r="6.9" fill="url(#gFe)"/>
<circle cx="485.6" cy="531.9" r="6.9" fill="url(#gFe)"/>
<circle cx="500.7" cy="532.8" r="6.9" fill="url(#gFe)"/>
<circle cx="515.9" cy="532.4" r="6.9" fill="url(#gFe)"/>
<circle cx="532.3" cy="533.8" r="6.9" fill="url(#gFe)"/>
<circle cx="546.8" cy="533" r="6.9" fill="url(#gFe)"/>
<circle cx="561.2" cy="533.1" r="6.9" fill="url(#gFe)"/>
<circle cx="578.5" cy="534" r="6.9" fill="url(#gFe)"/>
<circle cx="594.7" cy="531.9" r="6.9" fill="url(#gFe)"/>
<circle cx="609" cy="533" r="6.9" fill="url(#gFe)"/>
<circle cx="623.5" cy="532.4" r="6.9" fill="url(#gFe)"/>
<circle cx="639.5" cy="531.4" r="6.9" fill="url(#gFe)"/>
<circle cx="654.8" cy="533.3" r="6.9" fill="url(#gFe)"/>
<circle cx="444.4" cy="545.2" r="6.9" fill="url(#gFe)"/>
<circle cx="460.8" cy="547.1" r="6.9" fill="url(#gFe)"/>
<circle cx="475.4" cy="545.8" r="6.9" fill="url(#gFe)"/>
<circle cx="492.4" cy="547.2" r="6.9" fill="url(#gFe)"/>
<circle cx="508.9" cy="547.1" r="6.9" fill="url(#gFe)"/>
<circle cx="522.8" cy="545.7" r="6.9" fill="url(#gFe)"/>
<circle cx="538.7" cy="547.2" r="6.9" fill="url(#gFe)"/>
<circle cx="556.1" cy="545" r="6.9" fill="url(#gFe)"/>
<circle cx="569.3" cy="545.2" r="6.9" fill="url(#gFe)"/>
<circle cx="585.1" cy="546" r="6.9" fill="url(#gFe)"/>
<circle cx="601.8" cy="545.3" r="6.9" fill="url(#gFe)"/>
<circle cx="615.6" cy="545.8" r="6.9" fill="url(#gFe)"/>
<circle cx="632.3" cy="546.2" r="6.9" fill="url(#gFe)"/>
<circle cx="649.7" cy="546.6" r="6.9" fill="url(#gFe)"/>
<circle cx="453.3" cy="559.9" r="6.9" fill="url(#gFe)"/>
<circle cx="469.4" cy="558.2" r="6.9" fill="url(#gFe)"/>
<circle cx="485.7" cy="560.3" r="6.9" fill="url(#gFe)"/>
<circle cx="501.2" cy="560.4" r="6.9" fill="url(#gFe)"/>
<circle cx="515.4" cy="559.2" r="6.9" fill="url(#gFe)"/>
<circle cx="530.1" cy="559.9" r="6.9" fill="url(#gFe)"/>
<circle cx="545.6" cy="558.2" r="6.9" fill="url(#gFe)"/>
<circle cx="561.6" cy="558.5" r="6.9" fill="url(#gFe)"/>
<circle cx="577.6" cy="558.2" r="6.9" fill="url(#gFe)"/>
<circle cx="592.2" cy="558.5" r="6.9" fill="url(#gFe)"/>
<circle cx="608.1" cy="559.1" r="6.9" fill="url(#gFe)"/>
<circle cx="623.5" cy="560.6" r="6.9" fill="url(#gFe)"/>
<circle cx="640.8" cy="558.4" r="6.9" fill="url(#gFe)"/>
<circle cx="655.4" cy="559" r="6.9" fill="url(#gFe)"/>
<circle cx="445.1" cy="571.9" r="6.9" fill="url(#gFe)"/>
<circle cx="462.1" cy="574.5" r="6.9" fill="url(#gFe)"/>
<circle cx="476.6" cy="573" r="6.9" fill="url(#gFe)"/>
<circle cx="491.1" cy="571.8" r="6.9" fill="url(#gFe)"/>
<circle cx="507.4" cy="572.3" r="6.9" fill="url(#gFe)"/>
<circle cx="524.5" cy="572" r="6.9" fill="url(#gFe)"/>
<circle cx="537.7" cy="574.4" r="6.9" fill="url(#gFe)"/>
<circle cx="554.8" cy="571.9" r="6.9" fill="url(#gFe)"/>
<circle cx="570.4" cy="571.6" r="6.9" fill="url(#gFe)"/>
<circle cx="586" cy="574.4" r="6.9" fill="url(#gFe)"/>
<circle cx="602.6" cy="573.6" r="6.9" fill="url(#gFe)"/>
<circle cx="616.4" cy="572.6" r="6.9" fill="url(#gFe)"/>
<circle cx="631.7" cy="573.8" r="6.9" fill="url(#gFe)"/>
<circle cx="648.4" cy="573.8" r="6.9" fill="url(#gFe)"/>
<circle cx="452.8" cy="585.7" r="6.9" fill="url(#gFe)"/>
<circle cx="469.8" cy="588" r="6.9" fill="url(#gFe)"/>
<circle cx="485.6" cy="587.4" r="6.9" fill="url(#gFe)"/>
<circle cx="501.1" cy="587.2" r="6.9" fill="url(#gFe)"/>
<circle cx="514.9" cy="586.6" r="6.9" fill="url(#gFe)"/>
<circle cx="530.9" cy="585.1" r="6.9" fill="url(#gFe)"/>
<circle cx="545.5" cy="585.8" r="6.9" fill="url(#gFe)"/>
<circle cx="561.8" cy="587.1" r="6.9" fill="url(#gFe)"/>
<circle cx="579.5" cy="586.3" r="6.9" fill="url(#gFe)"/>
<circle cx="595" cy="588" r="6.9" fill="url(#gFe)"/>
<circle cx="610.7" cy="586.1" r="6.9" fill="url(#gFe)"/>
<circle cx="624.1" cy="585.7" r="6.9" fill="url(#gFe)"/>
<circle cx="639.6" cy="585.6" r="6.9" fill="url(#gFe)"/>
<circle cx="656.5" cy="587.7" r="6.9" fill="url(#gFe)"/>
<circle cx="446.5" cy="599.9" r="6.9" fill="url(#gFe)"/>
<circle cx="461.6" cy="600.9" r="6.9" fill="url(#gFe)"/>
<circle cx="475.5" cy="600.5" r="6.9" fill="url(#gFe)"/>
<circle cx="493.5" cy="600.8" r="6.9" fill="url(#gFe)"/>
<circle cx="508.7" cy="599.9" r="6.9" fill="url(#gFe)"/>
<circle cx="522.5" cy="600.9" r="6.9" fill="url(#gFe)"/>
<circle cx="538.6" cy="600.9" r="6.9" fill="url(#gFe)"/>
<circle cx="556.1" cy="599.7" r="6.9" fill="url(#gFe)"/>
<circle cx="570" cy="601.3" r="6.9" fill="url(#gFe)"/>
<circle cx="586.6" cy="599" r="6.9" fill="url(#gFe)"/>
<circle cx="600.4" cy="599" r="6.9" fill="url(#gFe)"/>
<circle cx="618.3" cy="600.9" r="6.9" fill="url(#gFe)"/>
<circle cx="631.6" cy="601" r="6.9" fill="url(#gFe)"/>
<circle cx="649.7" cy="600.5" r="6.9" fill="url(#gFe)"/>
<circle cx="452.9" cy="613.6" r="6.9" fill="url(#gFe)"/>
<circle cx="467.8" cy="612" r="6.9" fill="url(#gFe)"/>
<circle cx="485.9" cy="613.9" r="6.9" fill="url(#gFe)"/>
<circle cx="500.2" cy="614.8" r="6.9" fill="url(#gFe)"/>
<circle cx="515.5" cy="614.6" r="6.9" fill="url(#gFe)"/>
<circle cx="532.3" cy="612.6" r="6.9" fill="url(#gFe)"/>
<circle cx="546.2" cy="612.9" r="6.9" fill="url(#gFe)"/>
<circle cx="561.7" cy="613.8" r="6.9" fill="url(#gFe)"/>
<circle cx="577.4" cy="613.3" r="6.9" fill="url(#gFe)"/>
<circle cx="592.6" cy="614.7" r="6.9" fill="url(#gFe)"/>
<circle cx="608.9" cy="613.4" r="6.9" fill="url(#gFe)"/>
<circle cx="625.2" cy="614.7" r="6.9" fill="url(#gFe)"/>
<circle cx="640.3" cy="614.8" r="6.9" fill="url(#gFe)"/>
<circle cx="656.1" cy="613.6" r="6.9" fill="url(#gFe)"/>
<circle cx="445.6" cy="625.6" r="6.9" fill="url(#gFe)"/>
<circle cx="460.9" cy="626" r="6.9" fill="url(#gFe)"/>
<circle cx="475.2" cy="627.9" r="6.9" fill="url(#gFe)"/>
<circle cx="491.3" cy="626.9" r="6.9" fill="url(#gFe)"/>
<circle cx="508.6" cy="627.2" r="6.9" fill="url(#gFe)"/>
<circle cx="523" cy="627.1" r="6.9" fill="url(#gFe)"/>
<circle cx="539.3" cy="627.9" r="6.9" fill="url(#gFe)"/>
<circle cx="553.5" cy="627.2" r="6.9" fill="url(#gFe)"/>
<circle cx="569.5" cy="626.3" r="6.9" fill="url(#gFe)"/>
<circle cx="586.7" cy="627" r="6.9" fill="url(#gFe)"/>
<circle cx="601.7" cy="627.8" r="6.9" fill="url(#gFe)"/>
<circle cx="618.3" cy="626.8" r="6.9" fill="url(#gFe)"/>
<circle cx="633" cy="627" r="6.9" fill="url(#gFe)"/>
<circle cx="648.3" cy="627.6" r="6.9" fill="url(#gFe)"/>
<circle cx="453.2" cy="640.6" r="6.9" fill="url(#gFe)"/>
<circle cx="468.8" cy="641.8" r="6.9" fill="url(#gFe)"/>
<circle cx="485.1" cy="641.6" r="6.9" fill="url(#gFe)"/>
<circle cx="501.4" cy="639.8" r="6.9" fill="url(#gFe)"/>
<circle cx="515.9" cy="641.8" r="6.9" fill="url(#gFe)"/>
<circle cx="532.3" cy="639.4" r="6.9" fill="url(#gFe)"/>
<circle cx="545.8" cy="640.3" r="6.9" fill="url(#gFe)"/>
<circle cx="561.2" cy="639.7" r="6.9" fill="url(#gFe)"/>
<circle cx="576.8" cy="641" r="6.9" fill="url(#gFe)"/>
<circle cx="594.6" cy="641.7" r="6.9" fill="url(#gFe)"/>
<circle cx="608.3" cy="641.1" r="6.9" fill="url(#gFe)"/>
<circle cx="625.4" cy="639.4" r="6.9" fill="url(#gFe)"/>
<circle cx="641.6" cy="641.9" r="6.9" fill="url(#gFe)"/>
<circle cx="655.3" cy="641.9" r="6.9" fill="url(#gFe)"/>
<circle cx="445.2" cy="654" r="6.9" fill="url(#gFe)"/>
<circle cx="462.6" cy="655" r="6.9" fill="url(#gFe)"/>
<circle cx="475.7" cy="653.8" r="6.9" fill="url(#gFe)"/>
<circle cx="492.3" cy="653.5" r="6.9" fill="url(#gFe)"/>
<circle cx="507" cy="653.5" r="6.9" fill="url(#gFe)"/>
<circle cx="524.2" cy="652.6" r="6.9" fill="url(#gFe)"/>
<circle cx="539.3" cy="653.8" r="6.9" fill="url(#gFe)"/>
<circle cx="553.3" cy="653.5" r="6.9" fill="url(#gFe)"/>
<circle cx="570.7" cy="654" r="6.9" fill="url(#gFe)"/>
<circle cx="584.6" cy="655.5" r="6.9" fill="url(#gFe)"/>
<circle cx="602.4" cy="655.4" r="6.9" fill="url(#gFe)"/>
<circle cx="615.9" cy="653.3" r="6.9" fill="url(#gFe)"/>
<circle cx="631.3" cy="654.8" r="6.9" fill="url(#gFe)"/>
<circle cx="647.6" cy="652.9" r="6.9" fill="url(#gFe)"/>
<circle cx="453.1" cy="668.7" r="6.9" fill="url(#gFe)"/>
<circle cx="469.9" cy="666.8" r="6.9" fill="url(#gFe)"/>
<circle cx="483.4" cy="668.8" r="6.9" fill="url(#gFe)"/>
<circle cx="500.3" cy="668.1" r="6.9" fill="url(#gFe)"/>
<circle cx="514.5" cy="666.2" r="6.9" fill="url(#gFe)"/>
<circle cx="531.9" cy="667.3" r="6.9" fill="url(#gFe)"/>
<circle cx="545.6" cy="668.8" r="6.9" fill="url(#gFe)"/>
<circle cx="562.9" cy="668.4" r="6.9" fill="url(#gFe)"/>
<circle cx="576.9" cy="668.6" r="6.9" fill="url(#gFe)"/>
<circle cx="592.4" cy="668.6" r="6.9" fill="url(#gFe)"/>
<circle cx="609.2" cy="667" r="6.9" fill="url(#gFe)"/>
<circle cx="625.1" cy="668.8" r="6.9" fill="url(#gFe)"/>
<circle cx="639.8" cy="666.4" r="6.9" fill="url(#gFe)"/>
<circle cx="656.2" cy="666.7" r="6.9" fill="url(#gFe)"/>
<circle cx="451.9" cy="513.2" r="3.4" fill="url(#gO)"/>
<circle cx="476.1" cy="500.4" r="3.4" fill="url(#gO)"/>
<circle cx="476.5" cy="512.3" r="3.4" fill="url(#gO)"/>
<circle cx="493.3" cy="515" r="3.4" fill="url(#gO)"/>
<circle cx="507.8" cy="500.6" r="3.4" fill="url(#gO)"/>
<circle cx="513.5" cy="513.1" r="3.4" fill="url(#gO)"/>
<circle cx="554.9" cy="502.9" r="3.4" fill="url(#gO)"/>
<circle cx="547.1" cy="515" r="3.4" fill="url(#gO)"/>
<circle cx="569.1" cy="499.8" r="3.4" fill="url(#gO)"/>
<circle cx="560.6" cy="510.7" r="3.4" fill="url(#gO)"/>
<circle cx="578.5" cy="512.8" r="3.4" fill="url(#gO)"/>
<circle cx="602.4" cy="513.8" r="3.4" fill="url(#gO)"/>
<circle cx="611.5" cy="513.4" r="3.4" fill="url(#gO)"/>
<circle cx="627.2" cy="512.3" r="3.4" fill="url(#gO)"/>
<circle cx="640" cy="513.4" r="3.4" fill="url(#gO)"/>
<circle cx="647.4" cy="514.3" r="3.4" fill="url(#gO)"/>
<circle cx="664.8" cy="502.1" r="3.4" fill="url(#gO)"/>
<circle cx="664" cy="517" r="3.4" fill="url(#gO)"/>
<circle cx="451.5" cy="515.8" r="3.4" fill="url(#gO)"/>
<circle cx="442.4" cy="525.6" r="3.4" fill="url(#gO)"/>
<circle cx="454.6" cy="528.9" r="3.4" fill="url(#gO)"/>
<circle cx="462" cy="524.7" r="3.4" fill="url(#gO)"/>
<circle cx="477.7" cy="525.4" r="3.4" fill="url(#gO)"/>
<circle cx="492.3" cy="526.1" r="3.4" fill="url(#gO)"/>
<circle cx="500.6" cy="526.3" r="3.4" fill="url(#gO)"/>
<circle cx="517.9" cy="527.6" r="3.4" fill="url(#gO)"/>
<circle cx="531.6" cy="514.1" r="3.4" fill="url(#gO)"/>
<circle cx="531.9" cy="530" r="3.4" fill="url(#gO)"/>
<circle cx="545.7" cy="525.7" r="3.4" fill="url(#gO)"/>
<circle cx="563.8" cy="515.9" r="3.4" fill="url(#gO)"/>
<circle cx="576.4" cy="516.3" r="3.4" fill="url(#gO)"/>
<circle cx="567.2" cy="526.2" r="3.4" fill="url(#gO)"/>
<circle cx="577.5" cy="527.2" r="3.4" fill="url(#gO)"/>
<circle cx="594.9" cy="529" r="3.4" fill="url(#gO)"/>
<circle cx="611.6" cy="513.9" r="3.4" fill="url(#gO)"/>
<circle cx="600.2" cy="526.4" r="3.4" fill="url(#gO)"/>
<circle cx="617.2" cy="523.6" r="3.4" fill="url(#gO)"/>
<circle cx="632.5" cy="527.1" r="3.4" fill="url(#gO)"/>
<circle cx="648.2" cy="524.8" r="3.4" fill="url(#gO)"/>
<circle cx="458.8" cy="527.9" r="3.4" fill="url(#gO)"/>
<circle cx="460.6" cy="543.6" r="3.4" fill="url(#gO)"/>
<circle cx="476.4" cy="529.6" r="3.4" fill="url(#gO)"/>
<circle cx="484.4" cy="538.7" r="3.4" fill="url(#gO)"/>
<circle cx="495.5" cy="542" r="3.4" fill="url(#gO)"/>
<circle cx="501.4" cy="541.2" r="3.4" fill="url(#gO)"/>
<circle cx="523" cy="540.4" r="3.4" fill="url(#gO)"/>
<circle cx="539.5" cy="531.2" r="3.4" fill="url(#gO)"/>
<circle cx="546.5" cy="540.3" r="3.4" fill="url(#gO)"/>
<circle cx="561.2" cy="542.3" r="3.4" fill="url(#gO)"/>
<circle cx="571.1" cy="540.4" r="3.4" fill="url(#gO)"/>
<circle cx="585.4" cy="531.4" r="3.4" fill="url(#gO)"/>
<circle cx="603.8" cy="527.7" r="3.4" fill="url(#gO)"/>
<circle cx="595.6" cy="539.8" r="3.4" fill="url(#gO)"/>
<circle cx="661.5" cy="530.2" r="3.4" fill="url(#gO)"/>
<circle cx="655.8" cy="539.5" r="3.4" fill="url(#gO)"/>
<circle cx="661.9" cy="543.8" r="3.4" fill="url(#gO)"/>
<circle cx="450.9" cy="540" r="3.4" fill="url(#gO)"/>
<circle cx="444.6" cy="553.2" r="3.4" fill="url(#gO)"/>
<circle cx="460.6" cy="554.1" r="3.4" fill="url(#gO)"/>
<circle cx="485.3" cy="556.3" r="3.4" fill="url(#gO)"/>
<circle cx="490.9" cy="553.3" r="3.4" fill="url(#gO)"/>
<circle cx="502.2" cy="557.3" r="3.4" fill="url(#gO)"/>
<circle cx="529.2" cy="540.8" r="3.4" fill="url(#gO)"/>
<circle cx="530.7" cy="554.5" r="3.4" fill="url(#gO)"/>
<circle cx="545.6" cy="542.9" r="3.4" fill="url(#gO)"/>
<circle cx="546.5" cy="557.8" r="3.4" fill="url(#gO)"/>
<circle cx="576.8" cy="541.5" r="3.4" fill="url(#gO)"/>
<circle cx="578.6" cy="554.3" r="3.4" fill="url(#gO)"/>
<circle cx="594.2" cy="541" r="3.4" fill="url(#gO)"/>
<circle cx="591.8" cy="553.9" r="3.4" fill="url(#gO)"/>
<circle cx="610.2" cy="554.3" r="3.4" fill="url(#gO)"/>
<circle cx="615.1" cy="552.7" r="3.4" fill="url(#gO)"/>
<circle cx="641.7" cy="541.9" r="3.4" fill="url(#gO)"/>
<circle cx="632.5" cy="553.7" r="3.4" fill="url(#gO)"/>
<circle cx="641.3" cy="553.7" r="3.4" fill="url(#gO)"/>
<circle cx="452.5" cy="567" r="3.4" fill="url(#gO)"/>
<circle cx="478.6" cy="553" r="3.4" fill="url(#gO)"/>
<circle cx="468.1" cy="567.1" r="3.4" fill="url(#gO)"/>
<circle cx="494.9" cy="555.9" r="3.4" fill="url(#gO)"/>
<circle cx="522.6" cy="554.5" r="3.4" fill="url(#gO)"/>
<circle cx="529.4" cy="568.4" r="3.4" fill="url(#gO)"/>
<circle cx="553.3" cy="556.1" r="3.4" fill="url(#gO)"/>
<circle cx="544" cy="565" r="3.4" fill="url(#gO)"/>
<circle cx="559.9" cy="565.1" r="3.4" fill="url(#gO)"/>
<circle cx="570.2" cy="566.3" r="3.4" fill="url(#gO)"/>
<circle cx="584.3" cy="556.4" r="3.4" fill="url(#gO)"/>
<circle cx="587.8" cy="565.7" r="3.4" fill="url(#gO)"/>
<circle cx="601.7" cy="556" r="3.4" fill="url(#gO)"/>
<circle cx="616.4" cy="554.2" r="3.4" fill="url(#gO)"/>
<circle cx="607.2" cy="564.9" r="3.4" fill="url(#gO)"/>
<circle cx="617.7" cy="568.8" r="3.4" fill="url(#gO)"/>
<circle cx="649" cy="554.6" r="3.4" fill="url(#gO)"/>
<circle cx="445.4" cy="580.7" r="3.4" fill="url(#gO)"/>
<circle cx="485.6" cy="580.5" r="3.4" fill="url(#gO)"/>
<circle cx="499.9" cy="569.1" r="3.4" fill="url(#gO)"/>
<circle cx="499.3" cy="580.6" r="3.4" fill="url(#gO)"/>
<circle cx="507.6" cy="581.3" r="3.4" fill="url(#gO)"/>
<circle cx="516.5" cy="582.3" r="3.4" fill="url(#gO)"/>
<circle cx="532.2" cy="570.2" r="3.4" fill="url(#gO)"/>
<circle cx="524.1" cy="578.3" r="3.4" fill="url(#gO)"/>
<circle cx="546.4" cy="583.5" r="3.4" fill="url(#gO)"/>
<circle cx="580.5" cy="579.5" r="3.4" fill="url(#gO)"/>
<circle cx="586.4" cy="580.6" r="3.4" fill="url(#gO)"/>
<circle cx="608.8" cy="569.3" r="3.4" fill="url(#gO)"/>
<circle cx="600.3" cy="580.8" r="3.4" fill="url(#gO)"/>
<circle cx="615" cy="579.1" r="3.4" fill="url(#gO)"/>
<circle cx="641.3" cy="582.4" r="3.4" fill="url(#gO)"/>
<circle cx="654.9" cy="571.3" r="3.4" fill="url(#gO)"/>
<circle cx="463" cy="594.1" r="3.4" fill="url(#gO)"/>
<circle cx="485.2" cy="593.6" r="3.4" fill="url(#gO)"/>
<circle cx="510.1" cy="582.9" r="3.4" fill="url(#gO)"/>
<circle cx="499.7" cy="594.5" r="3.4" fill="url(#gO)"/>
<circle cx="507.8" cy="597" r="3.4" fill="url(#gO)"/>
<circle cx="521.8" cy="582.3" r="3.4" fill="url(#gO)"/>
<circle cx="540.9" cy="595.4" r="3.4" fill="url(#gO)"/>
<circle cx="554.5" cy="583.8" r="3.4" fill="url(#gO)"/>
<circle cx="555.2" cy="595.3" r="3.4" fill="url(#gO)"/>
<circle cx="567.8" cy="585.2" r="3.4" fill="url(#gO)"/>
<circle cx="568.8" cy="594.8" r="3.4" fill="url(#gO)"/>
<circle cx="588.3" cy="582.3" r="3.4" fill="url(#gO)"/>
<circle cx="580.4" cy="594.9" r="3.4" fill="url(#gO)"/>
<circle cx="589.4" cy="595.7" r="3.4" fill="url(#gO)"/>
<circle cx="619.9" cy="595.2" r="3.4" fill="url(#gO)"/>
<circle cx="638.1" cy="591.8" r="3.4" fill="url(#gO)"/>
<circle cx="664.2" cy="582.9" r="3.4" fill="url(#gO)"/>
<circle cx="456.2" cy="608.8" r="3.4" fill="url(#gO)"/>
<circle cx="483" cy="598.6" r="3.4" fill="url(#gO)"/>
<circle cx="475.4" cy="608.5" r="3.4" fill="url(#gO)"/>
<circle cx="484.3" cy="610.1" r="3.4" fill="url(#gO)"/>
<circle cx="494.8" cy="608.4" r="3.4" fill="url(#gO)"/>
<circle cx="508.9" cy="607.9" r="3.4" fill="url(#gO)"/>
<circle cx="518.5" cy="608.5" r="3.4" fill="url(#gO)"/>
<circle cx="546.2" cy="597.1" r="3.4" fill="url(#gO)"/>
<circle cx="565.1" cy="595.8" r="3.4" fill="url(#gO)"/>
<circle cx="564.6" cy="610.4" r="3.4" fill="url(#gO)"/>
<circle cx="577.8" cy="609.6" r="3.4" fill="url(#gO)"/>
<circle cx="609" cy="596.8" r="3.4" fill="url(#gO)"/>
<circle cx="608.2" cy="606.2" r="3.4" fill="url(#gO)"/>
<circle cx="627.6" cy="597.8" r="3.4" fill="url(#gO)"/>
<circle cx="453" cy="621" r="3.4" fill="url(#gO)"/>
<circle cx="474.4" cy="606.9" r="3.4" fill="url(#gO)"/>
<circle cx="486.6" cy="622.5" r="3.4" fill="url(#gO)"/>
<circle cx="507.3" cy="611" r="3.4" fill="url(#gO)"/>
<circle cx="499.4" cy="622.8" r="3.4" fill="url(#gO)"/>
<circle cx="523.5" cy="609.5" r="3.4" fill="url(#gO)"/>
<circle cx="516.1" cy="622.4" r="3.4" fill="url(#gO)"/>
<circle cx="531.4" cy="620.5" r="3.4" fill="url(#gO)"/>
<circle cx="553.2" cy="622.4" r="3.4" fill="url(#gO)"/>
<circle cx="568.3" cy="608.5" r="3.4" fill="url(#gO)"/>
<circle cx="561.9" cy="619.9" r="3.4" fill="url(#gO)"/>
<circle cx="586.5" cy="608.4" r="3.4" fill="url(#gO)"/>
<circle cx="577.7" cy="619.8" r="3.4" fill="url(#gO)"/>
<circle cx="598.8" cy="612.2" r="3.4" fill="url(#gO)"/>
<circle cx="608.8" cy="621.6" r="3.4" fill="url(#gO)"/>
<circle cx="626.3" cy="623" r="3.4" fill="url(#gO)"/>
<circle cx="631.9" cy="624.3" r="3.4" fill="url(#gO)"/>
<circle cx="639.1" cy="623.1" r="3.4" fill="url(#gO)"/>
<circle cx="650.1" cy="623.7" r="3.4" fill="url(#gO)"/>
<circle cx="663.4" cy="610.4" r="3.4" fill="url(#gO)"/>
<circle cx="454.4" cy="621.6" r="3.4" fill="url(#gO)"/>
<circle cx="468.3" cy="623.6" r="3.4" fill="url(#gO)"/>
<circle cx="473.1" cy="637.1" r="3.4" fill="url(#gO)"/>
<circle cx="491.2" cy="636.1" r="3.4" fill="url(#gO)"/>
<circle cx="507.8" cy="636.1" r="3.4" fill="url(#gO)"/>
<circle cx="517.7" cy="636.5" r="3.4" fill="url(#gO)"/>
<circle cx="529.7" cy="635.2" r="3.4" fill="url(#gO)"/>
<circle cx="554.2" cy="635.8" r="3.4" fill="url(#gO)"/>
<circle cx="570.3" cy="634.9" r="3.4" fill="url(#gO)"/>
<circle cx="584.7" cy="634.7" r="3.4" fill="url(#gO)"/>
<circle cx="610.4" cy="625.8" r="3.4" fill="url(#gO)"/>
<circle cx="601.6" cy="635.9" r="3.4" fill="url(#gO)"/>
<circle cx="625.3" cy="624.2" r="3.4" fill="url(#gO)"/>
<circle cx="641.9" cy="624.5" r="3.4" fill="url(#gO)"/>
<circle cx="632.8" cy="635.9" r="3.4" fill="url(#gO)"/>
<circle cx="459.8" cy="636" r="3.4" fill="url(#gO)"/>
<circle cx="461.9" cy="649.2" r="3.4" fill="url(#gO)"/>
<circle cx="466.7" cy="651.1" r="3.4" fill="url(#gO)"/>
<circle cx="475.9" cy="651.3" r="3.4" fill="url(#gO)"/>
<circle cx="484.9" cy="648.6" r="3.4" fill="url(#gO)"/>
<circle cx="507.5" cy="638" r="3.4" fill="url(#gO)"/>
<circle cx="516.4" cy="649.1" r="3.4" fill="url(#gO)"/>
<circle cx="551.9" cy="635.7" r="3.4" fill="url(#gO)"/>
<circle cx="543.8" cy="646.2" r="3.4" fill="url(#gO)"/>
<circle cx="576.7" cy="648.1" r="3.4" fill="url(#gO)"/>
<circle cx="587" cy="649.1" r="3.4" fill="url(#gO)"/>
<circle cx="607.6" cy="647.4" r="3.4" fill="url(#gO)"/>
<circle cx="623.2" cy="646.1" r="3.4" fill="url(#gO)"/>
<circle cx="635.3" cy="649.9" r="3.4" fill="url(#gO)"/>
<circle cx="642.2" cy="650.2" r="3.4" fill="url(#gO)"/>
<circle cx="653.5" cy="650.3" r="3.4" fill="url(#gO)"/>
<circle cx="445" cy="662.4" r="3.4" fill="url(#gO)"/>
<circle cx="453.1" cy="662.1" r="3.4" fill="url(#gO)"/>
<circle cx="470.3" cy="650.3" r="3.4" fill="url(#gO)"/>
<circle cx="460.8" cy="663.1" r="3.4" fill="url(#gO)"/>
<circle cx="471.9" cy="662.9" r="3.4" fill="url(#gO)"/>
<circle cx="485" cy="649.3" r="3.4" fill="url(#gO)"/>
<circle cx="491.7" cy="659.6" r="3.4" fill="url(#gO)"/>
<circle cx="533.1" cy="649" r="3.4" fill="url(#gO)"/>
<circle cx="531.7" cy="660" r="3.4" fill="url(#gO)"/>
<circle cx="549.1" cy="662" r="3.4" fill="url(#gO)"/>
<circle cx="559.8" cy="649.2" r="3.4" fill="url(#gO)"/>
<circle cx="560.6" cy="662.5" r="3.4" fill="url(#gO)"/>
<circle cx="579.9" cy="649.1" r="3.4" fill="url(#gO)"/>
<circle cx="580.6" cy="663.6" r="3.4" fill="url(#gO)"/>
<circle cx="592.3" cy="651.2" r="3.4" fill="url(#gO)"/>
<circle cx="583" cy="662.5" r="3.4" fill="url(#gO)"/>
<circle cx="610.1" cy="665.8" r="3.4" fill="url(#gO)"/>
<circle cx="624.5" cy="649.1" r="3.4" fill="url(#gO)"/>
<circle cx="625.5" cy="661.7" r="3.4" fill="url(#gO)"/>
<circle cx="637.3" cy="652.5" r="3.4" fill="url(#gO)"/>
<circle cx="639.6" cy="665.3" r="3.4" fill="url(#gO)"/>
<circle cx="655.7" cy="648.1" r="3.4" fill="url(#gO)"/>
<circle cx="648.1" cy="661.2" r="3.4" fill="url(#gO)"/>
<circle cx="654.6" cy="660.4" r="3.4" fill="url(#gO)"/>
<circle cx="460.5" cy="678.1" r="3.4" fill="url(#gO)"/>
<circle cx="489.7" cy="666.1" r="3.4" fill="url(#gO)"/>
<circle cx="483.7" cy="674.7" r="3.4" fill="url(#gO)"/>
<circle cx="509.3" cy="665.9" r="3.4" fill="url(#gO)"/>
<circle cx="510.3" cy="677" r="3.4" fill="url(#gO)"/>
<circle cx="512.8" cy="674.9" r="3.4" fill="url(#gO)"/>
<circle cx="521.8" cy="674.7" r="3.4" fill="url(#gO)"/>
<circle cx="531.4" cy="674.6" r="3.4" fill="url(#gO)"/>
<circle cx="554.2" cy="666.5" r="3.4" fill="url(#gO)"/>
<circle cx="554.9" cy="677.4" r="3.4" fill="url(#gO)"/>
<circle cx="563.7" cy="677.5" r="3.4" fill="url(#gO)"/>
<circle cx="601.9" cy="664.1" r="3.4" fill="url(#gO)"/>
<circle cx="590.5" cy="675.2" r="3.4" fill="url(#gO)"/>
<circle cx="615.5" cy="664.2" r="3.4" fill="url(#gO)"/>
<circle cx="606.9" cy="674.9" r="3.4" fill="url(#gO)"/>
<circle cx="634.9" cy="678.6" r="3.4" fill="url(#gO)"/>
<circle cx="646.2" cy="662.9" r="3.4" fill="url(#gO)"/>
<circle cx="646.9" cy="675" r="3.4" fill="url(#gO)"/>
<circle cx="664.3" cy="664.5" r="3.4" fill="url(#gO)"/>
<circle cx="655.9" cy="675.1" r="3.4" fill="url(#gO)"/>
<circle cx="665.9" cy="677.3" r="3.4" fill="url(#gO)"/>
<ellipse cx="536" cy="590" rx="37" ry="39" fill="#9a5446" opacity="0.5"/>
<ellipse cx="541" cy="581" rx="31" ry="34" fill="#d08a7a"/>
<circle cx="526.2" cy="553.4" r="6.4" fill="url(#gFe)"/>
<circle cx="547.2" cy="553.4" r="6.4" fill="url(#gNi)"/>
<circle cx="557.8" cy="553.4" r="6.4" fill="url(#gNi)"/>
<circle cx="542" cy="562.6" r="6.4" fill="url(#gNi)"/>
<circle cx="552.5" cy="562.6" r="6.4" fill="url(#gNi)"/>
<circle cx="563" cy="562.6" r="6.4" fill="url(#gNi)"/>
<circle cx="515.8" cy="571.8" r="6.4" fill="url(#gNi)"/>
<circle cx="547.2" cy="571.8" r="6.4" fill="url(#gNi)"/>
<circle cx="557.8" cy="571.8" r="6.4" fill="url(#gNi)"/>
<circle cx="568.2" cy="571.8" r="6.4" fill="url(#gNi)"/>
<circle cx="521" cy="581" r="6.4" fill="url(#gNi)"/>
<circle cx="531.5" cy="581" r="6.4" fill="url(#gNi)"/>
<circle cx="552.5" cy="581" r="6.4" fill="url(#gFe)"/>
<circle cx="515.8" cy="590.2" r="6.4" fill="url(#gFe)"/>
<circle cx="536.8" cy="590.2" r="6.4" fill="url(#gNi)"/>
<circle cx="547.2" cy="590.2" r="6.4" fill="url(#gFe)"/>
<circle cx="557.8" cy="590.2" r="6.4" fill="url(#gFe)"/>
<circle cx="521" cy="599.4" r="6.4" fill="url(#gNi)"/>
<circle cx="531.5" cy="599.4" r="6.4" fill="url(#gNi)"/>
<circle cx="542" cy="599.4" r="6.4" fill="url(#gNi)"/>
<circle cx="563" cy="599.4" r="6.4" fill="url(#gNi)"/>
<circle cx="526.2" cy="608.6" r="6.4" fill="url(#gNi)"/>
<circle cx="557.8" cy="608.6" r="6.4" fill="url(#gNi)"/>
<circle cx="544.2" cy="578.9" r="6.8" fill="url(#gFe)"/>
<circle cx="536.3" cy="551.5" r="7" fill="url(#gNi)"/>
<circle cx="521.2" cy="563.9" r="7" fill="url(#gNi)"/>
<circle cx="547.8" cy="562.1" r="7" fill="url(#gNi)"/>
<circle cx="538.1" cy="570.1" r="7" fill="url(#gNi)"/>
<circle cx="553.1" cy="572.7" r="7" fill="url(#gNi)"/>
<circle cx="524.8" cy="574.5" r="7" fill="url(#gNi)"/>
<circle cx="515.9" cy="580.7" r="7" fill="url(#gNi)"/>
<circle cx="532.7" cy="561.2" r="6.8" fill="url(#gFe)"/>
<circle cx="549.6" cy="586.9" r="6.8" fill="url(#gFe)"/>
<circle cx="525.7" cy="589.6" r="6.8" fill="url(#gFe)"/>
<circle cx="516.8" cy="594.9" r="6.8" fill="url(#gFe)"/>
<circle cx="554" cy="596.6" r="6.8" fill="url(#gFe)"/>
<circle cx="535.4" cy="584.2" r="7" fill="url(#gNi)"/>
<circle cx="563.7" cy="582.5" r="7" fill="url(#gNi)"/>
<circle cx="567.3" cy="592.2" r="7" fill="url(#gNi)"/>
<circle cx="538.1" cy="598.4" r="7" fill="url(#gNi)"/>
<circle cx="526.5" cy="602" r="7" fill="url(#gNi)"/>
<circle cx="546.9" cy="606.4" r="7" fill="url(#gNi)"/>
<circle cx="561.9" cy="603.7" r="7" fill="url(#gNi)"/>
<circle cx="535.4" cy="611.7" r="7" fill="url(#gNi)"/>
</g>
<clipPath id="c9"><rect x="782.9" y="579.2" width="44.5" height="40.2"/></clipPath>
<g clip-path="url(#c9)">
<rect x="782.9" y="579.2" width="44.5" height="40.2" fill="#c23a3c"/>
<circle cx="784.8" cy="571.1" r="4.4" fill="#e89a8e"/>
<circle cx="795" cy="571.1" r="4.4" fill="#e89a8e"/>
<circle cx="805.3" cy="571.1" r="4.4" fill="#e89a8e"/>
<circle cx="815.6" cy="571.1" r="4.4" fill="#e89a8e"/>
<circle cx="825.9" cy="571.1" r="4.4" fill="#e89a8e"/>
<circle cx="836.2" cy="571.1" r="4.4" fill="#e89a8e"/>
<circle cx="846.5" cy="571.1" r="4.4" fill="#e89a8e"/>
<circle cx="779.6" cy="580.7" r="4.4" fill="#e89a8e"/>
<circle cx="789.9" cy="580.7" r="4.4" fill="#e89a8e"/>
<circle cx="800.2" cy="580.7" r="4.4" fill="#e89a8e"/>
<circle cx="810.5" cy="580.7" r="4.4" fill="#e89a8e"/>
<circle cx="820.8" cy="580.7" r="4.4" fill="#e89a8e"/>
<circle cx="831.1" cy="580.7" r="4.4" fill="#e89a8e"/>
<circle cx="841.4" cy="580.7" r="4.4" fill="#e89a8e"/>
<circle cx="784.8" cy="590.3" r="4.4" fill="#e89a8e"/>
<circle cx="795" cy="590.3" r="4.4" fill="#e89a8e"/>
<circle cx="805.3" cy="590.3" r="4.4" fill="#e89a8e"/>
<circle cx="815.6" cy="590.3" r="4.4" fill="#e89a8e"/>
<circle cx="825.9" cy="590.3" r="4.4" fill="#e89a8e"/>
<circle cx="836.2" cy="590.3" r="4.4" fill="#e89a8e"/>
<circle cx="846.5" cy="590.3" r="4.4" fill="#e89a8e"/>
<circle cx="779.6" cy="599.9" r="4.4" fill="#e89a8e"/>
<circle cx="789.9" cy="599.9" r="4.4" fill="#e89a8e"/>
<circle cx="800.2" cy="599.9" r="4.4" fill="#e89a8e"/>
<circle cx="810.5" cy="599.9" r="4.4" fill="#e89a8e"/>
<circle cx="820.8" cy="599.9" r="4.4" fill="#e89a8e"/>
<circle cx="831.1" cy="599.9" r="4.4" fill="#e89a8e"/>
<circle cx="841.4" cy="599.9" r="4.4" fill="#e89a8e"/>
<circle cx="784.8" cy="609.5" r="4.4" fill="#e89a8e"/>
<circle cx="795" cy="609.5" r="4.4" fill="#e89a8e"/>
<circle cx="805.3" cy="609.5" r="4.4" fill="#e89a8e"/>
<circle cx="815.6" cy="609.5" r="4.4" fill="#e89a8e"/>
<circle cx="825.9" cy="609.5" r="4.4" fill="#e89a8e"/>
<circle cx="836.2" cy="609.5" r="4.4" fill="#e89a8e"/>
<circle cx="846.5" cy="609.5" r="4.4" fill="#e89a8e"/>
<circle cx="779.6" cy="619.1" r="4.4" fill="#e89a8e"/>
<circle cx="789.9" cy="619.1" r="4.4" fill="#e89a8e"/>
<circle cx="800.2" cy="619.1" r="4.4" fill="#e89a8e"/>
<circle cx="810.5" cy="619.1" r="4.4" fill="#e89a8e"/>
<circle cx="820.8" cy="619.1" r="4.4" fill="#e89a8e"/>
<circle cx="831.1" cy="619.1" r="4.4" fill="#e89a8e"/>
<circle cx="841.4" cy="619.1" r="4.4" fill="#e89a8e"/>
<circle cx="784.8" cy="628.7" r="4.4" fill="#e89a8e"/>
<circle cx="795" cy="628.7" r="4.4" fill="#e89a8e"/>
<circle cx="805.3" cy="628.7" r="4.4" fill="#e89a8e"/>
<circle cx="815.6" cy="628.7" r="4.4" fill="#e89a8e"/>
<circle cx="825.9" cy="628.7" r="4.4" fill="#e89a8e"/>
<circle cx="836.2" cy="628.7" r="4.4" fill="#e89a8e"/>
<circle cx="846.5" cy="628.7" r="4.4" fill="#e89a8e"/>
<circle cx="789.9" cy="574.1" r="2.1" fill="#d8262c"/>
<circle cx="784.8" cy="577.5" r="2.1" fill="#d8262c"/>
<circle cx="800.2" cy="574.1" r="2.1" fill="#d8262c"/>
<circle cx="795" cy="577.5" r="2.1" fill="#d8262c"/>
<circle cx="810.5" cy="574.1" r="2.1" fill="#d8262c"/>
<circle cx="805.3" cy="577.5" r="2.1" fill="#d8262c"/>
<circle cx="820.8" cy="574.1" r="2.1" fill="#d8262c"/>
<circle cx="815.6" cy="577.5" r="2.1" fill="#d8262c"/>
<circle cx="831.1" cy="574.1" r="2.1" fill="#d8262c"/>
<circle cx="825.9" cy="577.5" r="2.1" fill="#d8262c"/>
<circle cx="841.4" cy="574.1" r="2.1" fill="#d8262c"/>
<circle cx="836.2" cy="577.5" r="2.1" fill="#d8262c"/>
<circle cx="851.7" cy="574.1" r="2.1" fill="#d8262c"/>
<circle cx="846.5" cy="577.5" r="2.1" fill="#d8262c"/>
<circle cx="784.8" cy="583.7" r="2.1" fill="#d8262c"/>
<circle cx="779.6" cy="587.1" r="2.1" fill="#d8262c"/>
<circle cx="795" cy="583.7" r="2.1" fill="#d8262c"/>
<circle cx="789.9" cy="587.1" r="2.1" fill="#d8262c"/>
<circle cx="805.3" cy="583.7" r="2.1" fill="#d8262c"/>
<circle cx="800.2" cy="587.1" r="2.1" fill="#d8262c"/>
<circle cx="815.6" cy="583.7" r="2.1" fill="#d8262c"/>
<circle cx="810.5" cy="587.1" r="2.1" fill="#d8262c"/>
<circle cx="825.9" cy="583.7" r="2.1" fill="#d8262c"/>
<circle cx="820.8" cy="587.1" r="2.1" fill="#d8262c"/>
<circle cx="836.2" cy="583.7" r="2.1" fill="#d8262c"/>
<circle cx="831.1" cy="587.1" r="2.1" fill="#d8262c"/>
<circle cx="846.5" cy="583.7" r="2.1" fill="#d8262c"/>
<circle cx="841.4" cy="587.1" r="2.1" fill="#d8262c"/>
<circle cx="789.9" cy="593.3" r="2.1" fill="#d8262c"/>
<circle cx="784.8" cy="596.7" r="2.1" fill="#d8262c"/>
<circle cx="800.2" cy="593.3" r="2.1" fill="#d8262c"/>
<circle cx="795" cy="596.7" r="2.1" fill="#d8262c"/>
<circle cx="810.5" cy="593.3" r="2.1" fill="#d8262c"/>
<circle cx="805.3" cy="596.7" r="2.1" fill="#d8262c"/>
<circle cx="820.8" cy="593.3" r="2.1" fill="#d8262c"/>
<circle cx="815.6" cy="596.7" r="2.1" fill="#d8262c"/>
<circle cx="831.1" cy="593.3" r="2.1" fill="#d8262c"/>
<circle cx="825.9" cy="596.7" r="2.1" fill="#d8262c"/>
<circle cx="841.4" cy="593.3" r="2.1" fill="#d8262c"/>
<circle cx="836.2" cy="596.7" r="2.1" fill="#d8262c"/>
<circle cx="851.7" cy="593.3" r="2.1" fill="#d8262c"/>
<circle cx="846.5" cy="596.7" r="2.1" fill="#d8262c"/>
<circle cx="784.8" cy="602.9" r="2.1" fill="#d8262c"/>
<circle cx="779.6" cy="606.3" r="2.1" fill="#d8262c"/>
<circle cx="795" cy="602.9" r="2.1" fill="#d8262c"/>
<circle cx="789.9" cy="606.3" r="2.1" fill="#d8262c"/>
<circle cx="805.3" cy="602.9" r="2.1" fill="#d8262c"/>
<circle cx="800.2" cy="606.3" r="2.1" fill="#d8262c"/>
<circle cx="815.6" cy="602.9" r="2.1" fill="#d8262c"/>
<circle cx="810.5" cy="606.3" r="2.1" fill="#d8262c"/>
<circle cx="825.9" cy="602.9" r="2.1" fill="#d8262c"/>
<circle cx="820.8" cy="606.3" r="2.1" fill="#d8262c"/>
<circle cx="836.2" cy="602.9" r="2.1" fill="#d8262c"/>
<circle cx="831.1" cy="606.3" r="2.1" fill="#d8262c"/>
<circle cx="846.5" cy="602.9" r="2.1" fill="#d8262c"/>
<circle cx="841.4" cy="606.3" r="2.1" fill="#d8262c"/>
<circle cx="789.9" cy="612.5" r="2.1" fill="#d8262c"/>
<circle cx="784.8" cy="615.9" r="2.1" fill="#d8262c"/>
<circle cx="800.2" cy="612.5" r="2.1" fill="#d8262c"/>
<circle cx="795" cy="615.9" r="2.1" fill="#d8262c"/>
<circle cx="810.5" cy="612.5" r="2.1" fill="#d8262c"/>
<circle cx="805.3" cy="615.9" r="2.1" fill="#d8262c"/>
<circle cx="820.8" cy="612.5" r="2.1" fill="#d8262c"/>
<circle cx="815.6" cy="615.9" r="2.1" fill="#d8262c"/>
<circle cx="831.1" cy="612.5" r="2.1" fill="#d8262c"/>
<circle cx="825.9" cy="615.9" r="2.1" fill="#d8262c"/>
<circle cx="841.4" cy="612.5" r="2.1" fill="#d8262c"/>
<circle cx="836.2" cy="615.9" r="2.1" fill="#d8262c"/>
<circle cx="851.7" cy="612.5" r="2.1" fill="#d8262c"/>
<circle cx="846.5" cy="615.9" r="2.1" fill="#d8262c"/>
<circle cx="784.8" cy="622.1" r="2.1" fill="#d8262c"/>
<circle cx="779.6" cy="625.5" r="2.1" fill="#d8262c"/>
<circle cx="795" cy="622.1" r="2.1" fill="#d8262c"/>
<circle cx="789.9" cy="625.5" r="2.1" fill="#d8262c"/>
<circle cx="805.3" cy="622.1" r="2.1" fill="#d8262c"/>
<circle cx="800.2" cy="625.5" r="2.1" fill="#d8262c"/>
<circle cx="815.6" cy="622.1" r="2.1" fill="#d8262c"/>
<circle cx="810.5" cy="625.5" r="2.1" fill="#d8262c"/>
<circle cx="825.9" cy="622.1" r="2.1" fill="#d8262c"/>
<circle cx="820.8" cy="625.5" r="2.1" fill="#d8262c"/>
<circle cx="836.2" cy="622.1" r="2.1" fill="#d8262c"/>
<circle cx="831.1" cy="625.5" r="2.1" fill="#d8262c"/>
<circle cx="846.5" cy="622.1" r="2.1" fill="#d8262c"/>
<circle cx="841.4" cy="625.5" r="2.1" fill="#d8262c"/>
<circle cx="789.9" cy="631.7" r="2.1" fill="#d8262c"/>
<circle cx="784.8" cy="635.1" r="2.1" fill="#d8262c"/>
<circle cx="800.2" cy="631.7" r="2.1" fill="#d8262c"/>
<circle cx="795" cy="635.1" r="2.1" fill="#d8262c"/>
<circle cx="810.5" cy="631.7" r="2.1" fill="#d8262c"/>
<circle cx="805.3" cy="635.1" r="2.1" fill="#d8262c"/>
<circle cx="820.8" cy="631.7" r="2.1" fill="#d8262c"/>
<circle cx="815.6" cy="635.1" r="2.1" fill="#d8262c"/>
<circle cx="831.1" cy="631.7" r="2.1" fill="#d8262c"/>
<circle cx="825.9" cy="635.1" r="2.1" fill="#d8262c"/>
<circle cx="841.4" cy="631.7" r="2.1" fill="#d8262c"/>
<circle cx="836.2" cy="635.1" r="2.1" fill="#d8262c"/>
<circle cx="851.7" cy="631.7" r="2.1" fill="#d8262c"/>
<circle cx="846.5" cy="635.1" r="2.1" fill="#d8262c"/>
<circle cx="799.8" cy="608.7" r="4.2" fill="url(#gT)"/>
</g>
<rect x="782.8" y="579.1" width="44.7" height="40.2" fill="none" stroke="#4f8ec0" stroke-width="2.7"/>
<clipPath id="c10"><rect x="860" y="579.2" width="44.5" height="40.2"/></clipPath>
<g clip-path="url(#c10)">
<rect x="860" y="579.2" width="44.5" height="40.2" fill="#c23a3c"/>
<circle cx="861.9" cy="571.1" r="4.4" fill="#e89a8e"/>
<circle cx="872.1" cy="571.1" r="4.4" fill="#e89a8e"/>
<circle cx="882.4" cy="571.1" r="4.4" fill="#e89a8e"/>
<circle cx="892.8" cy="571.1" r="4.4" fill="#e89a8e"/>
<circle cx="903" cy="571.1" r="4.4" fill="#e89a8e"/>
<circle cx="913.4" cy="571.1" r="4.4" fill="#e89a8e"/>
<circle cx="923.6" cy="571.1" r="4.4" fill="#e89a8e"/>
<circle cx="856.7" cy="580.7" r="4.4" fill="#e89a8e"/>
<circle cx="867" cy="580.7" r="4.4" fill="#e89a8e"/>
<circle cx="877.3" cy="580.7" r="4.4" fill="#e89a8e"/>
<circle cx="887.6" cy="580.7" r="4.4" fill="#e89a8e"/>
<circle cx="897.9" cy="580.7" r="4.4" fill="#e89a8e"/>
<circle cx="908.2" cy="580.7" r="4.4" fill="#e89a8e"/>
<circle cx="918.5" cy="580.7" r="4.4" fill="#e89a8e"/>
<circle cx="861.9" cy="590.3" r="4.4" fill="#e89a8e"/>
<circle cx="872.1" cy="590.3" r="4.4" fill="#e89a8e"/>
<circle cx="882.4" cy="590.3" r="4.4" fill="#e89a8e"/>
<circle cx="892.8" cy="590.3" r="4.4" fill="#e89a8e"/>
<circle cx="903" cy="590.3" r="4.4" fill="#e89a8e"/>
<circle cx="913.4" cy="590.3" r="4.4" fill="#e89a8e"/>
<circle cx="923.6" cy="590.3" r="4.4" fill="#e89a8e"/>
<circle cx="856.7" cy="599.9" r="4.4" fill="#e89a8e"/>
<circle cx="867" cy="599.9" r="4.4" fill="#e89a8e"/>
<circle cx="877.3" cy="599.9" r="4.4" fill="#e89a8e"/>
<circle cx="887.6" cy="599.9" r="4.4" fill="#e89a8e"/>
<circle cx="897.9" cy="599.9" r="4.4" fill="#e89a8e"/>
<circle cx="908.2" cy="599.9" r="4.4" fill="#e89a8e"/>
<circle cx="918.5" cy="599.9" r="4.4" fill="#e89a8e"/>
<circle cx="861.9" cy="609.5" r="4.4" fill="#e89a8e"/>
<circle cx="872.1" cy="609.5" r="4.4" fill="#e89a8e"/>
<circle cx="882.4" cy="609.5" r="4.4" fill="#e89a8e"/>
<circle cx="892.8" cy="609.5" r="4.4" fill="#e89a8e"/>
<circle cx="903" cy="609.5" r="4.4" fill="#e89a8e"/>
<circle cx="913.4" cy="609.5" r="4.4" fill="#e89a8e"/>
<circle cx="923.6" cy="609.5" r="4.4" fill="#e89a8e"/>
<circle cx="856.7" cy="619.1" r="4.4" fill="#e89a8e"/>
<circle cx="867" cy="619.1" r="4.4" fill="#e89a8e"/>
<circle cx="877.3" cy="619.1" r="4.4" fill="#e89a8e"/>
<circle cx="887.6" cy="619.1" r="4.4" fill="#e89a8e"/>
<circle cx="897.9" cy="619.1" r="4.4" fill="#e89a8e"/>
<circle cx="908.2" cy="619.1" r="4.4" fill="#e89a8e"/>
<circle cx="918.5" cy="619.1" r="4.4" fill="#e89a8e"/>
<circle cx="861.9" cy="628.7" r="4.4" fill="#e89a8e"/>
<circle cx="872.1" cy="628.7" r="4.4" fill="#e89a8e"/>
<circle cx="882.4" cy="628.7" r="4.4" fill="#e89a8e"/>
<circle cx="892.8" cy="628.7" r="4.4" fill="#e89a8e"/>
<circle cx="903" cy="628.7" r="4.4" fill="#e89a8e"/>
<circle cx="913.4" cy="628.7" r="4.4" fill="#e89a8e"/>
<circle cx="923.6" cy="628.7" r="4.4" fill="#e89a8e"/>
<circle cx="867" cy="574.1" r="2.1" fill="#d8262c"/>
<circle cx="861.9" cy="577.5" r="2.1" fill="#d8262c"/>
<circle cx="877.3" cy="574.1" r="2.1" fill="#d8262c"/>
<circle cx="872.1" cy="577.5" r="2.1" fill="#d8262c"/>
<circle cx="887.6" cy="574.1" r="2.1" fill="#d8262c"/>
<circle cx="882.4" cy="577.5" r="2.1" fill="#d8262c"/>
<circle cx="897.9" cy="574.1" r="2.1" fill="#d8262c"/>
<circle cx="892.8" cy="577.5" r="2.1" fill="#d8262c"/>
<circle cx="908.2" cy="574.1" r="2.1" fill="#d8262c"/>
<circle cx="903" cy="577.5" r="2.1" fill="#d8262c"/>
<circle cx="918.5" cy="574.1" r="2.1" fill="#d8262c"/>
<circle cx="913.4" cy="577.5" r="2.1" fill="#d8262c"/>
<circle cx="928.8" cy="574.1" r="2.1" fill="#d8262c"/>
<circle cx="923.6" cy="577.5" r="2.1" fill="#d8262c"/>
<circle cx="861.9" cy="583.7" r="2.1" fill="#d8262c"/>
<circle cx="856.7" cy="587.1" r="2.1" fill="#d8262c"/>
<circle cx="872.1" cy="583.7" r="2.1" fill="#d8262c"/>
<circle cx="867" cy="587.1" r="2.1" fill="#d8262c"/>
<circle cx="882.4" cy="583.7" r="2.1" fill="#d8262c"/>
<circle cx="877.3" cy="587.1" r="2.1" fill="#d8262c"/>
<circle cx="892.8" cy="583.7" r="2.1" fill="#d8262c"/>
<circle cx="887.6" cy="587.1" r="2.1" fill="#d8262c"/>
<circle cx="903" cy="583.7" r="2.1" fill="#d8262c"/>
<circle cx="897.9" cy="587.1" r="2.1" fill="#d8262c"/>
<circle cx="913.4" cy="583.7" r="2.1" fill="#d8262c"/>
<circle cx="908.2" cy="587.1" r="2.1" fill="#d8262c"/>
<circle cx="923.6" cy="583.7" r="2.1" fill="#d8262c"/>
<circle cx="918.5" cy="587.1" r="2.1" fill="#d8262c"/>
<circle cx="867" cy="593.3" r="2.1" fill="#d8262c"/>
<circle cx="861.9" cy="596.7" r="2.1" fill="#d8262c"/>
<circle cx="877.3" cy="593.3" r="2.1" fill="#d8262c"/>
<circle cx="872.1" cy="596.7" r="2.1" fill="#d8262c"/>
<circle cx="887.6" cy="593.3" r="2.1" fill="#d8262c"/>
<circle cx="882.4" cy="596.7" r="2.1" fill="#d8262c"/>
<circle cx="897.9" cy="593.3" r="2.1" fill="#d8262c"/>
<circle cx="892.8" cy="596.7" r="2.1" fill="#d8262c"/>
<circle cx="908.2" cy="593.3" r="2.1" fill="#d8262c"/>
<circle cx="903" cy="596.7" r="2.1" fill="#d8262c"/>
<circle cx="918.5" cy="593.3" r="2.1" fill="#d8262c"/>
<circle cx="913.4" cy="596.7" r="2.1" fill="#d8262c"/>
<circle cx="928.8" cy="593.3" r="2.1" fill="#d8262c"/>
<circle cx="923.6" cy="596.7" r="2.1" fill="#d8262c"/>
<circle cx="861.9" cy="602.9" r="2.1" fill="#d8262c"/>
<circle cx="856.7" cy="606.3" r="2.1" fill="#d8262c"/>
<circle cx="872.1" cy="602.9" r="2.1" fill="#d8262c"/>
<circle cx="867" cy="606.3" r="2.1" fill="#d8262c"/>
<circle cx="882.4" cy="602.9" r="2.1" fill="#d8262c"/>
<circle cx="877.3" cy="606.3" r="2.1" fill="#d8262c"/>
<circle cx="892.8" cy="602.9" r="2.1" fill="#d8262c"/>
<circle cx="887.6" cy="606.3" r="2.1" fill="#d8262c"/>
<circle cx="903" cy="602.9" r="2.1" fill="#d8262c"/>
<circle cx="897.9" cy="606.3" r="2.1" fill="#d8262c"/>
<circle cx="913.4" cy="602.9" r="2.1" fill="#d8262c"/>
<circle cx="908.2" cy="606.3" r="2.1" fill="#d8262c"/>
<circle cx="923.6" cy="602.9" r="2.1" fill="#d8262c"/>
<circle cx="918.5" cy="606.3" r="2.1" fill="#d8262c"/>
<circle cx="867" cy="612.5" r="2.1" fill="#d8262c"/>
<circle cx="861.9" cy="615.9" r="2.1" fill="#d8262c"/>
<circle cx="877.3" cy="612.5" r="2.1" fill="#d8262c"/>
<circle cx="872.1" cy="615.9" r="2.1" fill="#d8262c"/>
<circle cx="887.6" cy="612.5" r="2.1" fill="#d8262c"/>
<circle cx="882.4" cy="615.9" r="2.1" fill="#d8262c"/>
<circle cx="897.9" cy="612.5" r="2.1" fill="#d8262c"/>
<circle cx="892.8" cy="615.9" r="2.1" fill="#d8262c"/>
<circle cx="908.2" cy="612.5" r="2.1" fill="#d8262c"/>
<circle cx="903" cy="615.9" r="2.1" fill="#d8262c"/>
<circle cx="918.5" cy="612.5" r="2.1" fill="#d8262c"/>
<circle cx="913.4" cy="615.9" r="2.1" fill="#d8262c"/>
<circle cx="928.8" cy="612.5" r="2.1" fill="#d8262c"/>
<circle cx="923.6" cy="615.9" r="2.1" fill="#d8262c"/>
<circle cx="861.9" cy="622.1" r="2.1" fill="#d8262c"/>
<circle cx="856.7" cy="625.5" r="2.1" fill="#d8262c"/>
<circle cx="872.1" cy="622.1" r="2.1" fill="#d8262c"/>
<circle cx="867" cy="625.5" r="2.1" fill="#d8262c"/>
<circle cx="882.4" cy="622.1" r="2.1" fill="#d8262c"/>
<circle cx="877.3" cy="625.5" r="2.1" fill="#d8262c"/>
<circle cx="892.8" cy="622.1" r="2.1" fill="#d8262c"/>
<circle cx="887.6" cy="625.5" r="2.1" fill="#d8262c"/>
<circle cx="903" cy="622.1" r="2.1" fill="#d8262c"/>
<circle cx="897.9" cy="625.5" r="2.1" fill="#d8262c"/>
<circle cx="913.4" cy="622.1" r="2.1" fill="#d8262c"/>
<circle cx="908.2" cy="625.5" r="2.1" fill="#d8262c"/>
<circle cx="923.6" cy="622.1" r="2.1" fill="#d8262c"/>
<circle cx="918.5" cy="625.5" r="2.1" fill="#d8262c"/>
<circle cx="867" cy="631.7" r="2.1" fill="#d8262c"/>
<circle cx="861.9" cy="635.1" r="2.1" fill="#d8262c"/>
<circle cx="877.3" cy="631.7" r="2.1" fill="#d8262c"/>
<circle cx="872.1" cy="635.1" r="2.1" fill="#d8262c"/>
<circle cx="887.6" cy="631.7" r="2.1" fill="#d8262c"/>
<circle cx="882.4" cy="635.1" r="2.1" fill="#d8262c"/>
<circle cx="897.9" cy="631.7" r="2.1" fill="#d8262c"/>
<circle cx="892.8" cy="635.1" r="2.1" fill="#d8262c"/>
<circle cx="908.2" cy="631.7" r="2.1" fill="#d8262c"/>
<circle cx="903" cy="635.1" r="2.1" fill="#d8262c"/>
<circle cx="918.5" cy="631.7" r="2.1" fill="#d8262c"/>
<circle cx="913.4" cy="635.1" r="2.1" fill="#d8262c"/>
<circle cx="928.8" cy="631.7" r="2.1" fill="#d8262c"/>
<circle cx="923.6" cy="635.1" r="2.1" fill="#d8262c"/>
<circle cx="881" cy="598.5" r="4.2" fill="url(#gT)"/>
</g>
<rect x="859.9" y="579.1" width="44.7" height="40.2" fill="none" stroke="#4f8ec0" stroke-width="2.7"/>
<clipPath id="c11"><rect x="938.3" y="579.2" width="44.5" height="40.2"/></clipPath>
<g clip-path="url(#c11)">
<rect x="938.3" y="579.2" width="44.5" height="40.2" fill="#c23a3c"/>
<circle cx="940.1" cy="571.1" r="4.4" fill="#e89a8e"/>
<circle cx="950.4" cy="571.1" r="4.4" fill="#e89a8e"/>
<circle cx="960.7" cy="571.1" r="4.4" fill="#e89a8e"/>
<circle cx="971" cy="571.1" r="4.4" fill="#e89a8e"/>
<circle cx="981.3" cy="571.1" r="4.4" fill="#e89a8e"/>
<circle cx="991.6" cy="571.1" r="4.4" fill="#e89a8e"/>
<circle cx="1001.9" cy="571.1" r="4.4" fill="#e89a8e"/>
<circle cx="935" cy="580.7" r="4.4" fill="#e89a8e"/>
<circle cx="945.3" cy="580.7" r="4.4" fill="#e89a8e"/>
<circle cx="955.6" cy="580.7" r="4.4" fill="#e89a8e"/>
<circle cx="965.9" cy="580.7" r="4.4" fill="#e89a8e"/>
<circle cx="976.2" cy="580.7" r="4.4" fill="#e89a8e"/>
<circle cx="986.5" cy="580.7" r="4.4" fill="#e89a8e"/>
<circle cx="996.8" cy="580.7" r="4.4" fill="#e89a8e"/>
<circle cx="940.1" cy="590.3" r="4.4" fill="#e89a8e"/>
<circle cx="950.4" cy="590.3" r="4.4" fill="#e89a8e"/>
<circle cx="960.7" cy="590.3" r="4.4" fill="#e89a8e"/>
<circle cx="971" cy="590.3" r="4.4" fill="#e89a8e"/>
<circle cx="981.3" cy="590.3" r="4.4" fill="#e89a8e"/>
<circle cx="991.6" cy="590.3" r="4.4" fill="#e89a8e"/>
<circle cx="1001.9" cy="590.3" r="4.4" fill="#e89a8e"/>
<circle cx="935" cy="599.9" r="4.4" fill="#e89a8e"/>
<circle cx="945.3" cy="599.9" r="4.4" fill="#e89a8e"/>
<circle cx="955.6" cy="599.9" r="4.4" fill="#e89a8e"/>
<circle cx="965.9" cy="599.9" r="4.4" fill="#e89a8e"/>
<circle cx="976.2" cy="599.9" r="4.4" fill="#e89a8e"/>
<circle cx="986.5" cy="599.9" r="4.4" fill="#e89a8e"/>
<circle cx="996.8" cy="599.9" r="4.4" fill="#e89a8e"/>
<circle cx="940.1" cy="609.5" r="4.4" fill="#e89a8e"/>
<circle cx="950.4" cy="609.5" r="4.4" fill="#e89a8e"/>
<circle cx="960.7" cy="609.5" r="4.4" fill="#e89a8e"/>
<circle cx="971" cy="609.5" r="4.4" fill="#e89a8e"/>
<circle cx="981.3" cy="609.5" r="4.4" fill="#e89a8e"/>
<circle cx="991.6" cy="609.5" r="4.4" fill="#e89a8e"/>
<circle cx="1001.9" cy="609.5" r="4.4" fill="#e89a8e"/>
<circle cx="935" cy="619.1" r="4.4" fill="#e89a8e"/>
<circle cx="945.3" cy="619.1" r="4.4" fill="#e89a8e"/>
<circle cx="955.6" cy="619.1" r="4.4" fill="#e89a8e"/>
<circle cx="965.9" cy="619.1" r="4.4" fill="#e89a8e"/>
<circle cx="976.2" cy="619.1" r="4.4" fill="#e89a8e"/>
<circle cx="986.5" cy="619.1" r="4.4" fill="#e89a8e"/>
<circle cx="996.8" cy="619.1" r="4.4" fill="#e89a8e"/>
<circle cx="940.1" cy="628.7" r="4.4" fill="#e89a8e"/>
<circle cx="950.4" cy="628.7" r="4.4" fill="#e89a8e"/>
<circle cx="960.7" cy="628.7" r="4.4" fill="#e89a8e"/>
<circle cx="971" cy="628.7" r="4.4" fill="#e89a8e"/>
<circle cx="981.3" cy="628.7" r="4.4" fill="#e89a8e"/>
<circle cx="991.6" cy="628.7" r="4.4" fill="#e89a8e"/>
<circle cx="1001.9" cy="628.7" r="4.4" fill="#e89a8e"/>
<circle cx="945.3" cy="574.1" r="2.1" fill="#d8262c"/>
<circle cx="940.1" cy="577.5" r="2.1" fill="#d8262c"/>
<circle cx="955.6" cy="574.1" r="2.1" fill="#d8262c"/>
<circle cx="950.4" cy="577.5" r="2.1" fill="#d8262c"/>
<circle cx="965.9" cy="574.1" r="2.1" fill="#d8262c"/>
<circle cx="960.7" cy="577.5" r="2.1" fill="#d8262c"/>
<circle cx="976.2" cy="574.1" r="2.1" fill="#d8262c"/>
<circle cx="971" cy="577.5" r="2.1" fill="#d8262c"/>
<circle cx="986.5" cy="574.1" r="2.1" fill="#d8262c"/>
<circle cx="981.3" cy="577.5" r="2.1" fill="#d8262c"/>
<circle cx="996.8" cy="574.1" r="2.1" fill="#d8262c"/>
<circle cx="991.6" cy="577.5" r="2.1" fill="#d8262c"/>
<circle cx="1007.1" cy="574.1" r="2.1" fill="#d8262c"/>
<circle cx="1001.9" cy="577.5" r="2.1" fill="#d8262c"/>
<circle cx="940.1" cy="583.7" r="2.1" fill="#d8262c"/>
<circle cx="935" cy="587.1" r="2.1" fill="#d8262c"/>
<circle cx="950.4" cy="583.7" r="2.1" fill="#d8262c"/>
<circle cx="945.3" cy="587.1" r="2.1" fill="#d8262c"/>
<circle cx="960.7" cy="583.7" r="2.1" fill="#d8262c"/>
<circle cx="955.6" cy="587.1" r="2.1" fill="#d8262c"/>
<circle cx="971" cy="583.7" r="2.1" fill="#d8262c"/>
<circle cx="965.9" cy="587.1" r="2.1" fill="#d8262c"/>
<circle cx="981.3" cy="583.7" r="2.1" fill="#d8262c"/>
<circle cx="976.2" cy="587.1" r="2.1" fill="#d8262c"/>
<circle cx="991.6" cy="583.7" r="2.1" fill="#d8262c"/>
<circle cx="986.5" cy="587.1" r="2.1" fill="#d8262c"/>
<circle cx="1001.9" cy="583.7" r="2.1" fill="#d8262c"/>
<circle cx="996.8" cy="587.1" r="2.1" fill="#d8262c"/>
<circle cx="945.3" cy="593.3" r="2.1" fill="#d8262c"/>
<circle cx="940.1" cy="596.7" r="2.1" fill="#d8262c"/>
<circle cx="955.6" cy="593.3" r="2.1" fill="#d8262c"/>
<circle cx="950.4" cy="596.7" r="2.1" fill="#d8262c"/>
<circle cx="965.9" cy="593.3" r="2.1" fill="#d8262c"/>
<circle cx="960.7" cy="596.7" r="2.1" fill="#d8262c"/>
<circle cx="976.2" cy="593.3" r="2.1" fill="#d8262c"/>
<circle cx="971" cy="596.7" r="2.1" fill="#d8262c"/>
<circle cx="986.5" cy="593.3" r="2.1" fill="#d8262c"/>
<circle cx="981.3" cy="596.7" r="2.1" fill="#d8262c"/>
<circle cx="996.8" cy="593.3" r="2.1" fill="#d8262c"/>
<circle cx="991.6" cy="596.7" r="2.1" fill="#d8262c"/>
<circle cx="1007.1" cy="593.3" r="2.1" fill="#d8262c"/>
<circle cx="1001.9" cy="596.7" r="2.1" fill="#d8262c"/>
<circle cx="940.1" cy="602.9" r="2.1" fill="#d8262c"/>
<circle cx="935" cy="606.3" r="2.1" fill="#d8262c"/>
<circle cx="950.4" cy="602.9" r="2.1" fill="#d8262c"/>
<circle cx="945.3" cy="606.3" r="2.1" fill="#d8262c"/>
<circle cx="960.7" cy="602.9" r="2.1" fill="#d8262c"/>
<circle cx="955.6" cy="606.3" r="2.1" fill="#d8262c"/>
<circle cx="971" cy="602.9" r="2.1" fill="#d8262c"/>
<circle cx="965.9" cy="606.3" r="2.1" fill="#d8262c"/>
<circle cx="981.3" cy="602.9" r="2.1" fill="#d8262c"/>
<circle cx="976.2" cy="606.3" r="2.1" fill="#d8262c"/>
<circle cx="991.6" cy="602.9" r="2.1" fill="#d8262c"/>
<circle cx="986.5" cy="606.3" r="2.1" fill="#d8262c"/>
<circle cx="1001.9" cy="602.9" r="2.1" fill="#d8262c"/>
<circle cx="996.8" cy="606.3" r="2.1" fill="#d8262c"/>
<circle cx="945.3" cy="612.5" r="2.1" fill="#d8262c"/>
<circle cx="940.1" cy="615.9" r="2.1" fill="#d8262c"/>
<circle cx="955.6" cy="612.5" r="2.1" fill="#d8262c"/>
<circle cx="950.4" cy="615.9" r="2.1" fill="#d8262c"/>
<circle cx="965.9" cy="612.5" r="2.1" fill="#d8262c"/>
<circle cx="960.7" cy="615.9" r="2.1" fill="#d8262c"/>
<circle cx="976.2" cy="612.5" r="2.1" fill="#d8262c"/>
<circle cx="971" cy="615.9" r="2.1" fill="#d8262c"/>
<circle cx="986.5" cy="612.5" r="2.1" fill="#d8262c"/>
<circle cx="981.3" cy="615.9" r="2.1" fill="#d8262c"/>
<circle cx="996.8" cy="612.5" r="2.1" fill="#d8262c"/>
<circle cx="991.6" cy="615.9" r="2.1" fill="#d8262c"/>
<circle cx="1007.1" cy="612.5" r="2.1" fill="#d8262c"/>
<circle cx="1001.9" cy="615.9" r="2.1" fill="#d8262c"/>
<circle cx="940.1" cy="622.1" r="2.1" fill="#d8262c"/>
<circle cx="935" cy="625.5" r="2.1" fill="#d8262c"/>
<circle cx="950.4" cy="622.1" r="2.1" fill="#d8262c"/>
<circle cx="945.3" cy="625.5" r="2.1" fill="#d8262c"/>
<circle cx="960.7" cy="622.1" r="2.1" fill="#d8262c"/>
<circle cx="955.6" cy="625.5" r="2.1" fill="#d8262c"/>
<circle cx="971" cy="622.1" r="2.1" fill="#d8262c"/>
<circle cx="965.9" cy="625.5" r="2.1" fill="#d8262c"/>
<circle cx="981.3" cy="622.1" r="2.1" fill="#d8262c"/>
<circle cx="976.2" cy="625.5" r="2.1" fill="#d8262c"/>
<circle cx="991.6" cy="622.1" r="2.1" fill="#d8262c"/>
<circle cx="986.5" cy="625.5" r="2.1" fill="#d8262c"/>
<circle cx="1001.9" cy="622.1" r="2.1" fill="#d8262c"/>
<circle cx="996.8" cy="625.5" r="2.1" fill="#d8262c"/>
<circle cx="945.3" cy="631.7" r="2.1" fill="#d8262c"/>
<circle cx="940.1" cy="635.1" r="2.1" fill="#d8262c"/>
<circle cx="955.6" cy="631.7" r="2.1" fill="#d8262c"/>
<circle cx="950.4" cy="635.1" r="2.1" fill="#d8262c"/>
<circle cx="965.9" cy="631.7" r="2.1" fill="#d8262c"/>
<circle cx="960.7" cy="635.1" r="2.1" fill="#d8262c"/>
<circle cx="976.2" cy="631.7" r="2.1" fill="#d8262c"/>
<circle cx="971" cy="635.1" r="2.1" fill="#d8262c"/>
<circle cx="986.5" cy="631.7" r="2.1" fill="#d8262c"/>
<circle cx="981.3" cy="635.1" r="2.1" fill="#d8262c"/>
<circle cx="996.8" cy="631.7" r="2.1" fill="#d8262c"/>
<circle cx="991.6" cy="635.1" r="2.1" fill="#d8262c"/>
<circle cx="1007.1" cy="631.7" r="2.1" fill="#d8262c"/>
<circle cx="1001.9" cy="635.1" r="2.1" fill="#d8262c"/>
<circle cx="964.3" cy="588" r="4.2" fill="url(#gT)"/>
</g>
<rect x="938.2" y="579.1" width="44.7" height="40.2" fill="none" stroke="#4f8ec0" stroke-width="2.7"/>
<clipPath id="c12"><rect x="783.6" y="517.7" width="44.2" height="43.2"/></clipPath>
<g clip-path="url(#c12)">
<rect x="783.6" y="517.7" width="44.2" height="43.2" fill="#f4dcd8"/>
<circle cx="791.4" cy="523.2" r="5.6" fill="#e3a093" stroke="#c47a70" stroke-width="0.6"/>
<circle cx="800.5" cy="523.6" r="5.6" fill="#e3a093" stroke="#c47a70" stroke-width="0.6"/>
<circle cx="810.8" cy="524.6" r="5.6" fill="#e3a093" stroke="#c47a70" stroke-width="0.6"/>
<circle cx="820.2" cy="523.3" r="5.6" fill="#e3a093" stroke="#c47a70" stroke-width="0.6"/>
<circle cx="791" cy="532.7" r="5.6" fill="#e3a093" stroke="#c47a70" stroke-width="0.6"/>
<circle cx="800.4" cy="532.6" r="5.6" fill="#e3a093" stroke="#c47a70" stroke-width="0.6"/>
<circle cx="809.3" cy="534.2" r="5.6" fill="#e3a093" stroke="#c47a70" stroke-width="0.6"/>
<circle cx="819.2" cy="534.1" r="5.6" fill="#e3a093" stroke="#c47a70" stroke-width="0.6"/>
<circle cx="791.5" cy="543.5" r="5.6" fill="#e3a093" stroke="#c47a70" stroke-width="0.6"/>
<circle cx="801.2" cy="542.3" r="5.6" fill="#e3a093" stroke="#c47a70" stroke-width="0.6"/>
<circle cx="809.1" cy="543.6" r="5.6" fill="#e3a093" stroke="#c47a70" stroke-width="0.6"/>
<circle cx="819.9" cy="542.2" r="5.6" fill="#e3a093" stroke="#c47a70" stroke-width="0.6"/>
<circle cx="790.8" cy="552.8" r="5.6" fill="#e3a093" stroke="#c47a70" stroke-width="0.6"/>
<circle cx="800.4" cy="552.2" r="5.6" fill="#e3a093" stroke="#c47a70" stroke-width="0.6"/>
<circle cx="810" cy="552.4" r="5.6" fill="#e3a093" stroke="#c47a70" stroke-width="0.6"/>
<circle cx="820.1" cy="551.7" r="5.6" fill="#e3a093" stroke="#c47a70" stroke-width="0.6"/>
<circle cx="794.7" cy="518.5" r="2.6" fill="#d23038"/>
<circle cx="806.3" cy="520.5" r="2.6" fill="#d23038"/>
<circle cx="816.1" cy="520.1" r="2.6" fill="#d23038"/>
<circle cx="797" cy="529.5" r="2.6" fill="#d23038"/>
<circle cx="813.9" cy="529.4" r="2.6" fill="#d23038"/>
<circle cx="822.8" cy="530.4" r="2.6" fill="#d23038"/>
<circle cx="785.2" cy="539.8" r="2.6" fill="#d23038"/>
<circle cx="795.4" cy="539.3" r="2.6" fill="#d23038"/>
<circle cx="805.1" cy="539.6" r="2.6" fill="#d23038"/>
<circle cx="814.8" cy="538.4" r="2.6" fill="#d23038"/>
<circle cx="796.7" cy="548.3" r="2.6" fill="#d23038"/>
<circle cx="815.3" cy="547.4" r="2.6" fill="#d23038"/>
<circle cx="823.4" cy="547.1" r="2.6" fill="#d23038"/>
<circle cx="815.7" cy="556.8" r="2.6" fill="#d23038"/>
<circle cx="822.9" cy="559.2" r="2.6" fill="#d23038"/>
<circle cx="815.9" cy="545.5" r="5.2" fill="url(#gT)"/>
</g>
<rect x="783.5" y="517.6" width="43.9" height="43.4" fill="none" stroke="#e03a2e" stroke-width="2.7"/>
<clipPath id="c13"><rect x="859.9" y="432.8" width="44.2" height="43.2"/></clipPath>
<g clip-path="url(#c13)">
<rect x="859.9" y="432.8" width="44.2" height="43.2" fill="#f4dcd8"/>
<circle cx="867.5" cy="438" r="5.6" fill="#e3a093" stroke="#c47a70" stroke-width="0.6"/>
<circle cx="876.1" cy="439.5" r="5.6" fill="#e3a093" stroke="#c47a70" stroke-width="0.6"/>
<circle cx="885.5" cy="438.8" r="5.6" fill="#e3a093" stroke="#c47a70" stroke-width="0.6"/>
<circle cx="895.5" cy="438.6" r="5.6" fill="#e3a093" stroke="#c47a70" stroke-width="0.6"/>
<circle cx="866.7" cy="449.1" r="5.6" fill="#e3a093" stroke="#c47a70" stroke-width="0.6"/>
<circle cx="877.1" cy="448.7" r="5.6" fill="#e3a093" stroke="#c47a70" stroke-width="0.6"/>
<circle cx="886" cy="448.1" r="5.6" fill="#e3a093" stroke="#c47a70" stroke-width="0.6"/>
<circle cx="895.1" cy="447.7" r="5.6" fill="#e3a093" stroke="#c47a70" stroke-width="0.6"/>
<circle cx="866.5" cy="457.1" r="5.6" fill="#e3a093" stroke="#c47a70" stroke-width="0.6"/>
<circle cx="876.5" cy="457.7" r="5.6" fill="#e3a093" stroke="#c47a70" stroke-width="0.6"/>
<circle cx="886.6" cy="458.7" r="5.6" fill="#e3a093" stroke="#c47a70" stroke-width="0.6"/>
<circle cx="895.4" cy="457.8" r="5.6" fill="#e3a093" stroke="#c47a70" stroke-width="0.6"/>
<circle cx="866.7" cy="468.5" r="5.6" fill="#e3a093" stroke="#c47a70" stroke-width="0.6"/>
<circle cx="876" cy="468.2" r="5.6" fill="#e3a093" stroke="#c47a70" stroke-width="0.6"/>
<circle cx="886.9" cy="467.4" r="5.6" fill="#e3a093" stroke="#c47a70" stroke-width="0.6"/>
<circle cx="894.7" cy="466.8" r="5.6" fill="#e3a093" stroke="#c47a70" stroke-width="0.6"/>
<circle cx="873.7" cy="434.5" r="2.6" fill="#d23038"/>
<circle cx="880.8" cy="434.5" r="2.6" fill="#d23038"/>
<circle cx="889.6" cy="435.2" r="2.6" fill="#d23038"/>
<circle cx="861.5" cy="445.1" r="2.6" fill="#d23038"/>
<circle cx="872.8" cy="443.7" r="2.6" fill="#d23038"/>
<circle cx="882.7" cy="443.7" r="2.6" fill="#d23038"/>
<circle cx="891.2" cy="444.9" r="2.6" fill="#d23038"/>
<circle cx="861.5" cy="454.5" r="2.6" fill="#d23038"/>
<circle cx="880.7" cy="453.9" r="2.6" fill="#d23038"/>
<circle cx="891.3" cy="454" r="2.6" fill="#d23038"/>
<circle cx="880.6" cy="463.3" r="2.6" fill="#d23038"/>
<circle cx="872.5" cy="472.1" r="2.6" fill="#d23038"/>
<circle cx="881.3" cy="474.3" r="2.6" fill="#d23038"/>
<circle cx="884.2" cy="455.6" r="5.2" fill="url(#gT)"/>
</g>
<rect x="859.8" y="432.7" width="43.9" height="43.4" fill="none" stroke="#e03a2e" stroke-width="2.7"/>
<clipPath id="c14"><rect x="938.3" y="517.7" width="44.2" height="43.2"/></clipPath>
<g clip-path="url(#c14)">
<rect x="938.3" y="517.7" width="44.2" height="43.2" fill="#f4dcd8"/>
<circle cx="945.1" cy="524.6" r="5.6" fill="#e3a093" stroke="#c47a70" stroke-width="0.6"/>
<circle cx="956.1" cy="522.8" r="5.6" fill="#e3a093" stroke="#c47a70" stroke-width="0.6"/>
<circle cx="964" cy="523.7" r="5.6" fill="#e3a093" stroke="#c47a70" stroke-width="0.6"/>
<circle cx="974.4" cy="523.1" r="5.6" fill="#e3a093" stroke="#c47a70" stroke-width="0.6"/>
<circle cx="945.6" cy="533.1" r="5.6" fill="#e3a093" stroke="#c47a70" stroke-width="0.6"/>
<circle cx="954.9" cy="534.2" r="5.6" fill="#e3a093" stroke="#c47a70" stroke-width="0.6"/>
<circle cx="964" cy="534" r="5.6" fill="#e3a093" stroke="#c47a70" stroke-width="0.6"/>
<circle cx="975" cy="532.7" r="5.6" fill="#e3a093" stroke="#c47a70" stroke-width="0.6"/>
<circle cx="946.3" cy="543.7" r="5.6" fill="#e3a093" stroke="#c47a70" stroke-width="0.6"/>
<circle cx="954.7" cy="543.1" r="5.6" fill="#e3a093" stroke="#c47a70" stroke-width="0.6"/>
<circle cx="964.5" cy="543.2" r="5.6" fill="#e3a093" stroke="#c47a70" stroke-width="0.6"/>
<circle cx="974.8" cy="542.6" r="5.6" fill="#e3a093" stroke="#c47a70" stroke-width="0.6"/>
<circle cx="946.3" cy="552.8" r="5.6" fill="#e3a093" stroke="#c47a70" stroke-width="0.6"/>
<circle cx="954.6" cy="553.5" r="5.6" fill="#e3a093" stroke="#c47a70" stroke-width="0.6"/>
<circle cx="964.1" cy="552.9" r="5.6" fill="#e3a093" stroke="#c47a70" stroke-width="0.6"/>
<circle cx="973.9" cy="552.8" r="5.6" fill="#e3a093" stroke="#c47a70" stroke-width="0.6"/>
<circle cx="940.4" cy="519.7" r="2.6" fill="#d23038"/>
<circle cx="959.4" cy="520.3" r="2.6" fill="#d23038"/>
<circle cx="968.1" cy="520.1" r="2.6" fill="#d23038"/>
<circle cx="979.3" cy="518.8" r="2.6" fill="#d23038"/>
<circle cx="942.1" cy="528" r="2.6" fill="#d23038"/>
<circle cx="951.3" cy="528.8" r="2.6" fill="#d23038"/>
<circle cx="968" cy="529.3" r="2.6" fill="#d23038"/>
<circle cx="979.8" cy="527.9" r="2.6" fill="#d23038"/>
<circle cx="941.5" cy="538.2" r="2.6" fill="#d23038"/>
<circle cx="950" cy="539.7" r="2.6" fill="#d23038"/>
<circle cx="961.5" cy="539.6" r="2.6" fill="#d23038"/>
<circle cx="941.8" cy="547.2" r="2.6" fill="#d23038"/>
<circle cx="951.4" cy="547.2" r="2.6" fill="#d23038"/>
<circle cx="961.4" cy="549.5" r="2.6" fill="#d23038"/>
<circle cx="969" cy="549.6" r="2.6" fill="#d23038"/>
<circle cx="977.6" cy="547.7" r="2.6" fill="#d23038"/>
<circle cx="942.5" cy="559" r="2.6" fill="#d23038"/>
<circle cx="979.3" cy="556.9" r="2.6" fill="#d23038"/>
<circle cx="958.4" cy="536.1" r="5.2" fill="url(#gT)"/>
</g>
<rect x="938.2" y="517.6" width="43.9" height="43.4" fill="none" stroke="#e03a2e" stroke-width="2.7"/>
</svg></body></html>
